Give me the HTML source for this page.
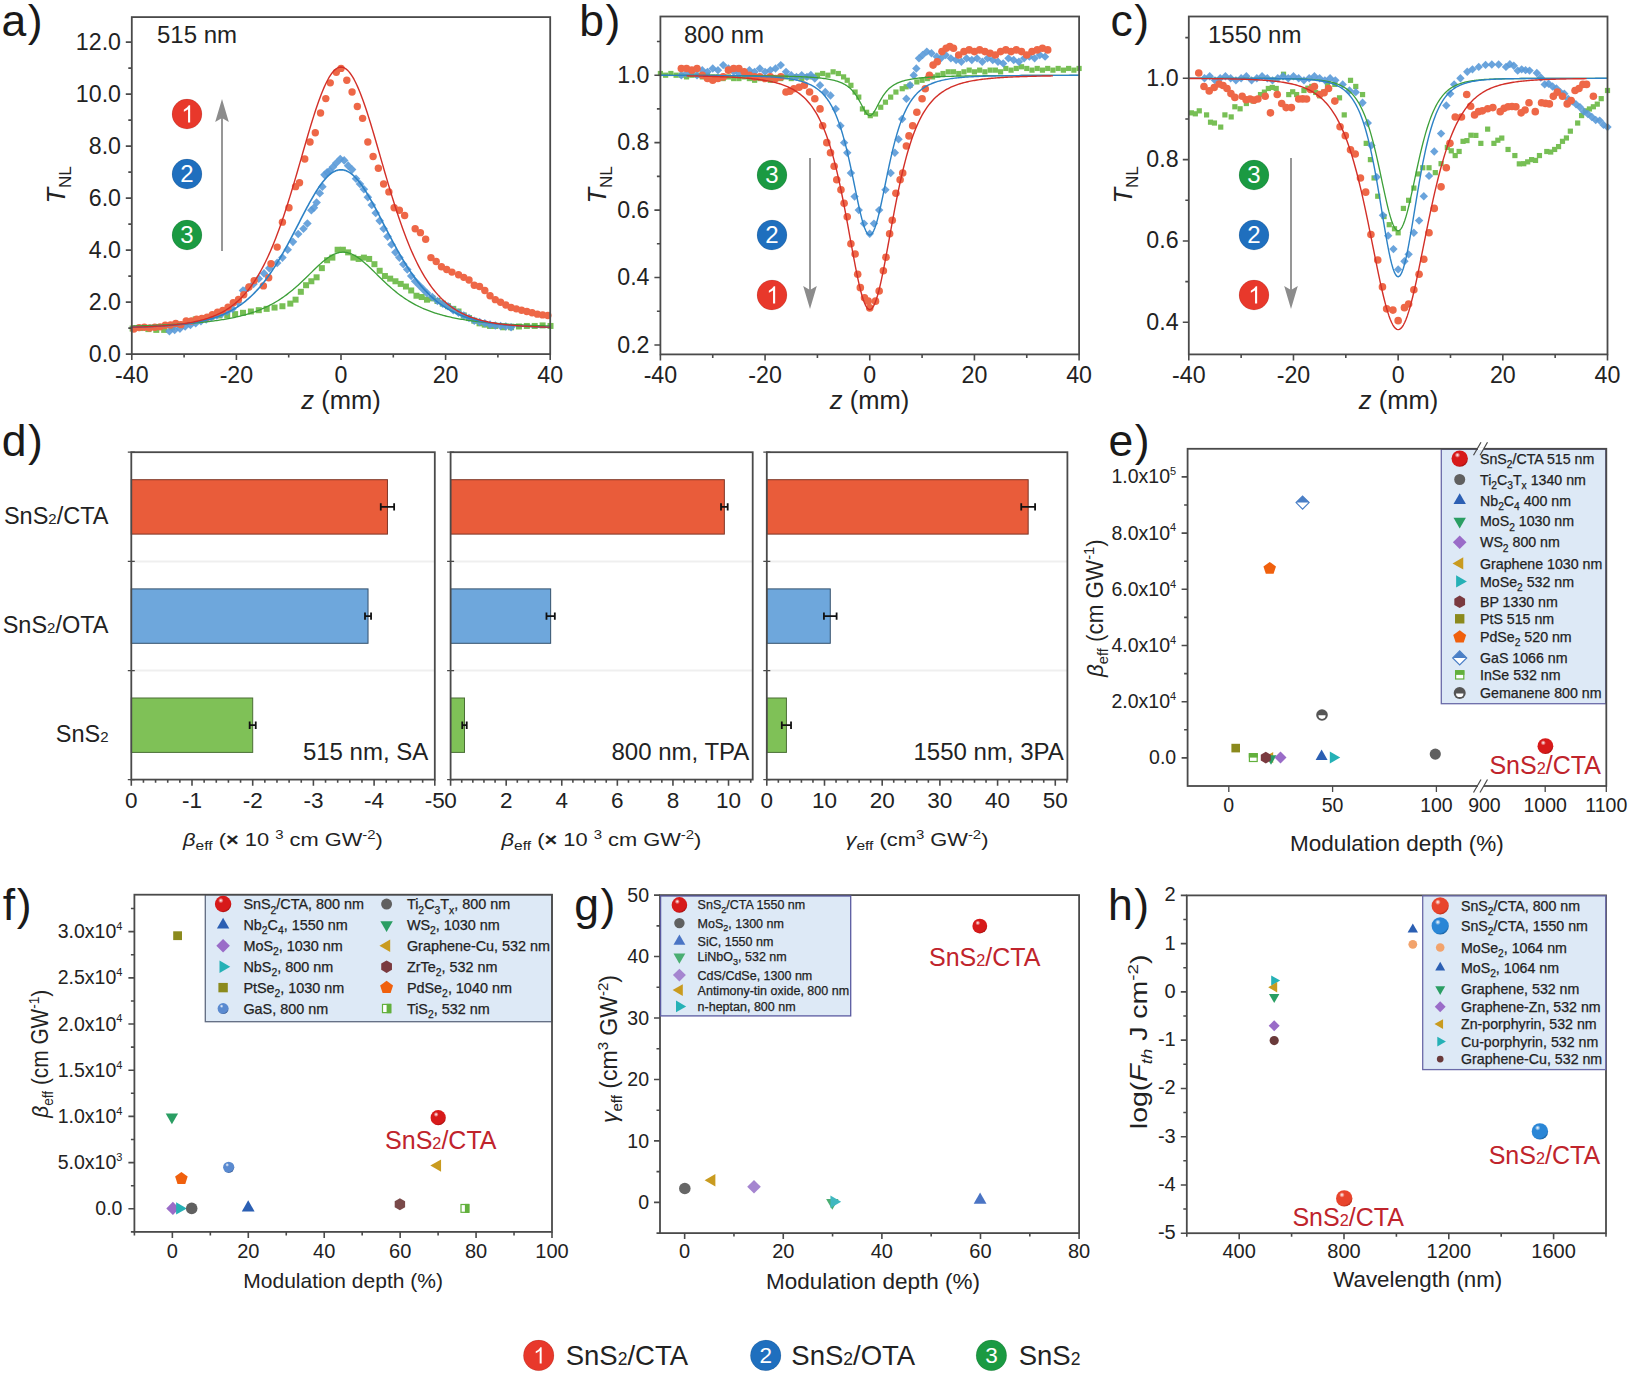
<!DOCTYPE html>
<html><head><meta charset="utf-8"><style>
html,body{margin:0;padding:0;background:#fff;}
svg{display:block;font-family:"Liberation Sans", sans-serif;}
</style></head><body>
<svg width="1636" height="1375" viewBox="0 0 1636 1375">
<defs><radialGradient id="sg1" cx="0.38" cy="0.32" r="0.75" fx="0.36" fy="0.28"><stop offset="0" stop-color="#ffffff"/><stop offset="0.22" stop-color="#d71a1a"/><stop offset="0.8" stop-color="#d71a1a"/><stop offset="1" stop-color="#8a0808"/></radialGradient>
<radialGradient id="sg2" cx="0.38" cy="0.32" r="0.75" fx="0.36" fy="0.28"><stop offset="0" stop-color="#ffffff"/><stop offset="0.22" stop-color="#d71a1a"/><stop offset="0.8" stop-color="#d71a1a"/><stop offset="1" stop-color="#8a0808"/></radialGradient>
<radialGradient id="sg3" cx="0.38" cy="0.32" r="0.75" fx="0.36" fy="0.28"><stop offset="0" stop-color="#ffffff"/><stop offset="0.22" stop-color="#d71a1a"/><stop offset="0.8" stop-color="#d71a1a"/><stop offset="1" stop-color="#8a0808"/></radialGradient>
<radialGradient id="sg4" cx="0.38" cy="0.32" r="0.75" fx="0.36" fy="0.28"><stop offset="0" stop-color="#ffffff"/><stop offset="0.22" stop-color="#5a8ad0"/><stop offset="0.8" stop-color="#5a8ad0"/><stop offset="1" stop-color="#2a4a80"/></radialGradient>
<radialGradient id="sg5" cx="0.38" cy="0.32" r="0.75" fx="0.36" fy="0.28"><stop offset="0" stop-color="#ffffff"/><stop offset="0.22" stop-color="#d71a1a"/><stop offset="0.8" stop-color="#d71a1a"/><stop offset="1" stop-color="#8a0808"/></radialGradient>
<radialGradient id="sg6" cx="0.38" cy="0.32" r="0.75" fx="0.36" fy="0.28"><stop offset="0" stop-color="#ffffff"/><stop offset="0.22" stop-color="#5a8ad0"/><stop offset="0.8" stop-color="#5a8ad0"/><stop offset="1" stop-color="#2a4a80"/></radialGradient>
<radialGradient id="sg7" cx="0.38" cy="0.32" r="0.75" fx="0.36" fy="0.28"><stop offset="0" stop-color="#ffffff"/><stop offset="0.22" stop-color="#d71a1a"/><stop offset="0.8" stop-color="#d71a1a"/><stop offset="1" stop-color="#8a0808"/></radialGradient>
<radialGradient id="sg8" cx="0.38" cy="0.32" r="0.75" fx="0.36" fy="0.28"><stop offset="0" stop-color="#ffffff"/><stop offset="0.22" stop-color="#d71a1a"/><stop offset="0.8" stop-color="#d71a1a"/><stop offset="1" stop-color="#8a0808"/></radialGradient>
<radialGradient id="sg9" cx="0.38" cy="0.32" r="0.75" fx="0.36" fy="0.28"><stop offset="0" stop-color="#ffffff"/><stop offset="0.22" stop-color="#2a86d6"/><stop offset="0.8" stop-color="#2a86d6"/><stop offset="1" stop-color="#10508a"/></radialGradient>
<radialGradient id="sg10" cx="0.38" cy="0.32" r="0.75" fx="0.36" fy="0.28"><stop offset="0" stop-color="#ffffff"/><stop offset="0.22" stop-color="#e8442c"/><stop offset="0.8" stop-color="#e8442c"/><stop offset="1" stop-color="#a02010"/></radialGradient>
<radialGradient id="sg11" cx="0.38" cy="0.32" r="0.75" fx="0.36" fy="0.28"><stop offset="0" stop-color="#ffffff"/><stop offset="0.22" stop-color="#e8442c"/><stop offset="0.8" stop-color="#e8442c"/><stop offset="1" stop-color="#a02010"/></radialGradient>
<radialGradient id="sg12" cx="0.38" cy="0.32" r="0.75" fx="0.36" fy="0.28"><stop offset="0" stop-color="#ffffff"/><stop offset="0.22" stop-color="#2a86d6"/><stop offset="0.8" stop-color="#2a86d6"/><stop offset="1" stop-color="#10508a"/></radialGradient></defs>
<rect width="1636" height="1375" fill="#fff"/>
<text x="1.5" y="35.8" font-size="44.5" letter-spacing="1.5" fill="#1a1a1a">a)</text>
<g>
<rect x="129.63" y="325.58" width="6" height="6" fill="#77bf55" fill-opacity="1"/>
<rect x="137.51" y="325.06" width="6" height="6" fill="#77bf55" fill-opacity="1"/>
<rect x="145.4" y="326.11" width="6" height="6" fill="#77bf55" fill-opacity="1"/>
<rect x="153.28" y="326.89" width="6" height="6" fill="#77bf55" fill-opacity="1"/>
<rect x="161.17" y="326.89" width="6" height="6" fill="#77bf55" fill-opacity="1"/>
<rect x="169.05" y="324.27" width="6" height="6" fill="#77bf55" fill-opacity="1"/>
<rect x="176.93" y="321.64" width="6" height="6" fill="#77bf55" fill-opacity="1"/>
<rect x="184.82" y="319.01" width="6" height="6" fill="#77bf55" fill-opacity="1"/>
<rect x="192.7" y="316.38" width="6" height="6" fill="#77bf55" fill-opacity="1"/>
<rect x="200.59" y="315.07" width="6" height="6" fill="#77bf55" fill-opacity="1"/>
<rect x="208.47" y="313.75" width="6" height="6" fill="#77bf55" fill-opacity="1"/>
<rect x="216.36" y="312.44" width="6" height="6" fill="#77bf55" fill-opacity="1"/>
<rect x="224.24" y="312.44" width="6" height="6" fill="#77bf55" fill-opacity="1"/>
<rect x="232.12" y="311.13" width="6" height="6" fill="#77bf55" fill-opacity="1"/>
<rect x="240.01" y="309.81" width="6" height="6" fill="#77bf55" fill-opacity="1"/>
<rect x="247.89" y="308.5" width="6" height="6" fill="#77bf55" fill-opacity="1"/>
<rect x="255.78" y="307.18" width="6" height="6" fill="#77bf55" fill-opacity="1"/>
<rect x="263.66" y="305.87" width="6" height="6" fill="#77bf55" fill-opacity="1"/>
<rect x="271.55" y="304.56" width="6" height="6" fill="#77bf55" fill-opacity="1"/>
<rect x="279.43" y="303.24" width="6" height="6" fill="#77bf55" fill-opacity="1"/>
<rect x="287.32" y="300.61" width="6" height="6" fill="#77bf55" fill-opacity="1"/>
<rect x="292.57" y="296.67" width="6" height="6" fill="#77bf55" fill-opacity="1"/>
<rect x="297.83" y="288.79" width="6" height="6" fill="#77bf55" fill-opacity="1"/>
<rect x="303.08" y="282.22" width="6" height="6" fill="#77bf55" fill-opacity="1"/>
<rect x="308.34" y="278.27" width="6" height="6" fill="#77bf55" fill-opacity="1"/>
<rect x="313.6" y="274.33" width="6" height="6" fill="#77bf55" fill-opacity="1"/>
<rect x="318.85" y="265.13" width="6" height="6" fill="#77bf55" fill-opacity="1"/>
<rect x="324.11" y="257.25" width="6" height="6" fill="#77bf55" fill-opacity="1"/>
<rect x="329.37" y="254.62" width="6" height="6" fill="#77bf55" fill-opacity="1"/>
<rect x="334.62" y="246.74" width="6" height="6" fill="#77bf55" fill-opacity="1"/>
<rect x="339.88" y="246.74" width="6" height="6" fill="#77bf55" fill-opacity="1"/>
<rect x="345.13" y="249.37" width="6" height="6" fill="#77bf55" fill-opacity="1"/>
<rect x="350.39" y="254.62" width="6" height="6" fill="#77bf55" fill-opacity="1"/>
<rect x="355.65" y="255.94" width="6" height="6" fill="#77bf55" fill-opacity="1"/>
<rect x="360.9" y="254.62" width="6" height="6" fill="#77bf55" fill-opacity="1"/>
<rect x="366.16" y="255.94" width="6" height="6" fill="#77bf55" fill-opacity="1"/>
<rect x="371.42" y="261.19" width="6" height="6" fill="#77bf55" fill-opacity="1"/>
<rect x="376.67" y="267.76" width="6" height="6" fill="#77bf55" fill-opacity="1"/>
<rect x="381.93" y="273.02" width="6" height="6" fill="#77bf55" fill-opacity="1"/>
<rect x="387.18" y="275.65" width="6" height="6" fill="#77bf55" fill-opacity="1"/>
<rect x="392.44" y="278.27" width="6" height="6" fill="#77bf55" fill-opacity="1"/>
<rect x="397.7" y="280.9" width="6" height="6" fill="#77bf55" fill-opacity="1"/>
<rect x="402.95" y="283.53" width="6" height="6" fill="#77bf55" fill-opacity="1"/>
<rect x="408.21" y="287.47" width="6" height="6" fill="#77bf55" fill-opacity="1"/>
<rect x="413.47" y="292.73" width="6" height="6" fill="#77bf55" fill-opacity="1"/>
<rect x="418.72" y="294.04" width="6" height="6" fill="#77bf55" fill-opacity="1"/>
<rect x="423.98" y="296.67" width="6" height="6" fill="#77bf55" fill-opacity="1"/>
<rect x="429.23" y="295.36" width="6" height="6" fill="#77bf55" fill-opacity="1"/>
<rect x="434.49" y="297.99" width="6" height="6" fill="#77bf55" fill-opacity="1"/>
<rect x="439.75" y="300.61" width="6" height="6" fill="#77bf55" fill-opacity="1"/>
<rect x="445" y="303.24" width="6" height="6" fill="#77bf55" fill-opacity="1"/>
<rect x="450.26" y="305.87" width="6" height="6" fill="#77bf55" fill-opacity="1"/>
<rect x="455.52" y="308.5" width="6" height="6" fill="#77bf55" fill-opacity="1"/>
<rect x="460.77" y="312.44" width="6" height="6" fill="#77bf55" fill-opacity="1"/>
<rect x="466.03" y="315.07" width="6" height="6" fill="#77bf55" fill-opacity="1"/>
<rect x="471.28" y="317.7" width="6" height="6" fill="#77bf55" fill-opacity="1"/>
<rect x="476.54" y="320.32" width="6" height="6" fill="#77bf55" fill-opacity="1"/>
<rect x="481.8" y="321.64" width="6" height="6" fill="#77bf55" fill-opacity="1"/>
<rect x="487.05" y="322.95" width="6" height="6" fill="#77bf55" fill-opacity="1"/>
<rect x="492.31" y="322.95" width="6" height="6" fill="#77bf55" fill-opacity="1"/>
<rect x="500.19" y="324.27" width="6" height="6" fill="#77bf55" fill-opacity="1"/>
<rect x="508.08" y="324.27" width="6" height="6" fill="#77bf55" fill-opacity="1"/>
<rect x="515.96" y="323.48" width="6" height="6" fill="#77bf55" fill-opacity="1"/>
<rect x="523.85" y="322.95" width="6" height="6" fill="#77bf55" fill-opacity="1"/>
<rect x="531.73" y="322.95" width="6" height="6" fill="#77bf55" fill-opacity="1"/>
<rect x="539.61" y="322.43" width="6" height="6" fill="#77bf55" fill-opacity="1"/>
<rect x="547.5" y="322.95" width="6" height="6" fill="#77bf55" fill-opacity="1"/>
<path d="M169.42 326.91L173.72 331.21L169.42 335.51L165.12 331.21Z" fill="#5a9ad8" fill-opacity="0.9"/>
<path d="M174.68 325.59L178.98 329.89L174.68 334.19L170.38 329.89Z" fill="#5a9ad8" fill-opacity="0.9"/>
<path d="M179.93 324.28L184.23 328.58L179.93 332.88L175.63 328.58Z" fill="#5a9ad8" fill-opacity="0.9"/>
<path d="M185.19 322.18L189.49 326.48L185.19 330.78L180.89 326.48Z" fill="#5a9ad8" fill-opacity="0.9"/>
<path d="M190.45 320.6L194.75 324.9L190.45 329.2L186.15 324.9Z" fill="#5a9ad8" fill-opacity="0.9"/>
<path d="M195.7 319.02L200 323.32L195.7 327.62L191.4 323.32Z" fill="#5a9ad8" fill-opacity="0.9"/>
<path d="M200.96 316.92L205.26 321.22L200.96 325.52L196.66 321.22Z" fill="#5a9ad8" fill-opacity="0.9"/>
<path d="M206.22 315.08L210.52 319.38L206.22 323.68L201.92 319.38Z" fill="#5a9ad8" fill-opacity="0.9"/>
<path d="M211.47 313.24L215.77 317.54L211.47 321.84L207.17 317.54Z" fill="#5a9ad8" fill-opacity="0.9"/>
<path d="M216.73 311.14L221.03 315.44L216.73 319.74L212.43 315.44Z" fill="#5a9ad8" fill-opacity="0.9"/>
<path d="M221.98 309.3L226.28 313.6L221.98 317.9L217.68 313.6Z" fill="#5a9ad8" fill-opacity="0.9"/>
<path d="M227.24 307.2L231.54 311.5L227.24 315.8L222.94 311.5Z" fill="#5a9ad8" fill-opacity="0.9"/>
<path d="M232.5 304.57L236.8 308.87L232.5 313.17L228.2 308.87Z" fill="#5a9ad8" fill-opacity="0.9"/>
<path d="M237.75 298L242.05 302.3L237.75 306.6L233.45 302.3Z" fill="#5a9ad8" fill-opacity="0.9"/>
<path d="M243.01 286.17L247.31 290.47L243.01 294.77L238.71 290.47Z" fill="#5a9ad8" fill-opacity="0.9"/>
<path d="M248.27 283.54L252.57 287.84L248.27 292.14L243.97 287.84Z" fill="#5a9ad8" fill-opacity="0.9"/>
<path d="M253.52 279.6L257.82 283.9L253.52 288.2L249.22 283.9Z" fill="#5a9ad8" fill-opacity="0.9"/>
<path d="M258.78 274.35L263.08 278.65L258.78 282.95L254.48 278.65Z" fill="#5a9ad8" fill-opacity="0.9"/>
<path d="M264.03 269.09L268.33 273.39L264.03 277.69L259.73 273.39Z" fill="#5a9ad8" fill-opacity="0.9"/>
<path d="M269.29 263.83L273.59 268.13L269.29 272.43L264.99 268.13Z" fill="#5a9ad8" fill-opacity="0.9"/>
<path d="M277.17 258.58L281.47 262.88L277.17 267.18L272.87 262.88Z" fill="#5a9ad8" fill-opacity="0.9"/>
<path d="M282.43 253.32L286.73 257.62L282.43 261.92L278.13 257.62Z" fill="#5a9ad8" fill-opacity="0.9"/>
<path d="M287.69 245.44L291.99 249.74L287.69 254.04L283.39 249.74Z" fill="#5a9ad8" fill-opacity="0.9"/>
<path d="M292.94 237.55L297.24 241.85L292.94 246.15L288.64 241.85Z" fill="#5a9ad8" fill-opacity="0.9"/>
<path d="M298.2 229.67L302.5 233.97L298.2 238.27L293.9 233.97Z" fill="#5a9ad8" fill-opacity="0.9"/>
<path d="M303.46 224.41L307.76 228.71L303.46 233.01L299.16 228.71Z" fill="#5a9ad8" fill-opacity="0.9"/>
<path d="M307.4 219.16L311.7 223.46L307.4 227.76L303.1 223.46Z" fill="#5a9ad8" fill-opacity="0.9"/>
<path d="M311.34 206.02L315.64 210.32L311.34 214.62L307.04 210.32Z" fill="#5a9ad8" fill-opacity="0.9"/>
<path d="M313.97 203.39L318.27 207.69L313.97 211.99L309.67 207.69Z" fill="#5a9ad8" fill-opacity="0.9"/>
<path d="M316.6 198.13L320.9 202.43L316.6 206.73L312.3 202.43Z" fill="#5a9ad8" fill-opacity="0.9"/>
<path d="M319.75 188.93L324.05 193.23L319.75 197.53L315.45 193.23Z" fill="#5a9ad8" fill-opacity="0.9"/>
<path d="M322.38 182.36L326.68 186.66L322.38 190.96L318.08 186.66Z" fill="#5a9ad8" fill-opacity="0.9"/>
<path d="M324.48 170.54L328.78 174.84L324.48 179.14L320.18 174.84Z" fill="#5a9ad8" fill-opacity="0.9"/>
<path d="M327.11 167.91L331.41 172.21L327.11 176.51L322.81 172.21Z" fill="#5a9ad8" fill-opacity="0.9"/>
<path d="M329.74 166.59L334.04 170.89L329.74 175.19L325.44 170.89Z" fill="#5a9ad8" fill-opacity="0.9"/>
<path d="M332.89 162.65L337.19 166.95L332.89 171.25L328.59 166.95Z" fill="#5a9ad8" fill-opacity="0.9"/>
<path d="M336.31 158.71L340.61 163.01L336.31 167.31L332.01 163.01Z" fill="#5a9ad8" fill-opacity="0.9"/>
<path d="M340.25 154.77L344.55 159.07L340.25 163.37L335.95 159.07Z" fill="#5a9ad8" fill-opacity="0.9"/>
<path d="M344.19 156.08L348.49 160.38L344.19 164.68L339.89 160.38Z" fill="#5a9ad8" fill-opacity="0.9"/>
<path d="M348.13 161.34L352.43 165.64L348.13 169.94L343.83 165.64Z" fill="#5a9ad8" fill-opacity="0.9"/>
<path d="M352.08 165.28L356.38 169.58L352.08 173.88L347.78 169.58Z" fill="#5a9ad8" fill-opacity="0.9"/>
<path d="M356.02 174.48L360.32 178.78L356.02 183.08L351.72 178.78Z" fill="#5a9ad8" fill-opacity="0.9"/>
<path d="M359.96 179.73L364.26 184.03L359.96 188.33L355.66 184.03Z" fill="#5a9ad8" fill-opacity="0.9"/>
<path d="M363.9 184.99L368.2 189.29L363.9 193.59L359.6 189.29Z" fill="#5a9ad8" fill-opacity="0.9"/>
<path d="M367.84 192.87L372.14 197.17L367.84 201.47L363.54 197.17Z" fill="#5a9ad8" fill-opacity="0.9"/>
<path d="M371.79 200.76L376.09 205.06L371.79 209.36L367.49 205.06Z" fill="#5a9ad8" fill-opacity="0.9"/>
<path d="M375.73 208.64L380.03 212.94L375.73 217.24L371.43 212.94Z" fill="#5a9ad8" fill-opacity="0.9"/>
<path d="M379.67 216.53L383.97 220.83L379.67 225.13L375.37 220.83Z" fill="#5a9ad8" fill-opacity="0.9"/>
<path d="M383.61 224.41L387.91 228.71L383.61 233.01L379.31 228.71Z" fill="#5a9ad8" fill-opacity="0.9"/>
<path d="M387.56 232.3L391.86 236.6L387.56 240.9L383.26 236.6Z" fill="#5a9ad8" fill-opacity="0.9"/>
<path d="M391.5 240.18L395.8 244.48L391.5 248.78L387.2 244.48Z" fill="#5a9ad8" fill-opacity="0.9"/>
<path d="M395.44 248.07L399.74 252.37L395.44 256.67L391.14 252.37Z" fill="#5a9ad8" fill-opacity="0.9"/>
<path d="M399.38 253.32L403.68 257.62L399.38 261.92L395.08 257.62Z" fill="#5a9ad8" fill-opacity="0.9"/>
<path d="M403.32 259.89L407.62 264.19L403.32 268.49L399.02 264.19Z" fill="#5a9ad8" fill-opacity="0.9"/>
<path d="M407.27 265.15L411.57 269.45L407.27 273.75L402.97 269.45Z" fill="#5a9ad8" fill-opacity="0.9"/>
<path d="M411.21 271.72L415.51 276.02L411.21 280.32L406.91 276.02Z" fill="#5a9ad8" fill-opacity="0.9"/>
<path d="M415.15 276.97L419.45 281.27L415.15 285.57L410.85 281.27Z" fill="#5a9ad8" fill-opacity="0.9"/>
<path d="M419.09 280.92L423.39 285.22L419.09 289.52L414.79 285.22Z" fill="#5a9ad8" fill-opacity="0.9"/>
<path d="M423.04 284.86L427.34 289.16L423.04 293.46L418.74 289.16Z" fill="#5a9ad8" fill-opacity="0.9"/>
<path d="M426.98 288.8L431.28 293.1L426.98 297.4L422.68 293.1Z" fill="#5a9ad8" fill-opacity="0.9"/>
<path d="M432.23 292.74L436.53 297.04L432.23 301.34L427.93 297.04Z" fill="#5a9ad8" fill-opacity="0.9"/>
<path d="M437.49 296.69L441.79 300.99L437.49 305.29L433.19 300.99Z" fill="#5a9ad8" fill-opacity="0.9"/>
<path d="M442.75 299.31L447.05 303.61L442.75 307.91L438.45 303.61Z" fill="#5a9ad8" fill-opacity="0.9"/>
<path d="M448 301.94L452.3 306.24L448 310.54L443.7 306.24Z" fill="#5a9ad8" fill-opacity="0.9"/>
<path d="M453.26 305.88L457.56 310.18L453.26 314.48L448.96 310.18Z" fill="#5a9ad8" fill-opacity="0.9"/>
<path d="M458.52 308.51L462.82 312.81L458.52 317.11L454.22 312.81Z" fill="#5a9ad8" fill-opacity="0.9"/>
<path d="M463.77 311.14L468.07 315.44L463.77 319.74L459.47 315.44Z" fill="#5a9ad8" fill-opacity="0.9"/>
<path d="M469.03 313.77L473.33 318.07L469.03 322.37L464.73 318.07Z" fill="#5a9ad8" fill-opacity="0.9"/>
<path d="M474.28 316.4L478.58 320.7L474.28 325L469.98 320.7Z" fill="#5a9ad8" fill-opacity="0.9"/>
<path d="M479.54 317.71L483.84 322.01L479.54 326.31L475.24 322.01Z" fill="#5a9ad8" fill-opacity="0.9"/>
<path d="M484.8 319.02L489.1 323.32L484.8 327.62L480.5 323.32Z" fill="#5a9ad8" fill-opacity="0.9"/>
<path d="M490.05 320.34L494.35 324.64L490.05 328.94L485.75 324.64Z" fill="#5a9ad8" fill-opacity="0.9"/>
<path d="M495.31 321.13L499.61 325.43L495.31 329.73L491.01 325.43Z" fill="#5a9ad8" fill-opacity="0.9"/>
<path d="M500.57 321.65L504.87 325.95L500.57 330.25L496.27 325.95Z" fill="#5a9ad8" fill-opacity="0.9"/>
<path d="M505.82 322.18L510.12 326.48L505.82 330.78L501.52 326.48Z" fill="#5a9ad8" fill-opacity="0.9"/>
<path d="M511.08 322.97L515.38 327.27L511.08 331.57L506.78 327.27Z" fill="#5a9ad8" fill-opacity="0.9"/>
<circle cx="133.89" cy="329.09" r="3.7" fill="#ee6747" fill-opacity="1"/>
<circle cx="139.12" cy="327.58" r="3.7" fill="#ee6747" fill-opacity="1"/>
<circle cx="144.35" cy="327.19" r="3.7" fill="#ee6747" fill-opacity="1"/>
<circle cx="149.58" cy="328.01" r="3.7" fill="#ee6747" fill-opacity="1"/>
<circle cx="154.81" cy="327.27" r="3.7" fill="#ee6747" fill-opacity="1"/>
<circle cx="160.04" cy="326.83" r="3.7" fill="#ee6747" fill-opacity="1"/>
<circle cx="165.27" cy="325.3" r="3.7" fill="#ee6747" fill-opacity="1"/>
<circle cx="170.5" cy="325.03" r="3.7" fill="#ee6747" fill-opacity="1"/>
<circle cx="175.73" cy="323.57" r="3.7" fill="#ee6747" fill-opacity="1"/>
<circle cx="180.96" cy="324.66" r="3.7" fill="#ee6747" fill-opacity="1"/>
<circle cx="186.19" cy="320.93" r="3.7" fill="#ee6747" fill-opacity="1"/>
<circle cx="191.42" cy="321.02" r="3.7" fill="#ee6747" fill-opacity="1"/>
<circle cx="196.65" cy="319.16" r="3.7" fill="#ee6747" fill-opacity="1"/>
<circle cx="201.88" cy="318.51" r="3.7" fill="#ee6747" fill-opacity="1"/>
<circle cx="207.11" cy="317.16" r="3.7" fill="#ee6747" fill-opacity="1"/>
<circle cx="212.34" cy="314.66" r="3.7" fill="#ee6747" fill-opacity="1"/>
<circle cx="217.57" cy="312.17" r="3.7" fill="#ee6747" fill-opacity="1"/>
<circle cx="222.8" cy="310.33" r="3.7" fill="#ee6747" fill-opacity="1"/>
<circle cx="228.03" cy="307.14" r="3.7" fill="#ee6747" fill-opacity="1"/>
<circle cx="233.26" cy="302.73" r="3.7" fill="#ee6747" fill-opacity="1"/>
<circle cx="238.49" cy="299.49" r="3.7" fill="#ee6747" fill-opacity="1"/>
<circle cx="243.72" cy="294.72" r="3.7" fill="#ee6747" fill-opacity="1"/>
<circle cx="248.95" cy="287.03" r="3.7" fill="#ee6747" fill-opacity="1"/>
<circle cx="254.18" cy="280.59" r="3.7" fill="#ee6747" fill-opacity="1"/>
<circle cx="263.4" cy="285.9" r="3.7" fill="#ee6747" fill-opacity="1"/>
<circle cx="268.71" cy="277.7" r="3.7" fill="#ee6747" fill-opacity="1"/>
<circle cx="271" cy="263.8" r="3.7" fill="#ee6747" fill-opacity="1"/>
<circle cx="277.17" cy="247.11" r="3.7" fill="#ee6747" fill-opacity="1"/>
<circle cx="282.43" cy="222.14" r="3.7" fill="#ee6747" fill-opacity="1"/>
<circle cx="289" cy="207.69" r="3.7" fill="#ee6747" fill-opacity="1"/>
<circle cx="295.57" cy="186.66" r="3.7" fill="#ee6747" fill-opacity="1"/>
<circle cx="299.51" cy="182.72" r="3.7" fill="#ee6747" fill-opacity="1"/>
<circle cx="304.77" cy="159.07" r="3.7" fill="#ee6747" fill-opacity="1"/>
<circle cx="310.03" cy="141.98" r="3.7" fill="#ee6747" fill-opacity="1"/>
<circle cx="315.28" cy="132.79" r="3.7" fill="#ee6747" fill-opacity="1"/>
<circle cx="320.54" cy="113.07" r="3.7" fill="#ee6747" fill-opacity="1"/>
<circle cx="325.8" cy="98.62" r="3.7" fill="#ee6747" fill-opacity="1"/>
<circle cx="330.26" cy="82.85" r="3.7" fill="#ee6747" fill-opacity="1"/>
<circle cx="336.31" cy="72.34" r="3.7" fill="#ee6747" fill-opacity="1"/>
<circle cx="341.04" cy="68.4" r="3.7" fill="#ee6747" fill-opacity="1"/>
<circle cx="346.82" cy="80.22" r="3.7" fill="#ee6747" fill-opacity="1"/>
<circle cx="352.08" cy="92.05" r="3.7" fill="#ee6747" fill-opacity="1"/>
<circle cx="357.33" cy="106.5" r="3.7" fill="#ee6747" fill-opacity="1"/>
<circle cx="362.59" cy="118.33" r="3.7" fill="#ee6747" fill-opacity="1"/>
<circle cx="367.84" cy="141.98" r="3.7" fill="#ee6747" fill-opacity="1"/>
<circle cx="373.1" cy="156.44" r="3.7" fill="#ee6747" fill-opacity="1"/>
<circle cx="378.36" cy="168.27" r="3.7" fill="#ee6747" fill-opacity="1"/>
<circle cx="383.61" cy="184.03" r="3.7" fill="#ee6747" fill-opacity="1"/>
<circle cx="388.87" cy="191.92" r="3.7" fill="#ee6747" fill-opacity="1"/>
<circle cx="394.13" cy="207.69" r="3.7" fill="#ee6747" fill-opacity="1"/>
<circle cx="399.38" cy="210.32" r="3.7" fill="#ee6747" fill-opacity="1"/>
<circle cx="404.64" cy="215.57" r="3.7" fill="#ee6747" fill-opacity="1"/>
<circle cx="415.15" cy="228.71" r="3.7" fill="#ee6747" fill-opacity="1"/>
<circle cx="420.41" cy="232.65" r="3.7" fill="#ee6747" fill-opacity="1"/>
<circle cx="425.66" cy="239.22" r="3.7" fill="#ee6747" fill-opacity="1"/>
<circle cx="430.92" cy="257.62" r="3.7" fill="#ee6747" fill-opacity="1"/>
<circle cx="436.18" cy="261.56" r="3.7" fill="#ee6747" fill-opacity="1"/>
<circle cx="441.43" cy="266.82" r="3.7" fill="#ee6747" fill-opacity="1"/>
<circle cx="446.69" cy="269.45" r="3.7" fill="#ee6747" fill-opacity="1"/>
<circle cx="451.94" cy="272.08" r="3.7" fill="#ee6747" fill-opacity="1"/>
<circle cx="458.52" cy="274.7" r="3.7" fill="#ee6747" fill-opacity="1"/>
<circle cx="463.77" cy="277.33" r="3.7" fill="#ee6747" fill-opacity="1"/>
<circle cx="469.03" cy="279.96" r="3.7" fill="#ee6747" fill-opacity="1"/>
<circle cx="474.28" cy="285.22" r="3.7" fill="#ee6747" fill-opacity="1"/>
<circle cx="479.54" cy="286.53" r="3.7" fill="#ee6747" fill-opacity="1"/>
<circle cx="484.8" cy="290.47" r="3.7" fill="#ee6747" fill-opacity="1"/>
<circle cx="490.05" cy="295.73" r="3.7" fill="#ee6747" fill-opacity="1"/>
<circle cx="495.31" cy="299.67" r="3.7" fill="#ee6747" fill-opacity="1"/>
<circle cx="500.57" cy="302.3" r="3.7" fill="#ee6747" fill-opacity="1"/>
<circle cx="505.82" cy="304.93" r="3.7" fill="#ee6747" fill-opacity="1"/>
<circle cx="511.08" cy="307.56" r="3.7" fill="#ee6747" fill-opacity="1"/>
<circle cx="516.33" cy="308.87" r="3.7" fill="#ee6747" fill-opacity="1"/>
<circle cx="521.59" cy="310.18" r="3.7" fill="#ee6747" fill-opacity="1"/>
<circle cx="526.85" cy="311.5" r="3.7" fill="#ee6747" fill-opacity="1"/>
<circle cx="532.1" cy="312.81" r="3.7" fill="#ee6747" fill-opacity="1"/>
<circle cx="537.36" cy="314.13" r="3.7" fill="#ee6747" fill-opacity="1"/>
<circle cx="542.61" cy="314.91" r="3.7" fill="#ee6747" fill-opacity="1"/>
<circle cx="547.87" cy="315.44" r="3.7" fill="#ee6747" fill-opacity="1"/>
<polyline points="131.8,326.07 133.11,326.04 134.42,326 135.72,325.97 137.03,325.93 138.34,325.89 139.65,325.86 140.95,325.82 142.26,325.77 143.57,325.73 144.88,325.69 146.18,325.65 147.49,325.6 148.8,325.56 150.11,325.51 151.41,325.46 152.72,325.41 154.03,325.36 155.34,325.31 156.64,325.26 157.95,325.21 159.26,325.15 160.57,325.1 161.87,325.04 163.18,324.98 164.49,324.92 165.8,324.86 167.1,324.79 168.41,324.73 169.72,324.66 171.03,324.59 172.33,324.52 173.64,324.45 174.95,324.37 176.26,324.3 177.56,324.22 178.87,324.14 180.18,324.06 181.49,323.97 182.79,323.89 184.1,323.8 185.41,323.7 186.72,323.61 188.02,323.51 189.33,323.41 190.64,323.31 191.95,323.21 193.25,323.1 194.56,322.99 195.87,322.87 197.18,322.76 198.48,322.63 199.79,322.51 201.1,322.38 202.41,322.25 203.71,322.11 205.02,321.98 206.33,321.83 207.64,321.68 208.94,321.53 210.25,321.37 211.56,321.21 212.87,321.05 214.17,320.88 215.48,320.7 216.79,320.52 218.1,320.33 219.4,320.14 220.71,319.94 222.02,319.73 223.33,319.52 224.63,319.3 225.94,319.07 227.25,318.84 228.56,318.6 229.86,318.35 231.17,318.1 232.48,317.83 233.79,317.56 235.09,317.28 236.4,316.99 237.71,316.69 239.02,316.38 240.32,316.06 241.63,315.73 242.94,315.39 244.25,315.04 245.55,314.67 246.86,314.3 248.17,313.91 249.48,313.51 250.78,313.09 252.09,312.67 253.4,312.22 254.71,311.77 256.01,311.29 257.32,310.81 258.63,310.3 259.94,309.78 261.24,309.24 262.55,308.69 263.86,308.11 265.17,307.52 266.47,306.91 267.78,306.28 269.09,305.63 270.39,304.95 271.7,304.26 273.01,303.54 274.32,302.81 275.62,302.05 276.93,301.26 278.24,300.45 279.55,299.62 280.86,298.77 282.16,297.89 283.47,296.98 284.78,296.05 286.09,295.1 287.39,294.12 288.7,293.11 290.01,292.08 291.32,291.02 292.62,289.95 293.93,288.84 295.24,287.72 296.55,286.57 297.85,285.4 299.16,284.21 300.47,283 301.78,281.78 303.08,280.53 304.39,279.28 305.7,278.01 307,276.74 308.31,275.45 309.62,274.16 310.93,272.88 312.24,271.59 313.54,270.31 314.85,269.04 316.16,267.78 317.47,266.54 318.77,265.33 320.08,264.13 321.39,262.97 322.7,261.85 324,260.76 325.31,259.72 326.62,258.73 327.93,257.8 329.23,256.92 330.54,256.1 331.85,255.36 333.16,254.68 334.46,254.08 335.77,253.55 337.08,253.11 338.39,252.75 339.69,252.48 341,252.29 342.31,252.2 343.62,252.19 344.92,252.27 346.23,252.44 347.54,252.69 348.85,253.03 350.15,253.46 351.46,253.97 352.77,254.55 354.08,255.21 355.38,255.95 356.69,256.75 358,257.61 359.31,258.54 360.61,259.52 361.92,260.55 363.23,261.63 364.54,262.75 365.84,263.9 367.15,265.09 368.46,266.3 369.76,267.53 371.07,268.79 372.38,270.06 373.69,271.33 375,272.62 376.3,273.91 377.61,275.19 378.92,276.48 380.23,277.76 381.53,279.03 382.84,280.28 384.15,281.53 385.46,282.76 386.76,283.97 388.07,285.16 389.38,286.34 390.69,287.49 391.99,288.62 393.3,289.73 394.61,290.81 395.92,291.87 397.22,292.91 398.53,293.92 399.84,294.9 401.15,295.86 402.45,296.8 403.76,297.71 405.07,298.59 406.38,299.45 407.68,300.29 408.99,301.1 410.3,301.89 411.61,302.66 412.91,303.4 414.22,304.12 415.53,304.82 416.84,305.49 418.14,306.15 419.45,306.78 420.76,307.4 422.06,308 423.37,308.57 424.68,309.13 425.99,309.67 427.3,310.2 428.6,310.71 429.91,311.2 431.22,311.67 432.53,312.13 433.83,312.58 435.14,313.01 436.45,313.43 437.75,313.83 439.06,314.22 440.37,314.6 441.68,314.97 442.99,315.32 444.29,315.66 445.6,316 446.91,316.32 448.22,316.63 449.52,316.93 450.83,317.22 452.14,317.51 453.45,317.78 454.75,318.05 456.06,318.3 457.37,318.55 458.68,318.79 459.98,319.03 461.29,319.26 462.6,319.48 463.91,319.69 465.21,319.9 466.52,320.1 467.83,320.29 469.14,320.48 470.44,320.66 471.75,320.84 473.06,321.01 474.37,321.18 475.67,321.34 476.98,321.5 478.29,321.65 479.6,321.8 480.9,321.95 482.21,322.09 483.52,322.22 484.83,322.36 486.13,322.48 487.44,322.61 488.75,322.73 490.06,322.85 491.36,322.96 492.67,323.08 493.98,323.18 495.29,323.29 496.59,323.39 497.9,323.49 499.21,323.59 500.52,323.69 501.82,323.78 503.13,323.87 504.44,323.95 505.75,324.04 507.05,324.12 508.36,324.2 509.67,324.28 510.98,324.36 512.28,324.43 513.59,324.51 514.9,324.58 516.21,324.65 517.51,324.71 518.82,324.78 520.13,324.84 521.44,324.91 522.74,324.97 524.05,325.03 525.36,325.08 526.66,325.14 527.97,325.2 529.28,325.25 530.59,325.3 531.89,325.35 533.2,325.4 534.51,325.45 535.82,325.5 537.12,325.55 538.43,325.59 539.74,325.64 541.05,325.68 542.36,325.73 543.66,325.77 544.97,325.81 546.28,325.85 547.59,325.89 548.89,325.92 550.2,325.96" fill="none" stroke="#3c9f38" stroke-width="1.3" stroke-linejoin="round"/>
<polyline points="131.8,327.22 133.11,327.19 134.42,327.16 135.72,327.12 137.03,327.09 138.34,327.05 139.65,327.01 140.95,326.97 142.26,326.92 143.57,326.88 144.88,326.83 146.18,326.79 147.49,326.73 148.8,326.68 150.11,326.63 151.41,326.57 152.72,326.51 154.03,326.45 155.34,326.39 156.64,326.32 157.95,326.25 159.26,326.18 160.57,326.1 161.87,326.02 163.18,325.94 164.49,325.86 165.8,325.77 167.1,325.67 168.41,325.58 169.72,325.48 171.03,325.37 172.33,325.26 173.64,325.15 174.95,325.03 176.26,324.91 177.56,324.78 178.87,324.64 180.18,324.5 181.49,324.36 182.79,324.21 184.1,324.05 185.41,323.88 186.72,323.71 188.02,323.53 189.33,323.34 190.64,323.15 191.95,322.94 193.25,322.73 194.56,322.51 195.87,322.28 197.18,322.03 198.48,321.78 199.79,321.52 201.1,321.25 202.41,320.96 203.71,320.67 205.02,320.36 206.33,320.04 207.64,319.7 208.94,319.35 210.25,318.99 211.56,318.61 212.87,318.21 214.17,317.8 215.48,317.37 216.79,316.92 218.1,316.46 219.4,315.97 220.71,315.47 222.02,314.94 223.33,314.4 224.63,313.83 225.94,313.24 227.25,312.62 228.56,311.98 229.86,311.32 231.17,310.63 232.48,309.91 233.79,309.16 235.09,308.38 236.4,307.58 237.71,306.74 239.02,305.87 240.32,304.97 241.63,304.04 242.94,303.07 244.25,302.07 245.55,301.03 246.86,299.95 248.17,298.83 249.48,297.68 250.78,296.48 252.09,295.25 253.4,293.97 254.71,292.65 256.01,291.29 257.32,289.88 258.63,288.43 259.94,286.93 261.24,285.39 262.55,283.8 263.86,282.17 265.17,280.49 266.47,278.76 267.78,276.99 269.09,275.16 270.39,273.3 271.7,271.38 273.01,269.42 274.32,267.41 275.62,265.36 276.93,263.27 278.24,261.13 279.55,258.95 280.86,256.72 282.16,254.46 283.47,252.16 284.78,249.83 286.09,247.46 287.39,245.06 288.7,242.63 290.01,240.18 291.32,237.7 292.62,235.2 293.93,232.69 295.24,230.16 296.55,227.62 297.85,225.08 299.16,222.53 300.47,219.99 301.78,217.46 303.08,214.94 304.39,212.43 305.7,209.95 307,207.49 308.31,205.07 309.62,202.68 310.93,200.34 312.24,198.04 313.54,195.8 314.85,193.61 316.16,191.5 317.47,189.45 318.77,187.47 320.08,185.58 321.39,183.77 322.7,182.06 324,180.44 325.31,178.91 326.62,177.5 327.93,176.19 329.23,174.99 330.54,173.91 331.85,172.95 333.16,172.11 334.46,171.4 335.77,170.81 337.08,170.35 338.39,170.02 339.69,169.83 341,169.76 342.31,169.83 343.62,170.02 344.92,170.35 346.23,170.81 347.54,171.4 348.85,172.11 350.15,172.95 351.46,173.91 352.77,174.99 354.08,176.19 355.38,177.5 356.69,178.91 358,180.44 359.31,182.06 360.61,183.77 361.92,185.58 363.23,187.47 364.54,189.45 365.84,191.5 367.15,193.61 368.46,195.8 369.76,198.04 371.07,200.34 372.38,202.68 373.69,205.07 375,207.49 376.3,209.95 377.61,212.43 378.92,214.94 380.23,217.46 381.53,219.99 382.84,222.53 384.15,225.08 385.46,227.62 386.76,230.16 388.07,232.69 389.38,235.2 390.69,237.7 391.99,240.18 393.3,242.63 394.61,245.06 395.92,247.46 397.22,249.83 398.53,252.16 399.84,254.46 401.15,256.72 402.45,258.95 403.76,261.13 405.07,263.27 406.38,265.36 407.68,267.41 408.99,269.42 410.3,271.38 411.61,273.3 412.91,275.16 414.22,276.99 415.53,278.76 416.84,280.49 418.14,282.17 419.45,283.8 420.76,285.39 422.06,286.93 423.37,288.43 424.68,289.88 425.99,291.29 427.3,292.65 428.6,293.97 429.91,295.25 431.22,296.48 432.53,297.68 433.83,298.83 435.14,299.95 436.45,301.03 437.75,302.07 439.06,303.07 440.37,304.04 441.68,304.97 442.99,305.87 444.29,306.74 445.6,307.58 446.91,308.38 448.22,309.16 449.52,309.91 450.83,310.63 452.14,311.32 453.45,311.98 454.75,312.62 456.06,313.24 457.37,313.83 458.68,314.4 459.98,314.94 461.29,315.47 462.6,315.97 463.91,316.46 465.21,316.92 466.52,317.37 467.83,317.8 469.14,318.21 470.44,318.61 471.75,318.99 473.06,319.35 474.37,319.7 475.67,320.04 476.98,320.36 478.29,320.67 479.6,320.96 480.9,321.25 482.21,321.52 483.52,321.78 484.83,322.03 486.13,322.28 487.44,322.51 488.75,322.73 490.06,322.94 491.36,323.15 492.67,323.34 493.98,323.53 495.29,323.71 496.59,323.88 497.9,324.05 499.21,324.21 500.52,324.36 501.82,324.5 503.13,324.64 504.44,324.78 505.75,324.91 507.05,325.03 508.36,325.15 509.67,325.26 510.98,325.37 512.28,325.48 513.59,325.58 514.9,325.67 516.21,325.77 517.51,325.86 518.82,325.94 520.13,326.02 521.44,326.1 522.74,326.18 524.05,326.25 525.36,326.32 526.66,326.39 527.97,326.45 529.28,326.51 530.59,326.57 531.89,326.63 533.2,326.68 534.51,326.73 535.82,326.79 537.12,326.83 538.43,326.88 539.74,326.92 541.05,326.97 542.36,327.01 543.66,327.05 544.97,327.09 546.28,327.12 547.59,327.16 548.89,327.19 550.2,327.22" fill="none" stroke="#2d82c6" stroke-width="1.6" stroke-linejoin="round"/>
<polyline points="131.8,327.21 133.11,327.17 134.42,327.14 135.72,327.1 137.03,327.06 138.34,327.02 139.65,326.98 140.95,326.93 142.26,326.89 143.57,326.84 144.88,326.79 146.18,326.74 147.49,326.68 148.8,326.63 150.11,326.57 151.41,326.5 152.72,326.44 154.03,326.37 155.34,326.3 156.64,326.23 157.95,326.15 159.26,326.07 160.57,325.99 161.87,325.9 163.18,325.81 164.49,325.71 165.8,325.61 167.1,325.51 168.41,325.4 169.72,325.28 171.03,325.17 172.33,325.04 173.64,324.91 174.95,324.77 176.26,324.63 177.56,324.48 178.87,324.33 180.18,324.17 181.49,324 182.79,323.82 184.1,323.63 185.41,323.44 186.72,323.23 188.02,323.02 189.33,322.8 190.64,322.57 191.95,322.32 193.25,322.07 194.56,321.8 195.87,321.52 197.18,321.23 198.48,320.93 199.79,320.61 201.1,320.27 202.41,319.92 203.71,319.56 205.02,319.17 206.33,318.77 207.64,318.36 208.94,317.92 210.25,317.46 211.56,316.98 212.87,316.48 214.17,315.95 215.48,315.4 216.79,314.83 218.1,314.23 219.4,313.6 220.71,312.95 222.02,312.26 223.33,311.54 224.63,310.79 225.94,310.01 227.25,309.19 228.56,308.34 229.86,307.44 231.17,306.51 232.48,305.53 233.79,304.52 235.09,303.46 236.4,302.35 237.71,301.19 239.02,299.98 240.32,298.73 241.63,297.42 242.94,296.05 244.25,294.63 245.55,293.14 246.86,291.6 248.17,289.99 249.48,288.32 250.78,286.58 252.09,284.77 253.4,282.89 254.71,280.94 256.01,278.91 257.32,276.81 258.63,274.62 259.94,272.36 261.24,270.02 262.55,267.59 263.86,265.08 265.17,262.48 266.47,259.79 267.78,257.02 269.09,254.15 270.39,251.2 271.7,248.15 273.01,245.02 274.32,241.79 275.62,238.47 276.93,235.06 278.24,231.57 279.55,227.98 280.86,224.31 282.16,220.55 283.47,216.7 284.78,212.78 286.09,208.78 287.39,204.7 288.7,200.55 290.01,196.34 291.32,192.06 292.62,187.73 293.93,183.34 295.24,178.91 296.55,174.44 297.85,169.94 299.16,165.42 300.47,160.88 301.78,156.33 303.08,151.78 304.39,147.24 305.7,142.72 307,138.24 308.31,133.79 309.62,129.39 310.93,125.06 312.24,120.8 313.54,116.62 314.85,112.54 316.16,108.56 317.47,104.71 318.77,100.98 320.08,97.4 321.39,93.97 322.7,90.7 324,87.61 325.31,84.7 326.62,81.99 327.93,79.47 329.23,77.17 330.54,75.09 331.85,73.24 333.16,71.62 334.46,70.23 335.77,69.1 337.08,68.21 338.39,67.57 339.69,67.19 341,67.06 342.31,67.19 343.62,67.57 344.92,68.21 346.23,69.1 347.54,70.23 348.85,71.62 350.15,73.24 351.46,75.09 352.77,77.17 354.08,79.47 355.38,81.99 356.69,84.7 358,87.61 359.31,90.7 360.61,93.97 361.92,97.4 363.23,100.98 364.54,104.71 365.84,108.56 367.15,112.54 368.46,116.62 369.76,120.8 371.07,125.06 372.38,129.39 373.69,133.79 375,138.24 376.3,142.72 377.61,147.24 378.92,151.78 380.23,156.33 381.53,160.88 382.84,165.42 384.15,169.94 385.46,174.44 386.76,178.91 388.07,183.34 389.38,187.73 390.69,192.06 391.99,196.34 393.3,200.55 394.61,204.7 395.92,208.78 397.22,212.78 398.53,216.7 399.84,220.55 401.15,224.31 402.45,227.98 403.76,231.57 405.07,235.06 406.38,238.47 407.68,241.79 408.99,245.02 410.3,248.15 411.61,251.2 412.91,254.15 414.22,257.02 415.53,259.79 416.84,262.48 418.14,265.08 419.45,267.59 420.76,270.02 422.06,272.36 423.37,274.62 424.68,276.81 425.99,278.91 427.3,280.94 428.6,282.89 429.91,284.77 431.22,286.58 432.53,288.32 433.83,289.99 435.14,291.6 436.45,293.14 437.75,294.63 439.06,296.05 440.37,297.42 441.68,298.73 442.99,299.98 444.29,301.19 445.6,302.35 446.91,303.46 448.22,304.52 449.52,305.53 450.83,306.51 452.14,307.44 453.45,308.34 454.75,309.19 456.06,310.01 457.37,310.79 458.68,311.54 459.98,312.26 461.29,312.95 462.6,313.6 463.91,314.23 465.21,314.83 466.52,315.4 467.83,315.95 469.14,316.48 470.44,316.98 471.75,317.46 473.06,317.92 474.37,318.36 475.67,318.77 476.98,319.17 478.29,319.56 479.6,319.92 480.9,320.27 482.21,320.61 483.52,320.93 484.83,321.23 486.13,321.52 487.44,321.8 488.75,322.07 490.06,322.32 491.36,322.57 492.67,322.8 493.98,323.02 495.29,323.23 496.59,323.44 497.9,323.63 499.21,323.82 500.52,324 501.82,324.17 503.13,324.33 504.44,324.48 505.75,324.63 507.05,324.77 508.36,324.91 509.67,325.04 510.98,325.17 512.28,325.28 513.59,325.4 514.9,325.51 516.21,325.61 517.51,325.71 518.82,325.81 520.13,325.9 521.44,325.99 522.74,326.07 524.05,326.15 525.36,326.23 526.66,326.3 527.97,326.37 529.28,326.44 530.59,326.5 531.89,326.57 533.2,326.63 534.51,326.68 535.82,326.74 537.12,326.79 538.43,326.84 539.74,326.89 541.05,326.93 542.36,326.98 543.66,327.02 544.97,327.06 546.28,327.1 547.59,327.14 548.89,327.17 550.2,327.21" fill="none" stroke="#d22f28" stroke-width="1.4" stroke-linejoin="round"/>
</g>
<rect x="131.8" y="17.1" width="418.4" height="337" fill="none" stroke="#4a4a4a" stroke-width="1.8"/>
<path d="M131.8 354.1v6 M236.4 354.1v6 M341 354.1v6 M445.6 354.1v6 M550.2 354.1v6 M184.1 354.1v3.5 M288.7 354.1v3.5 M393.3 354.1v3.5 M497.9 354.1v3.5" stroke="#4a4a4a" stroke-width="1.6" fill="none"/>
<text x="131.8" y="382.8" font-size="23.2" text-anchor="middle" fill="#222" >-40</text>
<text x="236.4" y="382.8" font-size="23.2" text-anchor="middle" fill="#222" >-20</text>
<text x="341" y="382.8" font-size="23.2" text-anchor="middle" fill="#222" >0</text>
<text x="445.6" y="382.8" font-size="23.2" text-anchor="middle" fill="#222" >20</text>
<text x="550.2" y="382.8" font-size="23.2" text-anchor="middle" fill="#222" >40</text>
<path d="M131.8 354.1h-6 M131.8 302.1h-6 M131.8 250.1h-6 M131.8 198.1h-6 M131.8 146.1h-6 M131.8 94.1h-6 M131.8 42.1h-6 M131.8 328.1h-3.5 M131.8 276.1h-3.5 M131.8 224.1h-3.5 M131.8 172.1h-3.5 M131.8 120.1h-3.5 M131.8 68.1h-3.5" stroke="#4a4a4a" stroke-width="1.6" fill="none"/>
<text x="121" y="361.6" font-size="23.2" text-anchor="end" fill="#222" >0.0</text>
<text x="121" y="309.6" font-size="23.2" text-anchor="end" fill="#222" >2.0</text>
<text x="121" y="257.6" font-size="23.2" text-anchor="end" fill="#222" >4.0</text>
<text x="121" y="205.6" font-size="23.2" text-anchor="end" fill="#222" >6.0</text>
<text x="121" y="153.6" font-size="23.2" text-anchor="end" fill="#222" >8.0</text>
<text x="121" y="101.6" font-size="23.2" text-anchor="end" fill="#222" >10.0</text>
<text x="121" y="49.6" font-size="23.2" text-anchor="end" fill="#222" >12.0</text>
<text x="157" y="43" font-size="24" text-anchor="start" fill="#222" >515 nm</text>
<text x="341" y="409" font-size="25.5" text-anchor="middle" fill="#222"><tspan font-style="italic">z</tspan> (mm)</text>
<text transform="translate(64.5,203.5) rotate(-90)" font-size="25.5" fill="#222"><tspan font-style="italic">T</tspan><tspan font-size="17" dy="6">NL</tspan></text>
<circle cx="187" cy="114" r="15" fill="#e8382b" stroke="#000" stroke-opacity="0.12" stroke-width="0.8"/>
<path d="M763 0L583 0L583 1147C540 1106 483 1065 413 1024C343 983 280 952 225 932L225 1106C326 1153 413 1211 488 1278C563 1345 616 1410 647 1472L763 1472Z" fill="#fff" transform="translate(181.21,122.59) scale(0.01172,-0.01172)"/>
<circle cx="187" cy="174" r="15" fill="#1f6fbe" stroke="#000" stroke-opacity="0.12" stroke-width="0.8"/>
<text x="187" y="182.4" font-size="24" text-anchor="middle" fill="#fff" >2</text>
<circle cx="187" cy="235" r="15" fill="#1b9a42" stroke="#000" stroke-opacity="0.12" stroke-width="0.8"/>
<text x="187" y="243.4" font-size="24" text-anchor="middle" fill="#fff" >3</text>
<line x1="222" y1="251" x2="222" y2="114" stroke="#8c8c8c" stroke-width="1.8"/>
<path d="M222 99L228.8 122L222 118L215.2 122Z" fill="#8c8c8c"/>
<text x="579.2" y="35.8" font-size="44.5" letter-spacing="1.5" fill="#1a1a1a">b)</text>
<rect x="657.8" y="70.91" width="5.2" height="5.2" fill="#77bf55" fill-opacity="1"/>
<rect x="663.03" y="72.6" width="5.2" height="5.2" fill="#77bf55" fill-opacity="1"/>
<rect x="668.27" y="70.91" width="5.2" height="5.2" fill="#77bf55" fill-opacity="1"/>
<rect x="673.5" y="72.6" width="5.2" height="5.2" fill="#77bf55" fill-opacity="1"/>
<rect x="678.73" y="72.6" width="5.2" height="5.2" fill="#77bf55" fill-opacity="1"/>
<rect x="683.97" y="74.29" width="5.2" height="5.2" fill="#77bf55" fill-opacity="1"/>
<rect x="689.2" y="72.6" width="5.2" height="5.2" fill="#77bf55" fill-opacity="1"/>
<rect x="694.44" y="72.6" width="5.2" height="5.2" fill="#77bf55" fill-opacity="1"/>
<rect x="699.67" y="74.29" width="5.2" height="5.2" fill="#77bf55" fill-opacity="1"/>
<rect x="704.9" y="72.6" width="5.2" height="5.2" fill="#77bf55" fill-opacity="1"/>
<rect x="710.14" y="74.29" width="5.2" height="5.2" fill="#77bf55" fill-opacity="1"/>
<rect x="715.37" y="74.29" width="5.2" height="5.2" fill="#77bf55" fill-opacity="1"/>
<rect x="720.6" y="75.97" width="5.2" height="5.2" fill="#77bf55" fill-opacity="1"/>
<rect x="725.84" y="74.29" width="5.2" height="5.2" fill="#77bf55" fill-opacity="1"/>
<rect x="731.07" y="75.97" width="5.2" height="5.2" fill="#77bf55" fill-opacity="1"/>
<rect x="736.31" y="75.97" width="5.2" height="5.2" fill="#77bf55" fill-opacity="1"/>
<rect x="741.54" y="74.29" width="5.2" height="5.2" fill="#77bf55" fill-opacity="1"/>
<rect x="746.77" y="75.97" width="5.2" height="5.2" fill="#77bf55" fill-opacity="1"/>
<rect x="752.01" y="77.66" width="5.2" height="5.2" fill="#77bf55" fill-opacity="1"/>
<rect x="757.24" y="75.97" width="5.2" height="5.2" fill="#77bf55" fill-opacity="1"/>
<rect x="762.47" y="75.97" width="5.2" height="5.2" fill="#77bf55" fill-opacity="1"/>
<rect x="767.71" y="77.66" width="5.2" height="5.2" fill="#77bf55" fill-opacity="1"/>
<rect x="772.94" y="75.97" width="5.2" height="5.2" fill="#77bf55" fill-opacity="1"/>
<rect x="778.18" y="75.97" width="5.2" height="5.2" fill="#77bf55" fill-opacity="1"/>
<rect x="783.41" y="74.29" width="5.2" height="5.2" fill="#77bf55" fill-opacity="1"/>
<rect x="788.64" y="75.97" width="5.2" height="5.2" fill="#77bf55" fill-opacity="1"/>
<rect x="793.88" y="74.29" width="5.2" height="5.2" fill="#77bf55" fill-opacity="1"/>
<rect x="799.11" y="75.97" width="5.2" height="5.2" fill="#77bf55" fill-opacity="1"/>
<rect x="804.34" y="74.29" width="5.2" height="5.2" fill="#77bf55" fill-opacity="1"/>
<rect x="809.58" y="74.29" width="5.2" height="5.2" fill="#77bf55" fill-opacity="1"/>
<rect x="814.81" y="72.6" width="5.2" height="5.2" fill="#77bf55" fill-opacity="1"/>
<rect x="820.05" y="70.91" width="5.2" height="5.2" fill="#77bf55" fill-opacity="1"/>
<rect x="825.28" y="72.6" width="5.2" height="5.2" fill="#77bf55" fill-opacity="1"/>
<rect x="830.51" y="69.23" width="5.2" height="5.2" fill="#77bf55" fill-opacity="1"/>
<rect x="835.75" y="70.91" width="5.2" height="5.2" fill="#77bf55" fill-opacity="1"/>
<rect x="840.98" y="74.29" width="5.2" height="5.2" fill="#77bf55" fill-opacity="1"/>
<rect x="844.64" y="77.66" width="5.2" height="5.2" fill="#77bf55" fill-opacity="1"/>
<rect x="848.31" y="82.72" width="5.2" height="5.2" fill="#77bf55" fill-opacity="1"/>
<rect x="852.5" y="89.46" width="5.2" height="5.2" fill="#77bf55" fill-opacity="1"/>
<rect x="856.16" y="94.52" width="5.2" height="5.2" fill="#77bf55" fill-opacity="1"/>
<rect x="859.82" y="106.32" width="5.2" height="5.2" fill="#77bf55" fill-opacity="1"/>
<rect x="864.01" y="109.7" width="5.2" height="5.2" fill="#77bf55" fill-opacity="1"/>
<rect x="867.67" y="113.07" width="5.2" height="5.2" fill="#77bf55" fill-opacity="1"/>
<rect x="872.91" y="111.38" width="5.2" height="5.2" fill="#77bf55" fill-opacity="1"/>
<rect x="878.14" y="104.64" width="5.2" height="5.2" fill="#77bf55" fill-opacity="1"/>
<rect x="882.85" y="99.58" width="5.2" height="5.2" fill="#77bf55" fill-opacity="1"/>
<rect x="888.08" y="94.52" width="5.2" height="5.2" fill="#77bf55" fill-opacity="1"/>
<rect x="893.32" y="89.46" width="5.2" height="5.2" fill="#77bf55" fill-opacity="1"/>
<rect x="899.6" y="86.09" width="5.2" height="5.2" fill="#77bf55" fill-opacity="1"/>
<rect x="903.52" y="84.21" width="5.2" height="5.2" fill="#77bf55" fill-opacity="1"/>
<rect x="907.45" y="82.72" width="5.2" height="5.2" fill="#77bf55" fill-opacity="1"/>
<rect x="914.25" y="79.34" width="5.2" height="5.2" fill="#77bf55" fill-opacity="1"/>
<rect x="919.49" y="77.66" width="5.2" height="5.2" fill="#77bf55" fill-opacity="1"/>
<rect x="924.72" y="75.97" width="5.2" height="5.2" fill="#77bf55" fill-opacity="1"/>
<rect x="929.95" y="74.29" width="5.2" height="5.2" fill="#77bf55" fill-opacity="1"/>
<rect x="935.19" y="72.6" width="5.2" height="5.2" fill="#77bf55" fill-opacity="1"/>
<rect x="940.42" y="70.91" width="5.2" height="5.2" fill="#77bf55" fill-opacity="1"/>
<rect x="945.66" y="69.23" width="5.2" height="5.2" fill="#77bf55" fill-opacity="1"/>
<rect x="950.89" y="69.23" width="5.2" height="5.2" fill="#77bf55" fill-opacity="1"/>
<rect x="956.12" y="70.91" width="5.2" height="5.2" fill="#77bf55" fill-opacity="1"/>
<rect x="961.36" y="69.23" width="5.2" height="5.2" fill="#77bf55" fill-opacity="1"/>
<rect x="966.59" y="67.54" width="5.2" height="5.2" fill="#77bf55" fill-opacity="1"/>
<rect x="971.82" y="69.23" width="5.2" height="5.2" fill="#77bf55" fill-opacity="1"/>
<rect x="977.06" y="67.54" width="5.2" height="5.2" fill="#77bf55" fill-opacity="1"/>
<rect x="982.29" y="69.23" width="5.2" height="5.2" fill="#77bf55" fill-opacity="1"/>
<rect x="987.53" y="67.54" width="5.2" height="5.2" fill="#77bf55" fill-opacity="1"/>
<rect x="992.76" y="67.54" width="5.2" height="5.2" fill="#77bf55" fill-opacity="1"/>
<rect x="997.99" y="69.23" width="5.2" height="5.2" fill="#77bf55" fill-opacity="1"/>
<rect x="1003.23" y="65.86" width="5.2" height="5.2" fill="#77bf55" fill-opacity="1"/>
<rect x="1008.46" y="67.54" width="5.2" height="5.2" fill="#77bf55" fill-opacity="1"/>
<rect x="1013.69" y="65.86" width="5.2" height="5.2" fill="#77bf55" fill-opacity="1"/>
<rect x="1018.93" y="64.17" width="5.2" height="5.2" fill="#77bf55" fill-opacity="1"/>
<rect x="1024.16" y="65.86" width="5.2" height="5.2" fill="#77bf55" fill-opacity="1"/>
<rect x="1029.4" y="67.54" width="5.2" height="5.2" fill="#77bf55" fill-opacity="1"/>
<rect x="1034.63" y="65.86" width="5.2" height="5.2" fill="#77bf55" fill-opacity="1"/>
<rect x="1039.86" y="67.54" width="5.2" height="5.2" fill="#77bf55" fill-opacity="1"/>
<rect x="1045.1" y="65.86" width="5.2" height="5.2" fill="#77bf55" fill-opacity="1"/>
<rect x="1050.33" y="67.54" width="5.2" height="5.2" fill="#77bf55" fill-opacity="1"/>
<rect x="1055.57" y="65.86" width="5.2" height="5.2" fill="#77bf55" fill-opacity="1"/>
<rect x="1060.8" y="67.54" width="5.2" height="5.2" fill="#77bf55" fill-opacity="1"/>
<rect x="1066.03" y="65.86" width="5.2" height="5.2" fill="#77bf55" fill-opacity="1"/>
<rect x="1071.27" y="67.54" width="5.2" height="5.2" fill="#77bf55" fill-opacity="1"/>
<rect x="1076.5" y="65.86" width="5.2" height="5.2" fill="#77bf55" fill-opacity="1"/>
<path d="M681.33 71L685.53 75.2L681.33 79.4L677.13 75.2Z" fill="#5a9ad8" fill-opacity="0.9"/>
<path d="M686.57 69.31L690.77 73.51L686.57 77.71L682.37 73.51Z" fill="#5a9ad8" fill-opacity="0.9"/>
<path d="M691.8 67.63L696 71.83L691.8 76.03L687.6 71.83Z" fill="#5a9ad8" fill-opacity="0.9"/>
<path d="M697.04 71L701.24 75.2L697.04 79.4L692.84 75.2Z" fill="#5a9ad8" fill-opacity="0.9"/>
<path d="M702.27 65.94L706.47 70.14L702.27 74.34L698.07 70.14Z" fill="#5a9ad8" fill-opacity="0.9"/>
<path d="M707.5 67.63L711.7 71.83L707.5 76.03L703.3 71.83Z" fill="#5a9ad8" fill-opacity="0.9"/>
<path d="M712.74 64.26L716.94 68.46L712.74 72.66L708.54 68.46Z" fill="#5a9ad8" fill-opacity="0.9"/>
<path d="M717.97 65.94L722.17 70.14L717.97 74.34L713.77 70.14Z" fill="#5a9ad8" fill-opacity="0.9"/>
<path d="M723.2 60.88L727.4 65.08L723.2 69.28L719 65.08Z" fill="#5a9ad8" fill-opacity="0.9"/>
<path d="M728.44 64.26L732.64 68.46L728.44 72.66L724.24 68.46Z" fill="#5a9ad8" fill-opacity="0.9"/>
<path d="M733.67 67.63L737.87 71.83L733.67 76.03L729.47 71.83Z" fill="#5a9ad8" fill-opacity="0.9"/>
<path d="M738.91 69.31L743.11 73.51L738.91 77.71L734.71 73.51Z" fill="#5a9ad8" fill-opacity="0.9"/>
<path d="M744.14 67.63L748.34 71.83L744.14 76.03L739.94 71.83Z" fill="#5a9ad8" fill-opacity="0.9"/>
<path d="M749.37 65.94L753.57 70.14L749.37 74.34L745.17 70.14Z" fill="#5a9ad8" fill-opacity="0.9"/>
<path d="M754.61 67.63L758.81 71.83L754.61 76.03L750.41 71.83Z" fill="#5a9ad8" fill-opacity="0.9"/>
<path d="M759.84 64.26L764.04 68.46L759.84 72.66L755.64 68.46Z" fill="#5a9ad8" fill-opacity="0.9"/>
<path d="M765.07 67.63L769.27 71.83L765.07 76.03L760.87 71.83Z" fill="#5a9ad8" fill-opacity="0.9"/>
<path d="M770.31 65.94L774.51 70.14L770.31 74.34L766.11 70.14Z" fill="#5a9ad8" fill-opacity="0.9"/>
<path d="M775.54 64.26L779.74 68.46L775.54 72.66L771.34 68.46Z" fill="#5a9ad8" fill-opacity="0.9"/>
<path d="M780.78 60.88L784.98 65.08L780.78 69.28L776.58 65.08Z" fill="#5a9ad8" fill-opacity="0.9"/>
<path d="M786.01 67.63L790.21 71.83L786.01 76.03L781.81 71.83Z" fill="#5a9ad8" fill-opacity="0.9"/>
<path d="M791.24 71L795.44 75.2L791.24 79.4L787.04 75.2Z" fill="#5a9ad8" fill-opacity="0.9"/>
<path d="M796.48 72.69L800.68 76.89L796.48 81.09L792.28 76.89Z" fill="#5a9ad8" fill-opacity="0.9"/>
<path d="M801.71 71L805.91 75.2L801.71 79.4L797.51 75.2Z" fill="#5a9ad8" fill-opacity="0.9"/>
<path d="M806.94 72.69L811.14 76.89L806.94 81.09L802.74 76.89Z" fill="#5a9ad8" fill-opacity="0.9"/>
<path d="M810.87 70.78L815.07 74.98L810.87 79.18L806.67 74.98Z" fill="#5a9ad8" fill-opacity="0.9"/>
<path d="M814.8 74.37L819 78.57L814.8 82.77L810.6 78.57Z" fill="#5a9ad8" fill-opacity="0.9"/>
<path d="M820.03 81.12L824.23 85.32L820.03 89.52L815.83 85.32Z" fill="#5a9ad8" fill-opacity="0.9"/>
<path d="M825.26 87.86L829.46 92.06L825.26 96.26L821.06 92.06Z" fill="#5a9ad8" fill-opacity="0.9"/>
<path d="M830.5 91.24L834.7 95.44L830.5 99.64L826.3 95.44Z" fill="#5a9ad8" fill-opacity="0.9"/>
<path d="M835.73 104.72L839.93 108.92L835.73 113.12L831.53 108.92Z" fill="#5a9ad8" fill-opacity="0.9"/>
<path d="M840.44 121.59L844.64 125.79L840.44 129.99L836.24 125.79Z" fill="#5a9ad8" fill-opacity="0.9"/>
<path d="M844.1 138.45L848.3 142.65L844.1 146.85L839.9 142.65Z" fill="#5a9ad8" fill-opacity="0.9"/>
<path d="M847.24 148.57L851.44 152.77L847.24 156.97L843.04 152.77Z" fill="#5a9ad8" fill-opacity="0.9"/>
<path d="M850.91 168.8L855.11 173L850.91 177.2L846.71 173Z" fill="#5a9ad8" fill-opacity="0.9"/>
<path d="M854.57 192.41L858.77 196.61L854.57 200.81L850.37 196.61Z" fill="#5a9ad8" fill-opacity="0.9"/>
<path d="M858.76 205.9L862.96 210.1L858.76 214.3L854.56 210.1Z" fill="#5a9ad8" fill-opacity="0.9"/>
<path d="M863.99 219.39L868.19 223.59L863.99 227.79L859.79 223.59Z" fill="#5a9ad8" fill-opacity="0.9"/>
<path d="M869.75 229.51L873.95 233.71L869.75 237.91L865.55 233.71Z" fill="#5a9ad8" fill-opacity="0.9"/>
<path d="M873.94 219.39L878.14 223.59L873.94 227.79L869.74 223.59Z" fill="#5a9ad8" fill-opacity="0.9"/>
<path d="M879.17 205.9L883.37 210.1L879.17 214.3L874.97 210.1Z" fill="#5a9ad8" fill-opacity="0.9"/>
<path d="M885.45 185.66L889.65 189.86L885.45 194.06L881.25 189.86Z" fill="#5a9ad8" fill-opacity="0.9"/>
<path d="M890.68 168.8L894.88 173L890.68 177.2L886.48 173Z" fill="#5a9ad8" fill-opacity="0.9"/>
<path d="M894.87 148.57L899.07 152.77L894.87 156.97L890.67 152.77Z" fill="#5a9ad8" fill-opacity="0.9"/>
<path d="M898.54 135.08L902.74 139.28L898.54 143.48L894.34 139.28Z" fill="#5a9ad8" fill-opacity="0.9"/>
<path d="M902.2 114.84L906.4 119.04L902.2 123.24L898 119.04Z" fill="#5a9ad8" fill-opacity="0.9"/>
<path d="M906.39 94.61L910.59 98.81L906.39 103.01L902.19 98.81Z" fill="#5a9ad8" fill-opacity="0.9"/>
<path d="M910.05 81.12L914.25 85.32L910.05 89.52L905.85 85.32Z" fill="#5a9ad8" fill-opacity="0.9"/>
<path d="M913.71 71L917.91 75.2L913.71 79.4L909.51 75.2Z" fill="#5a9ad8" fill-opacity="0.9"/>
<path d="M916.33 64.26L920.53 68.46L916.33 72.66L912.13 68.46Z" fill="#5a9ad8" fill-opacity="0.9"/>
<path d="M918.95 54.14L923.15 58.34L918.95 62.54L914.75 58.34Z" fill="#5a9ad8" fill-opacity="0.9"/>
<path d="M922.61 50.77L926.81 54.97L922.61 59.17L918.41 54.97Z" fill="#5a9ad8" fill-opacity="0.9"/>
<path d="M926.8 47.39L931 51.59L926.8 55.79L922.6 51.59Z" fill="#5a9ad8" fill-opacity="0.9"/>
<path d="M931.51 49.08L935.71 53.28L931.51 57.48L927.31 53.28Z" fill="#5a9ad8" fill-opacity="0.9"/>
<path d="M936.74 52.45L940.94 56.65L936.74 60.85L932.54 56.65Z" fill="#5a9ad8" fill-opacity="0.9"/>
<path d="M940.93 54.14L945.13 58.34L940.93 62.54L936.73 58.34Z" fill="#5a9ad8" fill-opacity="0.9"/>
<path d="M945.64 50.77L949.84 54.97L945.64 59.17L941.44 54.97Z" fill="#5a9ad8" fill-opacity="0.9"/>
<path d="M950.87 54.14L955.07 58.34L950.87 62.54L946.67 58.34Z" fill="#5a9ad8" fill-opacity="0.9"/>
<path d="M956.11 55.82L960.31 60.02L956.11 64.22L951.91 60.02Z" fill="#5a9ad8" fill-opacity="0.9"/>
<path d="M961.34 57.51L965.54 61.71L961.34 65.91L957.14 61.71Z" fill="#5a9ad8" fill-opacity="0.9"/>
<path d="M966.57 54.14L970.77 58.34L966.57 62.54L962.37 58.34Z" fill="#5a9ad8" fill-opacity="0.9"/>
<path d="M971.81 55.82L976.01 60.02L971.81 64.22L967.61 60.02Z" fill="#5a9ad8" fill-opacity="0.9"/>
<path d="M977.04 54.14L981.24 58.34L977.04 62.54L972.84 58.34Z" fill="#5a9ad8" fill-opacity="0.9"/>
<path d="M982.28 57.51L986.48 61.71L982.28 65.91L978.08 61.71Z" fill="#5a9ad8" fill-opacity="0.9"/>
<path d="M987.51 54.14L991.71 58.34L987.51 62.54L983.31 58.34Z" fill="#5a9ad8" fill-opacity="0.9"/>
<path d="M992.74 55.82L996.94 60.02L992.74 64.22L988.54 60.02Z" fill="#5a9ad8" fill-opacity="0.9"/>
<path d="M997.98 57.51L1002.18 61.71L997.98 65.91L993.78 61.71Z" fill="#5a9ad8" fill-opacity="0.9"/>
<path d="M1003.21 59.2L1007.41 63.4L1003.21 67.6L999.01 63.4Z" fill="#5a9ad8" fill-opacity="0.9"/>
<path d="M1008.44 54.14L1012.64 58.34L1008.44 62.54L1004.24 58.34Z" fill="#5a9ad8" fill-opacity="0.9"/>
<path d="M1013.68 55.82L1017.88 60.02L1013.68 64.22L1009.48 60.02Z" fill="#5a9ad8" fill-opacity="0.9"/>
<path d="M1018.91 57.51L1023.11 61.71L1018.91 65.91L1014.71 61.71Z" fill="#5a9ad8" fill-opacity="0.9"/>
<path d="M1024.15 54.14L1028.35 58.34L1024.15 62.54L1019.95 58.34Z" fill="#5a9ad8" fill-opacity="0.9"/>
<path d="M1029.38 52.45L1033.58 56.65L1029.38 60.85L1025.18 56.65Z" fill="#5a9ad8" fill-opacity="0.9"/>
<path d="M1034.61 54.14L1038.81 58.34L1034.61 62.54L1030.41 58.34Z" fill="#5a9ad8" fill-opacity="0.9"/>
<path d="M1039.85 50.77L1044.05 54.97L1039.85 59.17L1035.65 54.97Z" fill="#5a9ad8" fill-opacity="0.9"/>
<path d="M1045.08 52.45L1049.28 56.65L1045.08 60.85L1040.88 56.65Z" fill="#5a9ad8" fill-opacity="0.9"/>
<circle cx="681.33" cy="68.46" r="3.8" fill="#ee6747" fill-opacity="1"/>
<circle cx="686.57" cy="68.46" r="3.8" fill="#ee6747" fill-opacity="1"/>
<circle cx="691.8" cy="70.14" r="3.8" fill="#ee6747" fill-opacity="1"/>
<circle cx="697.04" cy="68.46" r="3.8" fill="#ee6747" fill-opacity="1"/>
<circle cx="702.27" cy="75.2" r="3.8" fill="#ee6747" fill-opacity="1"/>
<circle cx="707.5" cy="78.57" r="3.8" fill="#ee6747" fill-opacity="1"/>
<circle cx="712.74" cy="80.26" r="3.8" fill="#ee6747" fill-opacity="1"/>
<circle cx="717.97" cy="78.57" r="3.8" fill="#ee6747" fill-opacity="1"/>
<circle cx="723.2" cy="76.89" r="3.8" fill="#ee6747" fill-opacity="1"/>
<circle cx="728.44" cy="70.14" r="3.8" fill="#ee6747" fill-opacity="1"/>
<circle cx="733.67" cy="68.46" r="3.8" fill="#ee6747" fill-opacity="1"/>
<circle cx="738.91" cy="68.46" r="3.8" fill="#ee6747" fill-opacity="1"/>
<circle cx="744.14" cy="71.83" r="3.8" fill="#ee6747" fill-opacity="1"/>
<circle cx="749.37" cy="75.2" r="3.8" fill="#ee6747" fill-opacity="1"/>
<circle cx="754.61" cy="76.89" r="3.8" fill="#ee6747" fill-opacity="1"/>
<circle cx="759.84" cy="76.89" r="3.8" fill="#ee6747" fill-opacity="1"/>
<circle cx="765.07" cy="78.57" r="3.8" fill="#ee6747" fill-opacity="1"/>
<circle cx="770.31" cy="76.89" r="3.8" fill="#ee6747" fill-opacity="1"/>
<circle cx="775.54" cy="78.57" r="3.8" fill="#ee6747" fill-opacity="1"/>
<circle cx="780.78" cy="76.89" r="3.8" fill="#ee6747" fill-opacity="1"/>
<circle cx="786.01" cy="92.06" r="3.8" fill="#ee6747" fill-opacity="1"/>
<circle cx="789.94" cy="91.26" r="3.8" fill="#ee6747" fill-opacity="1"/>
<circle cx="793.86" cy="88.69" r="3.8" fill="#ee6747" fill-opacity="1"/>
<circle cx="799.09" cy="87.24" r="3.8" fill="#ee6747" fill-opacity="1"/>
<circle cx="804.33" cy="85.32" r="3.8" fill="#ee6747" fill-opacity="1"/>
<circle cx="809.56" cy="92.06" r="3.8" fill="#ee6747" fill-opacity="1"/>
<circle cx="814.8" cy="98.81" r="3.8" fill="#ee6747" fill-opacity="1"/>
<circle cx="820.03" cy="108.92" r="3.8" fill="#ee6747" fill-opacity="1"/>
<circle cx="822.65" cy="125.79" r="3.8" fill="#ee6747" fill-opacity="1"/>
<circle cx="826.83" cy="142.65" r="3.8" fill="#ee6747" fill-opacity="1"/>
<circle cx="830.5" cy="152.77" r="3.8" fill="#ee6747" fill-opacity="1"/>
<circle cx="834.16" cy="166.26" r="3.8" fill="#ee6747" fill-opacity="1"/>
<circle cx="836.78" cy="179.75" r="3.8" fill="#ee6747" fill-opacity="1"/>
<circle cx="840.96" cy="189.86" r="3.8" fill="#ee6747" fill-opacity="1"/>
<circle cx="844.1" cy="203.35" r="3.8" fill="#ee6747" fill-opacity="1"/>
<circle cx="847.24" cy="216.84" r="3.8" fill="#ee6747" fill-opacity="1"/>
<circle cx="850.91" cy="243.82" r="3.8" fill="#ee6747" fill-opacity="1"/>
<circle cx="855.1" cy="253.94" r="3.8" fill="#ee6747" fill-opacity="1"/>
<circle cx="857.71" cy="274.18" r="3.8" fill="#ee6747" fill-opacity="1"/>
<circle cx="860.33" cy="287.67" r="3.8" fill="#ee6747" fill-opacity="1"/>
<circle cx="864.52" cy="297.78" r="3.8" fill="#ee6747" fill-opacity="1"/>
<circle cx="868.18" cy="301.16" r="3.8" fill="#ee6747" fill-opacity="1"/>
<circle cx="869.75" cy="307.9" r="3.8" fill="#ee6747" fill-opacity="1"/>
<circle cx="875.51" cy="301.16" r="3.8" fill="#ee6747" fill-opacity="1"/>
<circle cx="879.17" cy="291.04" r="3.8" fill="#ee6747" fill-opacity="1"/>
<circle cx="883.36" cy="270.81" r="3.8" fill="#ee6747" fill-opacity="1"/>
<circle cx="885.97" cy="257.31" r="3.8" fill="#ee6747" fill-opacity="1"/>
<circle cx="889.64" cy="233.71" r="3.8" fill="#ee6747" fill-opacity="1"/>
<circle cx="892.26" cy="220.22" r="3.8" fill="#ee6747" fill-opacity="1"/>
<circle cx="895.92" cy="193.24" r="3.8" fill="#ee6747" fill-opacity="1"/>
<circle cx="900.11" cy="179.75" r="3.8" fill="#ee6747" fill-opacity="1"/>
<circle cx="902.72" cy="173" r="3.8" fill="#ee6747" fill-opacity="1"/>
<circle cx="906.39" cy="146.02" r="3.8" fill="#ee6747" fill-opacity="1"/>
<circle cx="909" cy="135.9" r="3.8" fill="#ee6747" fill-opacity="1"/>
<circle cx="912.67" cy="125.79" r="3.8" fill="#ee6747" fill-opacity="1"/>
<circle cx="916.85" cy="112.3" r="3.8" fill="#ee6747" fill-opacity="1"/>
<circle cx="922.09" cy="98.81" r="3.8" fill="#ee6747" fill-opacity="1"/>
<circle cx="925.23" cy="88.69" r="3.8" fill="#ee6747" fill-opacity="1"/>
<circle cx="929.41" cy="75.2" r="3.8" fill="#ee6747" fill-opacity="1"/>
<circle cx="933.08" cy="65.08" r="3.8" fill="#ee6747" fill-opacity="1"/>
<circle cx="937.27" cy="61.71" r="3.8" fill="#ee6747" fill-opacity="1"/>
<circle cx="941.98" cy="51.59" r="3.8" fill="#ee6747" fill-opacity="1"/>
<circle cx="946.16" cy="48.22" r="3.8" fill="#ee6747" fill-opacity="1"/>
<circle cx="949.83" cy="46.53" r="3.8" fill="#ee6747" fill-opacity="1"/>
<circle cx="953.49" cy="48.22" r="3.8" fill="#ee6747" fill-opacity="1"/>
<circle cx="958.72" cy="54.97" r="3.8" fill="#ee6747" fill-opacity="1"/>
<circle cx="963.96" cy="51.59" r="3.8" fill="#ee6747" fill-opacity="1"/>
<circle cx="969.19" cy="49.91" r="3.8" fill="#ee6747" fill-opacity="1"/>
<circle cx="974.42" cy="51.59" r="3.8" fill="#ee6747" fill-opacity="1"/>
<circle cx="979.66" cy="49.91" r="3.8" fill="#ee6747" fill-opacity="1"/>
<circle cx="984.89" cy="51.59" r="3.8" fill="#ee6747" fill-opacity="1"/>
<circle cx="990.13" cy="53.28" r="3.8" fill="#ee6747" fill-opacity="1"/>
<circle cx="995.36" cy="54.97" r="3.8" fill="#ee6747" fill-opacity="1"/>
<circle cx="1000.59" cy="51.59" r="3.8" fill="#ee6747" fill-opacity="1"/>
<circle cx="1005.83" cy="49.91" r="3.8" fill="#ee6747" fill-opacity="1"/>
<circle cx="1011.06" cy="51.59" r="3.8" fill="#ee6747" fill-opacity="1"/>
<circle cx="1016.29" cy="49.91" r="3.8" fill="#ee6747" fill-opacity="1"/>
<circle cx="1021.53" cy="51.59" r="3.8" fill="#ee6747" fill-opacity="1"/>
<circle cx="1026.76" cy="54.97" r="3.8" fill="#ee6747" fill-opacity="1"/>
<circle cx="1032" cy="51.59" r="3.8" fill="#ee6747" fill-opacity="1"/>
<circle cx="1037.23" cy="49.91" r="3.8" fill="#ee6747" fill-opacity="1"/>
<circle cx="1042.46" cy="48.22" r="3.8" fill="#ee6747" fill-opacity="1"/>
<circle cx="1047.7" cy="49.91" r="3.8" fill="#ee6747" fill-opacity="1"/>
<polyline points="660.4,75.37 661.71,75.37 663.02,75.37 664.33,75.38 665.63,75.38 666.94,75.38 668.25,75.38 669.56,75.39 670.87,75.39 672.18,75.39 673.48,75.39 674.79,75.4 676.1,75.4 677.41,75.4 678.72,75.4 680.03,75.41 681.33,75.41 682.64,75.41 683.95,75.42 685.26,75.42 686.57,75.42 687.88,75.43 689.19,75.43 690.49,75.43 691.8,75.44 693.11,75.44 694.42,75.44 695.73,75.45 697.04,75.45 698.34,75.45 699.65,75.46 700.96,75.46 702.27,75.47 703.58,75.47 704.89,75.47 706.2,75.48 707.5,75.48 708.81,75.49 710.12,75.49 711.43,75.5 712.74,75.5 714.05,75.51 715.35,75.51 716.66,75.52 717.97,75.52 719.28,75.53 720.59,75.53 721.9,75.54 723.2,75.55 724.51,75.55 725.82,75.56 727.13,75.57 728.44,75.57 729.75,75.58 731.06,75.59 732.36,75.59 733.67,75.6 734.98,75.61 736.29,75.62 737.6,75.62 738.91,75.63 740.21,75.64 741.52,75.65 742.83,75.66 744.14,75.67 745.45,75.68 746.76,75.69 748.07,75.7 749.37,75.71 750.68,75.72 751.99,75.73 753.3,75.75 754.61,75.76 755.92,75.77 757.22,75.78 758.53,75.8 759.84,75.81 761.15,75.83 762.46,75.84 763.77,75.86 765.07,75.87 766.38,75.89 767.69,75.91 769,75.93 770.31,75.94 771.62,75.96 772.93,75.98 774.23,76.01 775.54,76.03 776.85,76.05 778.16,76.07 779.47,76.1 780.78,76.12 782.08,76.15 783.39,76.18 784.7,76.21 786.01,76.24 787.32,76.27 788.63,76.31 789.94,76.34 791.24,76.38 792.55,76.42 793.86,76.46 795.17,76.5 796.48,76.55 797.79,76.6 799.09,76.65 800.4,76.7 801.71,76.76 803.02,76.82 804.33,76.88 805.64,76.94 806.94,77.01 808.25,77.09 809.56,77.17 810.87,77.25 812.18,77.34 813.49,77.44 814.8,77.54 816.1,77.65 817.41,77.76 818.72,77.89 820.03,78.02 821.34,78.16 822.65,78.32 823.95,78.48 825.26,78.66 826.57,78.86 827.88,79.07 829.19,79.29 830.5,79.54 831.81,79.81 833.11,80.11 834.42,80.43 835.73,80.78 837.04,81.17 838.35,81.6 839.66,82.07 840.96,82.59 842.27,83.17 843.58,83.81 844.89,84.53 846.2,85.33 847.51,86.22 848.81,87.22 850.12,88.34 851.43,89.59 852.74,90.99 854.05,92.56 855.36,94.3 856.67,96.23 857.97,98.34 859.28,100.63 860.59,103.05 861.9,105.56 863.21,108.07 864.52,110.45 865.82,112.56 867.13,114.23 868.44,115.3 869.75,115.67 871.06,115.3 872.37,114.23 873.68,112.56 874.98,110.45 876.29,108.07 877.6,105.56 878.91,103.05 880.22,100.63 881.53,98.34 882.83,96.23 884.14,94.3 885.45,92.56 886.76,90.99 888.07,89.59 889.38,88.34 890.68,87.22 891.99,86.22 893.3,85.33 894.61,84.53 895.92,83.81 897.23,83.17 898.54,82.59 899.84,82.07 901.15,81.6 902.46,81.17 903.77,80.78 905.08,80.43 906.39,80.11 907.69,79.81 909,79.54 910.31,79.29 911.62,79.07 912.93,78.86 914.24,78.66 915.55,78.48 916.85,78.32 918.16,78.16 919.47,78.02 920.78,77.89 922.09,77.76 923.4,77.65 924.7,77.54 926.01,77.44 927.32,77.34 928.63,77.25 929.94,77.17 931.25,77.09 932.55,77.01 933.86,76.94 935.17,76.88 936.48,76.82 937.79,76.76 939.1,76.7 940.41,76.65 941.71,76.6 943.02,76.55 944.33,76.5 945.64,76.46 946.95,76.42 948.26,76.38 949.56,76.34 950.87,76.31 952.18,76.27 953.49,76.24 954.8,76.21 956.11,76.18 957.42,76.15 958.72,76.12 960.03,76.1 961.34,76.07 962.65,76.05 963.96,76.03 965.27,76.01 966.57,75.98 967.88,75.96 969.19,75.94 970.5,75.93 971.81,75.91 973.12,75.89 974.42,75.87 975.73,75.86 977.04,75.84 978.35,75.83 979.66,75.81 980.97,75.8 982.28,75.78 983.58,75.77 984.89,75.76 986.2,75.75 987.51,75.73 988.82,75.72 990.13,75.71 991.43,75.7 992.74,75.69 994.05,75.68 995.36,75.67 996.67,75.66 997.98,75.65 999.29,75.64 1000.59,75.63 1001.9,75.62 1003.21,75.62 1004.52,75.61 1005.83,75.6 1007.14,75.59 1008.44,75.59 1009.75,75.58 1011.06,75.57 1012.37,75.57 1013.68,75.56 1014.99,75.55 1016.29,75.55 1017.6,75.54 1018.91,75.53 1020.22,75.53 1021.53,75.52 1022.84,75.52 1024.15,75.51 1025.45,75.51 1026.76,75.5 1028.07,75.5 1029.38,75.49 1030.69,75.49 1032,75.48 1033.3,75.48 1034.61,75.47 1035.92,75.47 1037.23,75.47 1038.54,75.46 1039.85,75.46 1041.16,75.45 1042.46,75.45 1043.77,75.45 1045.08,75.44 1046.39,75.44 1047.7,75.44 1049.01,75.43 1050.31,75.43 1051.62,75.43 1052.93,75.42 1054.24,75.42 1055.55,75.42 1056.86,75.41 1058.16,75.41 1059.47,75.41 1060.78,75.4 1062.09,75.4 1063.4,75.4 1064.71,75.4 1066.02,75.39 1067.32,75.39 1068.63,75.39 1069.94,75.39 1071.25,75.38 1072.56,75.38 1073.87,75.38 1075.17,75.38 1076.48,75.37 1077.79,75.37 1079.1,75.37" fill="none" stroke="#3c9f38" stroke-width="1.3" stroke-linejoin="round"/>
<polyline points="660.4,75.3 661.71,75.31 663.02,75.31 664.33,75.31 665.63,75.31 666.94,75.32 668.25,75.32 669.56,75.32 670.87,75.33 672.18,75.33 673.48,75.33 674.79,75.34 676.1,75.34 677.41,75.34 678.72,75.35 680.03,75.35 681.33,75.35 682.64,75.36 683.95,75.36 685.26,75.37 686.57,75.37 687.88,75.38 689.19,75.38 690.49,75.39 691.8,75.39 693.11,75.4 694.42,75.4 695.73,75.41 697.04,75.42 698.34,75.42 699.65,75.43 700.96,75.44 702.27,75.44 703.58,75.45 704.89,75.46 706.2,75.47 707.5,75.48 708.81,75.48 710.12,75.49 711.43,75.5 712.74,75.51 714.05,75.52 715.35,75.53 716.66,75.54 717.97,75.56 719.28,75.57 720.59,75.58 721.9,75.59 723.2,75.61 724.51,75.62 725.82,75.63 727.13,75.65 728.44,75.67 729.75,75.68 731.06,75.7 732.36,75.72 733.67,75.74 734.98,75.76 736.29,75.78 737.6,75.8 738.91,75.82 740.21,75.85 741.52,75.87 742.83,75.9 744.14,75.93 745.45,75.95 746.76,75.98 748.07,76.02 749.37,76.05 750.68,76.08 751.99,76.12 753.3,76.16 754.61,76.2 755.92,76.24 757.22,76.29 758.53,76.34 759.84,76.39 761.15,76.44 762.46,76.5 763.77,76.56 765.07,76.62 766.38,76.68 767.69,76.75 769,76.83 770.31,76.91 771.62,76.99 772.93,77.08 774.23,77.17 775.54,77.27 776.85,77.37 778.16,77.49 779.47,77.61 780.78,77.73 782.08,77.87 783.39,78.01 784.7,78.16 786.01,78.32 787.32,78.5 788.63,78.68 789.94,78.88 791.24,79.09 792.55,79.32 793.86,79.56 795.17,79.82 796.48,80.1 797.79,80.4 799.09,80.72 800.4,81.07 801.71,81.44 803.02,81.84 804.33,82.27 805.64,82.73 806.94,83.23 808.25,83.77 809.56,84.35 810.87,84.98 812.18,85.66 813.49,86.4 814.8,87.2 816.1,88.06 817.41,89 818.72,90.01 820.03,91.11 821.34,92.31 822.65,93.61 823.95,95.01 825.26,96.54 826.57,98.21 827.88,100.01 829.19,101.97 830.5,104.1 831.81,106.4 833.11,108.9 834.42,111.62 835.73,114.55 837.04,117.72 838.35,121.14 839.66,124.83 840.96,128.79 842.27,133.04 843.58,137.57 844.89,142.4 846.2,147.52 847.51,152.92 848.81,158.58 850.12,164.49 851.43,170.6 852.74,176.87 854.05,183.25 855.36,189.66 856.67,196.03 857.97,202.25 859.28,208.24 860.59,213.89 861.9,219.07 863.21,223.69 864.52,227.64 865.82,230.82 867.13,233.15 868.44,234.58 869.75,235.06 871.06,234.58 872.37,233.15 873.68,230.82 874.98,227.64 876.29,223.69 877.6,219.07 878.91,213.89 880.22,208.24 881.53,202.25 882.83,196.03 884.14,189.66 885.45,183.25 886.76,176.87 888.07,170.6 889.38,164.49 890.68,158.58 891.99,152.92 893.3,147.52 894.61,142.4 895.92,137.57 897.23,133.04 898.54,128.79 899.84,124.83 901.15,121.14 902.46,117.72 903.77,114.55 905.08,111.62 906.39,108.9 907.69,106.4 909,104.1 910.31,101.97 911.62,100.01 912.93,98.21 914.24,96.54 915.55,95.01 916.85,93.61 918.16,92.31 919.47,91.11 920.78,90.01 922.09,89 923.4,88.06 924.7,87.2 926.01,86.4 927.32,85.66 928.63,84.98 929.94,84.35 931.25,83.77 932.55,83.23 933.86,82.73 935.17,82.27 936.48,81.84 937.79,81.44 939.1,81.07 940.41,80.72 941.71,80.4 943.02,80.1 944.33,79.82 945.64,79.56 946.95,79.32 948.26,79.09 949.56,78.88 950.87,78.68 952.18,78.5 953.49,78.32 954.8,78.16 956.11,78.01 957.42,77.87 958.72,77.73 960.03,77.61 961.34,77.49 962.65,77.37 963.96,77.27 965.27,77.17 966.57,77.08 967.88,76.99 969.19,76.91 970.5,76.83 971.81,76.75 973.12,76.68 974.42,76.62 975.73,76.56 977.04,76.5 978.35,76.44 979.66,76.39 980.97,76.34 982.28,76.29 983.58,76.24 984.89,76.2 986.2,76.16 987.51,76.12 988.82,76.08 990.13,76.05 991.43,76.02 992.74,75.98 994.05,75.95 995.36,75.93 996.67,75.9 997.98,75.87 999.29,75.85 1000.59,75.82 1001.9,75.8 1003.21,75.78 1004.52,75.76 1005.83,75.74 1007.14,75.72 1008.44,75.7 1009.75,75.68 1011.06,75.67 1012.37,75.65 1013.68,75.63 1014.99,75.62 1016.29,75.61 1017.6,75.59 1018.91,75.58 1020.22,75.57 1021.53,75.56 1022.84,75.54 1024.15,75.53 1025.45,75.52 1026.76,75.51 1028.07,75.5 1029.38,75.49 1030.69,75.48 1032,75.48 1033.3,75.47 1034.61,75.46 1035.92,75.45 1037.23,75.44 1038.54,75.44 1039.85,75.43 1041.16,75.42 1042.46,75.42 1043.77,75.41 1045.08,75.4 1046.39,75.4 1047.7,75.39 1049.01,75.39 1050.31,75.38 1051.62,75.38 1052.93,75.37 1054.24,75.37 1055.55,75.36 1056.86,75.36 1058.16,75.35 1059.47,75.35 1060.78,75.35 1062.09,75.34 1063.4,75.34 1064.71,75.34 1066.02,75.33 1067.32,75.33 1068.63,75.33 1069.94,75.32 1071.25,75.32 1072.56,75.32 1073.87,75.31 1075.17,75.31 1076.48,75.31 1077.79,75.31 1079.1,75.3" fill="none" stroke="#2d82c6" stroke-width="1.4" stroke-linejoin="round"/>
<polyline points="686.57,75.89 687.88,75.91 689.19,75.93 690.49,75.95 691.8,75.97 693.11,75.99 694.42,76.02 695.73,76.04 697.04,76.06 698.34,76.09 699.65,76.11 700.96,76.14 702.27,76.17 703.58,76.2 704.89,76.23 706.2,76.26 707.5,76.29 708.81,76.33 710.12,76.36 711.43,76.4 712.74,76.43 714.05,76.47 715.35,76.51 716.66,76.55 717.97,76.6 719.28,76.64 720.59,76.69 721.9,76.74 723.2,76.79 724.51,76.84 725.82,76.9 727.13,76.96 728.44,77.02 729.75,77.08 731.06,77.15 732.36,77.21 733.67,77.28 734.98,77.36 736.29,77.44 737.6,77.52 738.91,77.6 740.21,77.69 741.52,77.78 742.83,77.88 744.14,77.98 745.45,78.09 746.76,78.2 748.07,78.31 749.37,78.43 750.68,78.56 751.99,78.69 753.3,78.83 754.61,78.98 755.92,79.13 757.22,79.29 758.53,79.46 759.84,79.64 761.15,79.83 762.46,80.02 763.77,80.23 765.07,80.45 766.38,80.68 767.69,80.92 769,81.17 770.31,81.44 771.62,81.72 772.93,82.02 774.23,82.34 775.54,82.67 776.85,83.02 778.16,83.39 779.47,83.78 780.78,84.19 782.08,84.63 783.39,85.09 784.7,85.58 786.01,86.1 787.32,86.65 788.63,87.24 789.94,87.85 791.24,88.51 792.55,89.21 793.86,89.95 795.17,90.73 796.48,91.57 797.79,92.45 799.09,93.4 800.4,94.4 801.71,95.47 803.02,96.6 804.33,97.81 805.64,99.1 806.94,100.47 808.25,101.93 809.56,103.48 810.87,105.14 812.18,106.91 813.49,108.79 814.8,110.79 816.1,112.93 817.41,115.2 818.72,117.63 820.03,120.21 821.34,122.95 822.65,125.87 823.95,128.98 825.26,132.28 826.57,135.79 827.88,139.5 829.19,143.44 830.5,147.61 831.81,152.02 833.11,156.68 834.42,161.58 835.73,166.73 837.04,172.14 838.35,177.8 839.66,183.71 840.96,189.86 842.27,196.24 843.58,202.83 844.89,209.61 846.2,216.56 847.51,223.64 848.81,230.81 850.12,238.03 851.43,245.25 852.74,252.42 854.05,259.46 855.36,266.32 856.67,272.92 857.97,279.19 859.28,285.06 860.59,290.45 861.9,295.29 863.21,299.52 864.52,303.07 865.82,305.89 867.13,307.93 868.44,309.17 869.75,309.59 871.06,309.17 872.37,307.93 873.68,305.89 874.98,303.07 876.29,299.52 877.6,295.29 878.91,290.45 880.22,285.06 881.53,279.19 882.83,272.92 884.14,266.32 885.45,259.46 886.76,252.42 888.07,245.25 889.38,238.03 890.68,230.81 891.99,223.64 893.3,216.56 894.61,209.61 895.92,202.83 897.23,196.24 898.54,189.86 899.84,183.71 901.15,177.8 902.46,172.14 903.77,166.73 905.08,161.58 906.39,156.68 907.69,152.02 909,147.61 910.31,143.44 911.62,139.5 912.93,135.79 914.24,132.28 915.55,128.98 916.85,125.87 918.16,122.95 919.47,120.21 920.78,117.63 922.09,115.2 923.4,112.93 924.7,110.79 926.01,108.79 927.32,106.91 928.63,105.14 929.94,103.48 931.25,101.93 932.55,100.47 933.86,99.1 935.17,97.81 936.48,96.6 937.79,95.47 939.1,94.4 940.41,93.4 941.71,92.45 943.02,91.57 944.33,90.73 945.64,89.95 946.95,89.21 948.26,88.51 949.56,87.85 950.87,87.24 952.18,86.65 953.49,86.1 954.8,85.58 956.11,85.09 957.42,84.63 958.72,84.19 960.03,83.78 961.34,83.39 962.65,83.02 963.96,82.67 965.27,82.34 966.57,82.02 967.88,81.72 969.19,81.44 970.5,81.17 971.81,80.92 973.12,80.68 974.42,80.45 975.73,80.23 977.04,80.02 978.35,79.83 979.66,79.64 980.97,79.46 982.28,79.29 983.58,79.13 984.89,78.98 986.2,78.83 987.51,78.69 988.82,78.56 990.13,78.43 991.43,78.31 992.74,78.2 994.05,78.09 995.36,77.98 996.67,77.88 997.98,77.78 999.29,77.69 1000.59,77.6 1001.9,77.52 1003.21,77.44 1004.52,77.36 1005.83,77.28 1007.14,77.21 1008.44,77.15 1009.75,77.08 1011.06,77.02 1012.37,76.96 1013.68,76.9 1014.99,76.84 1016.29,76.79 1017.6,76.74 1018.91,76.69 1020.22,76.64 1021.53,76.6 1022.84,76.55 1024.15,76.51 1025.45,76.47 1026.76,76.43 1028.07,76.4 1029.38,76.36 1030.69,76.33 1032,76.29 1033.3,76.26 1034.61,76.23 1035.92,76.2 1037.23,76.17 1038.54,76.14 1039.85,76.11 1041.16,76.09 1042.46,76.06 1043.77,76.04 1045.08,76.02 1046.39,75.99 1047.7,75.97 1049.01,75.95 1050.31,75.93 1051.62,75.91 1052.93,75.89" fill="none" stroke="#d22f28" stroke-width="1.4" stroke-linejoin="round"/>
<rect x="660.4" y="16.5" width="418.7" height="337.9" fill="none" stroke="#4a4a4a" stroke-width="1.8"/>
<path d="M660.4 354.4v6 M765.07 354.4v6 M869.75 354.4v6 M974.42 354.4v6 M1079.1 354.4v6 M712.74 354.4v3.5 M817.41 354.4v3.5 M922.09 354.4v3.5 M1026.76 354.4v3.5" stroke="#4a4a4a" stroke-width="1.6" fill="none"/>
<text x="660.4" y="382.8" font-size="23.2" text-anchor="middle" fill="#222" >-40</text>
<text x="765.07" y="382.8" font-size="23.2" text-anchor="middle" fill="#222" >-20</text>
<text x="869.75" y="382.8" font-size="23.2" text-anchor="middle" fill="#222" >0</text>
<text x="974.42" y="382.8" font-size="23.2" text-anchor="middle" fill="#222" >20</text>
<text x="1079.1" y="382.8" font-size="23.2" text-anchor="middle" fill="#222" >40</text>
<path d="M660.4 345h-6 M660.4 277.55h-6 M660.4 210.1h-6 M660.4 142.65h-6 M660.4 75.2h-6 M660.4 311.27h-3.5 M660.4 243.82h-3.5 M660.4 176.38h-3.5 M660.4 108.92h-3.5 M660.4 41.47h-3.5" stroke="#4a4a4a" stroke-width="1.6" fill="none"/>
<text x="649.5" y="352.5" font-size="23.2" text-anchor="end" fill="#222" >0.2</text>
<text x="649.5" y="285.05" font-size="23.2" text-anchor="end" fill="#222" >0.4</text>
<text x="649.5" y="217.6" font-size="23.2" text-anchor="end" fill="#222" >0.6</text>
<text x="649.5" y="150.15" font-size="23.2" text-anchor="end" fill="#222" >0.8</text>
<text x="649.5" y="82.7" font-size="23.2" text-anchor="end" fill="#222" >1.0</text>
<text x="684" y="43" font-size="24" text-anchor="start" fill="#222" >800 nm</text>
<text x="869.5" y="409" font-size="25.5" text-anchor="middle" fill="#222"><tspan font-style="italic">z</tspan> (mm)</text>
<text transform="translate(605.7,203.5) rotate(-90)" font-size="25.5" fill="#222"><tspan font-style="italic">T</tspan><tspan font-size="17" dy="6">NL</tspan></text>
<circle cx="772" cy="175" r="15" fill="#1b9a42" stroke="#000" stroke-opacity="0.12" stroke-width="0.8"/>
<text x="772" y="183.4" font-size="24" text-anchor="middle" fill="#fff" >3</text>
<circle cx="772" cy="235" r="15" fill="#1f6fbe" stroke="#000" stroke-opacity="0.12" stroke-width="0.8"/>
<text x="772" y="243.4" font-size="24" text-anchor="middle" fill="#fff" >2</text>
<circle cx="772" cy="295" r="15" fill="#e8382b" stroke="#000" stroke-opacity="0.12" stroke-width="0.8"/>
<path d="M763 0L583 0L583 1147C540 1106 483 1065 413 1024C343 983 280 952 225 932L225 1106C326 1153 413 1211 488 1278C563 1345 616 1410 647 1472L763 1472Z" fill="#fff" transform="translate(766.21,303.59) scale(0.01172,-0.01172)"/>
<line x1="810" y1="158" x2="810" y2="294" stroke="#8c8c8c" stroke-width="1.8"/>
<path d="M810 309L816.8 286L810 290L803.2 286Z" fill="#8c8c8c"/>
<text x="1110.5" y="35.5" font-size="44.5" letter-spacing="1.5" fill="#1a1a1a">c)</text>
<rect x="1188.82" y="110.27" width="5.2" height="5.2" fill="#77bf55" fill-opacity="1"/>
<rect x="1192.74" y="111.21" width="5.2" height="5.2" fill="#77bf55" fill-opacity="1"/>
<rect x="1196.67" y="108.24" width="5.2" height="5.2" fill="#77bf55" fill-opacity="1"/>
<rect x="1203.99" y="112.3" width="5.2" height="5.2" fill="#77bf55" fill-opacity="1"/>
<rect x="1207.92" y="119.6" width="5.2" height="5.2" fill="#77bf55" fill-opacity="1"/>
<rect x="1211.85" y="120.43" width="5.2" height="5.2" fill="#77bf55" fill-opacity="1"/>
<rect x="1218.13" y="124.5" width="5.2" height="5.2" fill="#77bf55" fill-opacity="1"/>
<rect x="1222.31" y="112.3" width="5.2" height="5.2" fill="#77bf55" fill-opacity="1"/>
<rect x="1228.59" y="114.33" width="5.2" height="5.2" fill="#77bf55" fill-opacity="1"/>
<rect x="1232.26" y="104.17" width="5.2" height="5.2" fill="#77bf55" fill-opacity="1"/>
<rect x="1237.49" y="106.2" width="5.2" height="5.2" fill="#77bf55" fill-opacity="1"/>
<rect x="1243.77" y="100.92" width="5.2" height="5.2" fill="#77bf55" fill-opacity="1"/>
<rect x="1250.58" y="98.48" width="5.2" height="5.2" fill="#77bf55" fill-opacity="1"/>
<rect x="1257.9" y="91.97" width="5.2" height="5.2" fill="#77bf55" fill-opacity="1"/>
<rect x="1261.83" y="89.53" width="5.2" height="5.2" fill="#77bf55" fill-opacity="1"/>
<rect x="1265.75" y="85.87" width="5.2" height="5.2" fill="#77bf55" fill-opacity="1"/>
<rect x="1269.68" y="84.85" width="5.2" height="5.2" fill="#77bf55" fill-opacity="1"/>
<rect x="1273.6" y="85.87" width="5.2" height="5.2" fill="#77bf55" fill-opacity="1"/>
<rect x="1280.93" y="71.64" width="5.2" height="5.2" fill="#77bf55" fill-opacity="1"/>
<rect x="1286.16" y="91.97" width="5.2" height="5.2" fill="#77bf55" fill-opacity="1"/>
<rect x="1290.09" y="89.2" width="5.2" height="5.2" fill="#77bf55" fill-opacity="1"/>
<rect x="1294.02" y="91.97" width="5.2" height="5.2" fill="#77bf55" fill-opacity="1"/>
<rect x="1301.34" y="87.9" width="5.2" height="5.2" fill="#77bf55" fill-opacity="1"/>
<rect x="1305.27" y="85.6" width="5.2" height="5.2" fill="#77bf55" fill-opacity="1"/>
<rect x="1309.19" y="83.84" width="5.2" height="5.2" fill="#77bf55" fill-opacity="1"/>
<rect x="1313.12" y="89.86" width="5.2" height="5.2" fill="#77bf55" fill-opacity="1"/>
<rect x="1317.04" y="93.19" width="5.2" height="5.2" fill="#77bf55" fill-opacity="1"/>
<rect x="1320.97" y="89.41" width="5.2" height="5.2" fill="#77bf55" fill-opacity="1"/>
<rect x="1324.89" y="81.81" width="5.2" height="5.2" fill="#77bf55" fill-opacity="1"/>
<rect x="1332.22" y="81.81" width="5.2" height="5.2" fill="#77bf55" fill-opacity="1"/>
<rect x="1336.93" y="95.23" width="5.2" height="5.2" fill="#77bf55" fill-opacity="1"/>
<rect x="1341.64" y="112.3" width="5.2" height="5.2" fill="#77bf55" fill-opacity="1"/>
<rect x="1347.92" y="77.74" width="5.2" height="5.2" fill="#77bf55" fill-opacity="1"/>
<rect x="1353.16" y="83.84" width="5.2" height="5.2" fill="#77bf55" fill-opacity="1"/>
<rect x="1359.96" y="91.97" width="5.2" height="5.2" fill="#77bf55" fill-opacity="1"/>
<rect x="1363.62" y="140.76" width="5.2" height="5.2" fill="#77bf55" fill-opacity="1"/>
<rect x="1367.81" y="157.03" width="5.2" height="5.2" fill="#77bf55" fill-opacity="1"/>
<rect x="1371.47" y="175.33" width="5.2" height="5.2" fill="#77bf55" fill-opacity="1"/>
<rect x="1375.14" y="193.63" width="5.2" height="5.2" fill="#77bf55" fill-opacity="1"/>
<rect x="1381.42" y="213.96" width="5.2" height="5.2" fill="#77bf55" fill-opacity="1"/>
<rect x="1386.65" y="222.09" width="5.2" height="5.2" fill="#77bf55" fill-opacity="1"/>
<rect x="1391.89" y="226.15" width="5.2" height="5.2" fill="#77bf55" fill-opacity="1"/>
<rect x="1395.55" y="230.22" width="5.2" height="5.2" fill="#77bf55" fill-opacity="1"/>
<rect x="1400.78" y="205.82" width="5.2" height="5.2" fill="#77bf55" fill-opacity="1"/>
<rect x="1406.02" y="197.69" width="5.2" height="5.2" fill="#77bf55" fill-opacity="1"/>
<rect x="1411.25" y="185.49" width="5.2" height="5.2" fill="#77bf55" fill-opacity="1"/>
<rect x="1415.7" y="171.34" width="5.2" height="5.2" fill="#77bf55" fill-opacity="1"/>
<rect x="1420.15" y="165.16" width="5.2" height="5.2" fill="#77bf55" fill-opacity="1"/>
<rect x="1426.43" y="165.16" width="5.2" height="5.2" fill="#77bf55" fill-opacity="1"/>
<rect x="1432.71" y="170.04" width="5.2" height="5.2" fill="#77bf55" fill-opacity="1"/>
<rect x="1438.47" y="161.1" width="5.2" height="5.2" fill="#77bf55" fill-opacity="1"/>
<rect x="1444.75" y="144.83" width="5.2" height="5.2" fill="#77bf55" fill-opacity="1"/>
<rect x="1448.67" y="148.23" width="5.2" height="5.2" fill="#77bf55" fill-opacity="1"/>
<rect x="1452.6" y="152.96" width="5.2" height="5.2" fill="#77bf55" fill-opacity="1"/>
<rect x="1456.52" y="148.86" width="5.2" height="5.2" fill="#77bf55" fill-opacity="1"/>
<rect x="1460.45" y="138.73" width="5.2" height="5.2" fill="#77bf55" fill-opacity="1"/>
<rect x="1464.37" y="138.02" width="5.2" height="5.2" fill="#77bf55" fill-opacity="1"/>
<rect x="1468.3" y="132.63" width="5.2" height="5.2" fill="#77bf55" fill-opacity="1"/>
<rect x="1473.27" y="132.8" width="5.2" height="5.2" fill="#77bf55" fill-opacity="1"/>
<rect x="1478.24" y="140.76" width="5.2" height="5.2" fill="#77bf55" fill-opacity="1"/>
<rect x="1485.05" y="126.53" width="5.2" height="5.2" fill="#77bf55" fill-opacity="1"/>
<rect x="1491.33" y="140.76" width="5.2" height="5.2" fill="#77bf55" fill-opacity="1"/>
<rect x="1495.25" y="137.63" width="5.2" height="5.2" fill="#77bf55" fill-opacity="1"/>
<rect x="1499.18" y="135.48" width="5.2" height="5.2" fill="#77bf55" fill-opacity="1"/>
<rect x="1505.46" y="146.86" width="5.2" height="5.2" fill="#77bf55" fill-opacity="1"/>
<rect x="1512.26" y="152.96" width="5.2" height="5.2" fill="#77bf55" fill-opacity="1"/>
<rect x="1516.71" y="161.26" width="5.2" height="5.2" fill="#77bf55" fill-opacity="1"/>
<rect x="1521.16" y="161.1" width="5.2" height="5.2" fill="#77bf55" fill-opacity="1"/>
<rect x="1525.09" y="159.27" width="5.2" height="5.2" fill="#77bf55" fill-opacity="1"/>
<rect x="1529.01" y="157.03" width="5.2" height="5.2" fill="#77bf55" fill-opacity="1"/>
<rect x="1532.94" y="157.83" width="5.2" height="5.2" fill="#77bf55" fill-opacity="1"/>
<rect x="1536.86" y="152.96" width="5.2" height="5.2" fill="#77bf55" fill-opacity="1"/>
<rect x="1544.19" y="148.9" width="5.2" height="5.2" fill="#77bf55" fill-opacity="1"/>
<rect x="1548.11" y="149.42" width="5.2" height="5.2" fill="#77bf55" fill-opacity="1"/>
<rect x="1552.04" y="146.86" width="5.2" height="5.2" fill="#77bf55" fill-opacity="1"/>
<rect x="1555.96" y="143.99" width="5.2" height="5.2" fill="#77bf55" fill-opacity="1"/>
<rect x="1559.89" y="138.73" width="5.2" height="5.2" fill="#77bf55" fill-opacity="1"/>
<rect x="1563.82" y="135.39" width="5.2" height="5.2" fill="#77bf55" fill-opacity="1"/>
<rect x="1567.74" y="128.57" width="5.2" height="5.2" fill="#77bf55" fill-opacity="1"/>
<rect x="1575.07" y="120.43" width="5.2" height="5.2" fill="#77bf55" fill-opacity="1"/>
<rect x="1578.99" y="112.98" width="5.2" height="5.2" fill="#77bf55" fill-opacity="1"/>
<rect x="1582.92" y="108.24" width="5.2" height="5.2" fill="#77bf55" fill-opacity="1"/>
<rect x="1586.84" y="106.36" width="5.2" height="5.2" fill="#77bf55" fill-opacity="1"/>
<rect x="1590.77" y="104.17" width="5.2" height="5.2" fill="#77bf55" fill-opacity="1"/>
<rect x="1594.69" y="101.54" width="5.2" height="5.2" fill="#77bf55" fill-opacity="1"/>
<rect x="1598.62" y="96.04" width="5.2" height="5.2" fill="#77bf55" fill-opacity="1"/>
<rect x="1604.9" y="87.9" width="5.2" height="5.2" fill="#77bf55" fill-opacity="1"/>
<path d="M1204.5 74.11L1208.7 78.31L1204.5 82.51L1200.3 78.31Z" fill="#5a9ad8" fill-opacity="0.9"/>
<path d="M1209.73 72.07L1213.93 76.27L1209.73 80.47L1205.53 76.27Z" fill="#5a9ad8" fill-opacity="0.9"/>
<path d="M1214.97 76.14L1219.17 80.34L1214.97 84.54L1210.77 80.34Z" fill="#5a9ad8" fill-opacity="0.9"/>
<path d="M1220.2 74.11L1224.4 78.31L1220.2 82.51L1216 78.31Z" fill="#5a9ad8" fill-opacity="0.9"/>
<path d="M1225.44 72.07L1229.64 76.27L1225.44 80.47L1221.24 76.27Z" fill="#5a9ad8" fill-opacity="0.9"/>
<path d="M1230.67 74.11L1234.87 78.31L1230.67 82.51L1226.47 78.31Z" fill="#5a9ad8" fill-opacity="0.9"/>
<path d="M1235.9 76.14L1240.1 80.34L1235.9 84.54L1231.7 80.34Z" fill="#5a9ad8" fill-opacity="0.9"/>
<path d="M1241.14 74.11L1245.34 78.31L1241.14 82.51L1236.94 78.31Z" fill="#5a9ad8" fill-opacity="0.9"/>
<path d="M1246.37 72.07L1250.57 76.27L1246.37 80.47L1242.17 76.27Z" fill="#5a9ad8" fill-opacity="0.9"/>
<path d="M1251.61 76.14L1255.81 80.34L1251.61 84.54L1247.4 80.34Z" fill="#5a9ad8" fill-opacity="0.9"/>
<path d="M1256.84 74.11L1261.04 78.31L1256.84 82.51L1252.64 78.31Z" fill="#5a9ad8" fill-opacity="0.9"/>
<path d="M1262.07 72.07L1266.27 76.27L1262.07 80.47L1257.87 76.27Z" fill="#5a9ad8" fill-opacity="0.9"/>
<path d="M1267.31 74.11L1271.51 78.31L1267.31 82.51L1263.11 78.31Z" fill="#5a9ad8" fill-opacity="0.9"/>
<path d="M1272.54 76.14L1276.74 80.34L1272.54 84.54L1268.34 80.34Z" fill="#5a9ad8" fill-opacity="0.9"/>
<path d="M1277.77 74.11L1281.97 78.31L1277.77 82.51L1273.57 78.31Z" fill="#5a9ad8" fill-opacity="0.9"/>
<path d="M1283.01 72.07L1287.21 76.27L1283.01 80.47L1278.81 76.27Z" fill="#5a9ad8" fill-opacity="0.9"/>
<path d="M1288.24 74.11L1292.44 78.31L1288.24 82.51L1284.04 78.31Z" fill="#5a9ad8" fill-opacity="0.9"/>
<path d="M1293.47 72.07L1297.67 76.27L1293.47 80.47L1289.27 76.27Z" fill="#5a9ad8" fill-opacity="0.9"/>
<path d="M1298.71 74.11L1302.91 78.31L1298.71 82.51L1294.51 78.31Z" fill="#5a9ad8" fill-opacity="0.9"/>
<path d="M1303.94 76.14L1308.14 80.34L1303.94 84.54L1299.74 80.34Z" fill="#5a9ad8" fill-opacity="0.9"/>
<path d="M1309.18 74.11L1313.38 78.31L1309.18 82.51L1304.98 78.31Z" fill="#5a9ad8" fill-opacity="0.9"/>
<path d="M1314.41 72.07L1318.61 76.27L1314.41 80.47L1310.21 76.27Z" fill="#5a9ad8" fill-opacity="0.9"/>
<path d="M1319.64 74.11L1323.84 78.31L1319.64 82.51L1315.44 78.31Z" fill="#5a9ad8" fill-opacity="0.9"/>
<path d="M1324.88 76.14L1329.08 80.34L1324.88 84.54L1320.68 80.34Z" fill="#5a9ad8" fill-opacity="0.9"/>
<path d="M1330.11 74.11L1334.31 78.31L1330.11 82.51L1325.91 78.31Z" fill="#5a9ad8" fill-opacity="0.9"/>
<path d="M1335.35 76.14L1339.55 80.34L1335.35 84.54L1331.14 80.34Z" fill="#5a9ad8" fill-opacity="0.9"/>
<path d="M1342.67 80.21L1346.87 84.41L1342.67 88.61L1338.47 84.41Z" fill="#5a9ad8" fill-opacity="0.9"/>
<path d="M1349.48 86.3L1353.68 90.5L1349.48 94.7L1345.28 90.5Z" fill="#5a9ad8" fill-opacity="0.9"/>
<path d="M1355.76 87.93L1359.96 92.13L1355.76 96.33L1351.56 92.13Z" fill="#5a9ad8" fill-opacity="0.9"/>
<path d="M1362.56 98.5L1366.76 102.7L1362.56 106.9L1358.36 102.7Z" fill="#5a9ad8" fill-opacity="0.9"/>
<path d="M1367.79 118.83L1371.99 123.03L1367.79 127.23L1363.59 123.03Z" fill="#5a9ad8" fill-opacity="0.9"/>
<path d="M1371.46 141.2L1375.66 145.4L1371.46 149.6L1367.26 145.4Z" fill="#5a9ad8" fill-opacity="0.9"/>
<path d="M1376.69 172.91L1380.89 177.11L1376.69 181.31L1372.49 177.11Z" fill="#5a9ad8" fill-opacity="0.9"/>
<path d="M1382.97 211.14L1387.17 215.34L1382.97 219.54L1378.77 215.34Z" fill="#5a9ad8" fill-opacity="0.9"/>
<path d="M1388.21 231.47L1392.41 235.67L1388.21 239.87L1384.01 235.67Z" fill="#5a9ad8" fill-opacity="0.9"/>
<path d="M1393.44 244.89L1397.64 249.09L1393.44 253.29L1389.24 249.09Z" fill="#5a9ad8" fill-opacity="0.9"/>
<path d="M1398.15 265.22L1402.35 269.42L1398.15 273.62L1393.95 269.42Z" fill="#5a9ad8" fill-opacity="0.9"/>
<path d="M1404.43 257.08L1408.63 261.28L1404.43 265.48L1400.23 261.28Z" fill="#5a9ad8" fill-opacity="0.9"/>
<path d="M1408.62 250.17L1412.82 254.37L1408.62 258.57L1404.42 254.37Z" fill="#5a9ad8" fill-opacity="0.9"/>
<path d="M1413.85 228.62L1418.05 232.82L1413.85 237.02L1409.65 232.82Z" fill="#5a9ad8" fill-opacity="0.9"/>
<path d="M1419.09 216.42L1423.29 220.62L1419.09 224.82L1414.88 220.62Z" fill="#5a9ad8" fill-opacity="0.9"/>
<path d="M1423.8 192.03L1428 196.23L1423.8 200.43L1419.6 196.23Z" fill="#5a9ad8" fill-opacity="0.9"/>
<path d="M1429.03 171.69L1433.23 175.89L1429.03 180.09L1424.83 175.89Z" fill="#5a9ad8" fill-opacity="0.9"/>
<path d="M1434.26 147.3L1438.46 151.5L1434.26 155.7L1430.06 151.5Z" fill="#5a9ad8" fill-opacity="0.9"/>
<path d="M1441.07 129.41L1445.27 133.61L1441.07 137.81L1436.87 133.61Z" fill="#5a9ad8" fill-opacity="0.9"/>
<path d="M1446.3 101.35L1450.5 105.55L1446.3 109.75L1442.1 105.55Z" fill="#5a9ad8" fill-opacity="0.9"/>
<path d="M1450.23 89.49L1454.43 93.69L1450.23 97.89L1446.03 93.69Z" fill="#5a9ad8" fill-opacity="0.9"/>
<path d="M1454.15 80.21L1458.35 84.41L1454.15 88.61L1449.95 84.41Z" fill="#5a9ad8" fill-opacity="0.9"/>
<path d="M1460.43 74.11L1464.63 78.31L1460.43 82.51L1456.23 78.31Z" fill="#5a9ad8" fill-opacity="0.9"/>
<path d="M1467.24 67.6L1471.44 71.8L1467.24 76L1463.04 71.8Z" fill="#5a9ad8" fill-opacity="0.9"/>
<path d="M1472.47 65.16L1476.67 69.36L1472.47 73.56L1468.27 69.36Z" fill="#5a9ad8" fill-opacity="0.9"/>
<path d="M1478.75 62.72L1482.95 66.92L1478.75 71.12L1474.55 66.92Z" fill="#5a9ad8" fill-opacity="0.9"/>
<path d="M1485.55 60.69L1489.75 64.89L1485.55 69.09L1481.35 64.89Z" fill="#5a9ad8" fill-opacity="0.9"/>
<path d="M1491.83 60.28L1496.03 64.48L1491.83 68.68L1487.63 64.48Z" fill="#5a9ad8" fill-opacity="0.9"/>
<path d="M1498.64 60.28L1502.84 64.48L1498.64 68.68L1494.44 64.48Z" fill="#5a9ad8" fill-opacity="0.9"/>
<path d="M1505.97 62.72L1510.17 66.92L1505.97 71.12L1501.77 66.92Z" fill="#5a9ad8" fill-opacity="0.9"/>
<path d="M1509.89 59.94L1514.09 64.14L1509.89 68.34L1505.69 64.14Z" fill="#5a9ad8" fill-opacity="0.9"/>
<path d="M1513.82 61.5L1518.02 65.7L1513.82 69.9L1509.62 65.7Z" fill="#5a9ad8" fill-opacity="0.9"/>
<path d="M1517.74 66.45L1521.94 70.65L1517.74 74.85L1513.54 70.65Z" fill="#5a9ad8" fill-opacity="0.9"/>
<path d="M1521.67 65.16L1525.87 69.36L1521.67 73.56L1517.47 69.36Z" fill="#5a9ad8" fill-opacity="0.9"/>
<path d="M1525.59 65.94L1529.79 70.14L1525.59 74.34L1521.39 70.14Z" fill="#5a9ad8" fill-opacity="0.9"/>
<path d="M1529.52 66.38L1533.72 70.58L1529.52 74.78L1525.32 70.58Z" fill="#5a9ad8" fill-opacity="0.9"/>
<path d="M1536.84 68.82L1541.04 73.02L1536.84 77.22L1532.64 73.02Z" fill="#5a9ad8" fill-opacity="0.9"/>
<path d="M1540.77 73.28L1544.97 77.48L1540.77 81.68L1536.57 77.48Z" fill="#5a9ad8" fill-opacity="0.9"/>
<path d="M1544.69 80.21L1548.89 84.41L1544.69 88.61L1540.49 84.41Z" fill="#5a9ad8" fill-opacity="0.9"/>
<path d="M1548.62 79.57L1552.82 83.77L1548.62 87.97L1544.42 83.77Z" fill="#5a9ad8" fill-opacity="0.9"/>
<path d="M1552.55 82.24L1556.75 86.44L1552.55 90.64L1548.35 86.44Z" fill="#5a9ad8" fill-opacity="0.9"/>
<path d="M1556.47 84.29L1560.67 88.49L1556.47 92.69L1552.27 88.49Z" fill="#5a9ad8" fill-opacity="0.9"/>
<path d="M1560.4 87.93L1564.6 92.13L1560.4 96.33L1556.2 92.13Z" fill="#5a9ad8" fill-opacity="0.9"/>
<path d="M1564.32 89.56L1568.52 93.76L1564.32 97.96L1560.12 93.76Z" fill="#5a9ad8" fill-opacity="0.9"/>
<path d="M1568.25 94.84L1572.45 99.04L1568.25 103.24L1564.05 99.04Z" fill="#5a9ad8" fill-opacity="0.9"/>
<path d="M1572.17 97.13L1576.37 101.33L1572.17 105.53L1567.97 101.33Z" fill="#5a9ad8" fill-opacity="0.9"/>
<path d="M1576.1 100.13L1580.3 104.33L1576.1 108.53L1571.9 104.33Z" fill="#5a9ad8" fill-opacity="0.9"/>
<path d="M1580.02 103.12L1584.22 107.32L1580.02 111.52L1575.82 107.32Z" fill="#5a9ad8" fill-opacity="0.9"/>
<path d="M1583.95 107.45L1588.15 111.65L1583.95 115.85L1579.75 111.65Z" fill="#5a9ad8" fill-opacity="0.9"/>
<path d="M1587.87 109.87L1592.07 114.07L1587.87 118.27L1583.67 114.07Z" fill="#5a9ad8" fill-opacity="0.9"/>
<path d="M1591.8 112.73L1596 116.93L1591.8 121.13L1587.6 116.93Z" fill="#5a9ad8" fill-opacity="0.9"/>
<path d="M1595.72 115.87L1599.92 120.07L1595.72 124.27L1591.52 120.07Z" fill="#5a9ad8" fill-opacity="0.9"/>
<path d="M1599.65 116.39L1603.85 120.59L1599.65 124.79L1595.45 120.59Z" fill="#5a9ad8" fill-opacity="0.9"/>
<path d="M1603.57 120.68L1607.77 124.88L1603.57 129.08L1599.37 124.88Z" fill="#5a9ad8" fill-opacity="0.9"/>
<path d="M1607.5 122.9L1611.7 127.1L1607.5 131.3L1603.3 127.1Z" fill="#5a9ad8" fill-opacity="0.9"/>
<circle cx="1198.74" cy="73.02" r="3.8" fill="#ee6747" fill-opacity="1"/>
<circle cx="1203.98" cy="86.44" r="3.8" fill="#ee6747" fill-opacity="1"/>
<circle cx="1209.21" cy="90.91" r="3.8" fill="#ee6747" fill-opacity="1"/>
<circle cx="1214.18" cy="87.45" r="3.8" fill="#ee6747" fill-opacity="1"/>
<circle cx="1219.16" cy="84" r="3.8" fill="#ee6747" fill-opacity="1"/>
<circle cx="1223.08" cy="85.51" r="3.8" fill="#ee6747" fill-opacity="1"/>
<circle cx="1227.01" cy="88.47" r="3.8" fill="#ee6747" fill-opacity="1"/>
<circle cx="1230.93" cy="93.61" r="3.8" fill="#ee6747" fill-opacity="1"/>
<circle cx="1234.86" cy="97.42" r="3.8" fill="#ee6747" fill-opacity="1"/>
<circle cx="1242.18" cy="96.2" r="3.8" fill="#ee6747" fill-opacity="1"/>
<circle cx="1246.11" cy="99.79" r="3.8" fill="#ee6747" fill-opacity="1"/>
<circle cx="1250.03" cy="99.04" r="3.8" fill="#ee6747" fill-opacity="1"/>
<circle cx="1253.96" cy="100.15" r="3.8" fill="#ee6747" fill-opacity="1"/>
<circle cx="1257.89" cy="99.04" r="3.8" fill="#ee6747" fill-opacity="1"/>
<circle cx="1265.21" cy="96.2" r="3.8" fill="#ee6747" fill-opacity="1"/>
<circle cx="1270.45" cy="112.87" r="3.8" fill="#ee6747" fill-opacity="1"/>
<circle cx="1277.25" cy="94.57" r="3.8" fill="#ee6747" fill-opacity="1"/>
<circle cx="1281.7" cy="103.5" r="3.8" fill="#ee6747" fill-opacity="1"/>
<circle cx="1286.15" cy="107.58" r="3.8" fill="#ee6747" fill-opacity="1"/>
<circle cx="1291.38" cy="107.58" r="3.8" fill="#ee6747" fill-opacity="1"/>
<circle cx="1298.71" cy="99.04" r="3.8" fill="#ee6747" fill-opacity="1"/>
<circle cx="1302.63" cy="98.9" r="3.8" fill="#ee6747" fill-opacity="1"/>
<circle cx="1306.56" cy="99.04" r="3.8" fill="#ee6747" fill-opacity="1"/>
<circle cx="1310.48" cy="89.47" r="3.8" fill="#ee6747" fill-opacity="1"/>
<circle cx="1314.41" cy="86.44" r="3.8" fill="#ee6747" fill-opacity="1"/>
<circle cx="1319.64" cy="94.57" r="3.8" fill="#ee6747" fill-opacity="1"/>
<circle cx="1324.09" cy="92.72" r="3.8" fill="#ee6747" fill-opacity="1"/>
<circle cx="1328.54" cy="88.47" r="3.8" fill="#ee6747" fill-opacity="1"/>
<circle cx="1334.82" cy="101.08" r="3.8" fill="#ee6747" fill-opacity="1"/>
<circle cx="1340.06" cy="126.69" r="3.8" fill="#ee6747" fill-opacity="1"/>
<circle cx="1345.29" cy="135.64" r="3.8" fill="#ee6747" fill-opacity="1"/>
<circle cx="1350.52" cy="149.87" r="3.8" fill="#ee6747" fill-opacity="1"/>
<circle cx="1355.23" cy="153.94" r="3.8" fill="#ee6747" fill-opacity="1"/>
<circle cx="1360.47" cy="177.93" r="3.8" fill="#ee6747" fill-opacity="1"/>
<circle cx="1365.7" cy="192.16" r="3.8" fill="#ee6747" fill-opacity="1"/>
<circle cx="1370.93" cy="234.45" r="3.8" fill="#ee6747" fill-opacity="1"/>
<circle cx="1377.74" cy="260.06" r="3.8" fill="#ee6747" fill-opacity="1"/>
<circle cx="1382.45" cy="286.9" r="3.8" fill="#ee6747" fill-opacity="1"/>
<circle cx="1386.64" cy="308.86" r="3.8" fill="#ee6747" fill-opacity="1"/>
<circle cx="1392.92" cy="310.08" r="3.8" fill="#ee6747" fill-opacity="1"/>
<circle cx="1398.15" cy="320.65" r="3.8" fill="#ee6747" fill-opacity="1"/>
<circle cx="1404.43" cy="307.64" r="3.8" fill="#ee6747" fill-opacity="1"/>
<circle cx="1408.62" cy="303.98" r="3.8" fill="#ee6747" fill-opacity="1"/>
<circle cx="1413.85" cy="289.75" r="3.8" fill="#ee6747" fill-opacity="1"/>
<circle cx="1419.09" cy="274.3" r="3.8" fill="#ee6747" fill-opacity="1"/>
<circle cx="1423.8" cy="259.25" r="3.8" fill="#ee6747" fill-opacity="1"/>
<circle cx="1429.03" cy="232.82" r="3.8" fill="#ee6747" fill-opacity="1"/>
<circle cx="1434.26" cy="208.42" r="3.8" fill="#ee6747" fill-opacity="1"/>
<circle cx="1441.07" cy="186.87" r="3.8" fill="#ee6747" fill-opacity="1"/>
<circle cx="1446.3" cy="167.76" r="3.8" fill="#ee6747" fill-opacity="1"/>
<circle cx="1449.96" cy="143.36" r="3.8" fill="#ee6747" fill-opacity="1"/>
<circle cx="1455.2" cy="116.93" r="3.8" fill="#ee6747" fill-opacity="1"/>
<circle cx="1461.48" cy="116.93" r="3.8" fill="#ee6747" fill-opacity="1"/>
<circle cx="1466.71" cy="94.57" r="3.8" fill="#ee6747" fill-opacity="1"/>
<circle cx="1470.64" cy="106.25" r="3.8" fill="#ee6747" fill-opacity="1"/>
<circle cx="1474.56" cy="114.9" r="3.8" fill="#ee6747" fill-opacity="1"/>
<circle cx="1478.49" cy="111.67" r="3.8" fill="#ee6747" fill-opacity="1"/>
<circle cx="1482.41" cy="110.84" r="3.8" fill="#ee6747" fill-opacity="1"/>
<circle cx="1487.65" cy="108.8" r="3.8" fill="#ee6747" fill-opacity="1"/>
<circle cx="1492.88" cy="107.58" r="3.8" fill="#ee6747" fill-opacity="1"/>
<circle cx="1500.21" cy="111.65" r="3.8" fill="#ee6747" fill-opacity="1"/>
<circle cx="1504.13" cy="108.34" r="3.8" fill="#ee6747" fill-opacity="1"/>
<circle cx="1508.06" cy="106.77" r="3.8" fill="#ee6747" fill-opacity="1"/>
<circle cx="1511.98" cy="106.51" r="3.8" fill="#ee6747" fill-opacity="1"/>
<circle cx="1515.91" cy="106.77" r="3.8" fill="#ee6747" fill-opacity="1"/>
<circle cx="1521.14" cy="112.87" r="3.8" fill="#ee6747" fill-opacity="1"/>
<circle cx="1525.07" cy="110.06" r="3.8" fill="#ee6747" fill-opacity="1"/>
<circle cx="1528.99" cy="102.7" r="3.8" fill="#ee6747" fill-opacity="1"/>
<circle cx="1535.27" cy="111.65" r="3.8" fill="#ee6747" fill-opacity="1"/>
<circle cx="1541.55" cy="102.7" r="3.8" fill="#ee6747" fill-opacity="1"/>
<circle cx="1545.48" cy="103.38" r="3.8" fill="#ee6747" fill-opacity="1"/>
<circle cx="1549.41" cy="103.92" r="3.8" fill="#ee6747" fill-opacity="1"/>
<circle cx="1553.33" cy="96.33" r="3.8" fill="#ee6747" fill-opacity="1"/>
<circle cx="1557.26" cy="92.13" r="3.8" fill="#ee6747" fill-opacity="1"/>
<circle cx="1562.49" cy="96.2" r="3.8" fill="#ee6747" fill-opacity="1"/>
<circle cx="1567.2" cy="103.92" r="3.8" fill="#ee6747" fill-opacity="1"/>
<circle cx="1571.13" cy="100.49" r="3.8" fill="#ee6747" fill-opacity="1"/>
<circle cx="1575.05" cy="90.5" r="3.8" fill="#ee6747" fill-opacity="1"/>
<circle cx="1578.98" cy="88.57" r="3.8" fill="#ee6747" fill-opacity="1"/>
<circle cx="1582.9" cy="84.41" r="3.8" fill="#ee6747" fill-opacity="1"/>
<circle cx="1586.57" cy="84.41" r="3.8" fill="#ee6747" fill-opacity="1"/>
<circle cx="1593.37" cy="96.2" r="3.8" fill="#ee6747" fill-opacity="1"/>
<polyline points="1188.8,78.32 1190.11,78.32 1191.42,78.32 1192.73,78.32 1194.03,78.32 1195.34,78.32 1196.65,78.32 1197.96,78.32 1199.27,78.32 1200.58,78.32 1201.88,78.32 1203.19,78.32 1204.5,78.32 1205.81,78.32 1207.12,78.32 1208.43,78.32 1209.73,78.32 1211.04,78.33 1212.35,78.33 1213.66,78.33 1214.97,78.33 1216.28,78.33 1217.59,78.33 1218.89,78.33 1220.2,78.33 1221.51,78.33 1222.82,78.33 1224.13,78.34 1225.44,78.34 1226.74,78.34 1228.05,78.34 1229.36,78.34 1230.67,78.34 1231.98,78.34 1233.29,78.35 1234.6,78.35 1235.9,78.35 1237.21,78.35 1238.52,78.35 1239.83,78.36 1241.14,78.36 1242.45,78.36 1243.75,78.36 1245.06,78.37 1246.37,78.37 1247.68,78.37 1248.99,78.38 1250.3,78.38 1251.61,78.38 1252.91,78.39 1254.22,78.39 1255.53,78.4 1256.84,78.4 1258.15,78.41 1259.46,78.41 1260.76,78.42 1262.07,78.42 1263.38,78.43 1264.69,78.43 1266,78.44 1267.31,78.45 1268.61,78.46 1269.92,78.47 1271.23,78.48 1272.54,78.48 1273.85,78.5 1275.16,78.51 1276.47,78.52 1277.77,78.53 1279.08,78.54 1280.39,78.56 1281.7,78.57 1283.01,78.59 1284.32,78.61 1285.62,78.63 1286.93,78.65 1288.24,78.67 1289.55,78.69 1290.86,78.72 1292.17,78.74 1293.47,78.77 1294.78,78.8 1296.09,78.84 1297.4,78.87 1298.71,78.91 1300.02,78.95 1301.33,79 1302.63,79.05 1303.94,79.1 1305.25,79.16 1306.56,79.22 1307.87,79.28 1309.18,79.36 1310.48,79.43 1311.79,79.52 1313.1,79.61 1314.41,79.71 1315.72,79.82 1317.03,79.94 1318.34,80.07 1319.64,80.21 1320.95,80.36 1322.26,80.52 1323.57,80.71 1324.88,80.9 1326.19,81.12 1327.49,81.36 1328.8,81.61 1330.11,81.9 1331.42,82.21 1332.73,82.54 1334.04,82.92 1335.35,83.32 1336.65,83.77 1337.96,84.26 1339.27,84.8 1340.58,85.39 1341.89,86.04 1343.2,86.75 1344.5,87.53 1345.81,88.39 1347.12,89.34 1348.43,90.37 1349.74,91.51 1351.05,92.76 1352.35,94.14 1353.66,95.65 1354.97,97.3 1356.28,99.11 1357.59,101.09 1358.9,103.25 1360.21,105.61 1361.51,108.18 1362.82,110.98 1364.13,114.02 1365.44,117.31 1366.75,120.86 1368.06,124.69 1369.36,128.79 1370.67,133.17 1371.98,137.84 1373.29,142.78 1374.6,147.99 1375.91,153.45 1377.21,159.13 1378.52,165 1379.83,171.01 1381.14,177.12 1382.45,183.27 1383.76,189.38 1385.07,195.39 1386.37,201.2 1387.68,206.73 1388.99,211.89 1390.3,216.58 1391.61,220.73 1392.92,224.24 1394.22,227.06 1395.53,229.12 1396.84,230.37 1398.15,230.79 1399.46,230.37 1400.77,229.12 1402.08,227.06 1403.38,224.24 1404.69,220.73 1406,216.58 1407.31,211.89 1408.62,206.73 1409.93,201.2 1411.23,195.39 1412.54,189.38 1413.85,183.27 1415.16,177.12 1416.47,171.01 1417.78,165 1419.09,159.13 1420.39,153.45 1421.7,147.99 1423.01,142.78 1424.32,137.84 1425.63,133.17 1426.94,128.79 1428.24,124.69 1429.55,120.86 1430.86,117.31 1432.17,114.02 1433.48,110.98 1434.79,108.18 1436.09,105.61 1437.4,103.25 1438.71,101.09 1440.02,99.11 1441.33,97.3 1442.64,95.65 1443.95,94.14 1445.25,92.76 1446.56,91.51 1447.87,90.37 1449.18,89.34 1450.49,88.39 1451.8,87.53 1453.1,86.75 1454.41,86.04 1455.72,85.39 1457.03,84.8 1458.34,84.26 1459.65,83.77 1460.95,83.32 1462.26,82.92 1463.57,82.54 1464.88,82.21 1466.19,81.9 1467.5,81.61 1468.81,81.36 1470.11,81.12 1471.42,80.9 1472.73,80.71 1474.04,80.52 1475.35,80.36 1476.66,80.21 1477.96,80.07 1479.27,79.94 1480.58,79.82 1481.89,79.71 1483.2,79.61 1484.51,79.52 1485.82,79.43 1487.12,79.36 1488.43,79.28 1489.74,79.22 1491.05,79.16 1492.36,79.1 1493.67,79.05 1494.97,79 1496.28,78.95 1497.59,78.91 1498.9,78.87 1500.21,78.84 1501.52,78.8 1502.83,78.77 1504.13,78.74 1505.44,78.72 1506.75,78.69 1508.06,78.67 1509.37,78.65 1510.68,78.63 1511.98,78.61 1513.29,78.59 1514.6,78.57 1515.91,78.56 1517.22,78.54 1518.53,78.53 1519.83,78.52 1521.14,78.51 1522.45,78.5 1523.76,78.48 1525.07,78.48 1526.38,78.47 1527.69,78.46 1528.99,78.45 1530.3,78.44 1531.61,78.43 1532.92,78.43 1534.23,78.42 1535.54,78.42 1536.84,78.41 1538.15,78.41 1539.46,78.4 1540.77,78.4 1542.08,78.39 1543.39,78.39 1544.69,78.38 1546,78.38 1547.31,78.38 1548.62,78.37 1549.93,78.37 1551.24,78.37 1552.55,78.36 1553.85,78.36 1555.16,78.36 1556.47,78.36 1557.78,78.35 1559.09,78.35 1560.4,78.35 1561.7,78.35 1563.01,78.35 1564.32,78.34 1565.63,78.34 1566.94,78.34 1568.25,78.34 1569.56,78.34 1570.86,78.34 1572.17,78.34 1573.48,78.33 1574.79,78.33 1576.1,78.33 1577.41,78.33 1578.71,78.33 1580.02,78.33 1581.33,78.33 1582.64,78.33 1583.95,78.33 1585.26,78.33 1586.57,78.32 1587.87,78.32 1589.18,78.32 1590.49,78.32 1591.8,78.32 1593.11,78.32 1594.42,78.32 1595.72,78.32 1597.03,78.32 1598.34,78.32 1599.65,78.32 1600.96,78.32 1602.27,78.32 1603.57,78.32 1604.88,78.32 1606.19,78.32 1607.5,78.32" fill="none" stroke="#3c9f38" stroke-width="1.3" stroke-linejoin="round"/>
<polyline points="1188.8,78.32 1190.11,78.32 1191.42,78.32 1192.73,78.32 1194.03,78.32 1195.34,78.32 1196.65,78.32 1197.96,78.32 1199.27,78.32 1200.58,78.32 1201.88,78.33 1203.19,78.33 1204.5,78.33 1205.81,78.33 1207.12,78.33 1208.43,78.33 1209.73,78.33 1211.04,78.33 1212.35,78.33 1213.66,78.33 1214.97,78.33 1216.28,78.34 1217.59,78.34 1218.89,78.34 1220.2,78.34 1221.51,78.34 1222.82,78.34 1224.13,78.34 1225.44,78.35 1226.74,78.35 1228.05,78.35 1229.36,78.35 1230.67,78.35 1231.98,78.36 1233.29,78.36 1234.6,78.36 1235.9,78.36 1237.21,78.37 1238.52,78.37 1239.83,78.37 1241.14,78.37 1242.45,78.38 1243.75,78.38 1245.06,78.38 1246.37,78.39 1247.68,78.39 1248.99,78.4 1250.3,78.4 1251.61,78.41 1252.91,78.41 1254.22,78.42 1255.53,78.42 1256.84,78.43 1258.15,78.44 1259.46,78.44 1260.76,78.45 1262.07,78.46 1263.38,78.47 1264.69,78.47 1266,78.48 1267.31,78.49 1268.61,78.5 1269.92,78.51 1271.23,78.53 1272.54,78.54 1273.85,78.55 1275.16,78.57 1276.47,78.58 1277.77,78.6 1279.08,78.62 1280.39,78.63 1281.7,78.65 1283.01,78.68 1284.32,78.7 1285.62,78.72 1286.93,78.75 1288.24,78.78 1289.55,78.81 1290.86,78.84 1292.17,78.87 1293.47,78.91 1294.78,78.95 1296.09,79 1297.4,79.04 1298.71,79.09 1300.02,79.15 1301.33,79.21 1302.63,79.27 1303.94,79.34 1305.25,79.41 1306.56,79.49 1307.87,79.58 1309.18,79.67 1310.48,79.77 1311.79,79.88 1313.1,80 1314.41,80.13 1315.72,80.28 1317.03,80.43 1318.34,80.6 1319.64,80.78 1320.95,80.98 1322.26,81.19 1323.57,81.43 1324.88,81.69 1326.19,81.97 1327.49,82.27 1328.8,82.61 1330.11,82.98 1331.42,83.38 1332.73,83.82 1334.04,84.3 1335.35,84.83 1336.65,85.42 1337.96,86.05 1339.27,86.75 1340.58,87.52 1341.89,88.36 1343.2,89.29 1344.5,90.31 1345.81,91.43 1347.12,92.66 1348.43,94.01 1349.74,95.49 1351.05,97.12 1352.35,98.91 1353.66,100.87 1354.97,103.02 1356.28,105.37 1357.59,107.95 1358.9,110.77 1360.21,113.84 1361.51,117.19 1362.82,120.83 1364.13,124.78 1365.44,129.06 1366.75,133.69 1368.06,138.66 1369.36,144 1370.67,149.71 1371.98,155.78 1373.29,162.21 1374.6,168.99 1375.91,176.09 1377.21,183.48 1378.52,191.12 1379.83,198.95 1381.14,206.9 1382.45,214.9 1383.76,222.86 1385.07,230.67 1386.37,238.23 1387.68,245.43 1388.99,252.14 1390.3,258.25 1391.61,263.64 1392.92,268.22 1394.22,271.88 1395.53,274.56 1396.84,276.19 1398.15,276.74 1399.46,276.19 1400.77,274.56 1402.08,271.88 1403.38,268.22 1404.69,263.64 1406,258.25 1407.31,252.14 1408.62,245.43 1409.93,238.23 1411.23,230.67 1412.54,222.86 1413.85,214.9 1415.16,206.9 1416.47,198.95 1417.78,191.12 1419.09,183.48 1420.39,176.09 1421.7,168.99 1423.01,162.21 1424.32,155.78 1425.63,149.71 1426.94,144 1428.24,138.66 1429.55,133.69 1430.86,129.06 1432.17,124.78 1433.48,120.83 1434.79,117.19 1436.09,113.84 1437.4,110.77 1438.71,107.95 1440.02,105.37 1441.33,103.02 1442.64,100.87 1443.95,98.91 1445.25,97.12 1446.56,95.49 1447.87,94.01 1449.18,92.66 1450.49,91.43 1451.8,90.31 1453.1,89.29 1454.41,88.36 1455.72,87.52 1457.03,86.75 1458.34,86.05 1459.65,85.42 1460.95,84.83 1462.26,84.3 1463.57,83.82 1464.88,83.38 1466.19,82.98 1467.5,82.61 1468.81,82.27 1470.11,81.97 1471.42,81.69 1472.73,81.43 1474.04,81.19 1475.35,80.98 1476.66,80.78 1477.96,80.6 1479.27,80.43 1480.58,80.28 1481.89,80.13 1483.2,80 1484.51,79.88 1485.82,79.77 1487.12,79.67 1488.43,79.58 1489.74,79.49 1491.05,79.41 1492.36,79.34 1493.67,79.27 1494.97,79.21 1496.28,79.15 1497.59,79.09 1498.9,79.04 1500.21,79 1501.52,78.95 1502.83,78.91 1504.13,78.87 1505.44,78.84 1506.75,78.81 1508.06,78.78 1509.37,78.75 1510.68,78.72 1511.98,78.7 1513.29,78.68 1514.6,78.65 1515.91,78.63 1517.22,78.62 1518.53,78.6 1519.83,78.58 1521.14,78.57 1522.45,78.55 1523.76,78.54 1525.07,78.53 1526.38,78.51 1527.69,78.5 1528.99,78.49 1530.3,78.48 1531.61,78.47 1532.92,78.47 1534.23,78.46 1535.54,78.45 1536.84,78.44 1538.15,78.44 1539.46,78.43 1540.77,78.42 1542.08,78.42 1543.39,78.41 1544.69,78.41 1546,78.4 1547.31,78.4 1548.62,78.39 1549.93,78.39 1551.24,78.38 1552.55,78.38 1553.85,78.38 1555.16,78.37 1556.47,78.37 1557.78,78.37 1559.09,78.37 1560.4,78.36 1561.7,78.36 1563.01,78.36 1564.32,78.36 1565.63,78.35 1566.94,78.35 1568.25,78.35 1569.56,78.35 1570.86,78.35 1572.17,78.34 1573.48,78.34 1574.79,78.34 1576.1,78.34 1577.41,78.34 1578.71,78.34 1580.02,78.34 1581.33,78.33 1582.64,78.33 1583.95,78.33 1585.26,78.33 1586.57,78.33 1587.87,78.33 1589.18,78.33 1590.49,78.33 1591.8,78.33 1593.11,78.33 1594.42,78.33 1595.72,78.32 1597.03,78.32 1598.34,78.32 1599.65,78.32 1600.96,78.32 1602.27,78.32 1603.57,78.32 1604.88,78.32 1606.19,78.32 1607.5,78.32" fill="none" stroke="#2d82c6" stroke-width="1.4" stroke-linejoin="round"/>
<polyline points="1188.8,78.5 1190.11,78.51 1191.42,78.52 1192.73,78.52 1194.03,78.53 1195.34,78.54 1196.65,78.55 1197.96,78.56 1199.27,78.57 1200.58,78.57 1201.88,78.58 1203.19,78.59 1204.5,78.61 1205.81,78.62 1207.12,78.63 1208.43,78.64 1209.73,78.65 1211.04,78.67 1212.35,78.68 1213.66,78.69 1214.97,78.71 1216.28,78.72 1217.59,78.74 1218.89,78.76 1220.2,78.77 1221.51,78.79 1222.82,78.81 1224.13,78.83 1225.44,78.85 1226.74,78.88 1228.05,78.9 1229.36,78.92 1230.67,78.95 1231.98,78.98 1233.29,79 1234.6,79.03 1235.9,79.06 1237.21,79.1 1238.52,79.13 1239.83,79.17 1241.14,79.2 1242.45,79.24 1243.75,79.28 1245.06,79.32 1246.37,79.37 1247.68,79.42 1248.99,79.47 1250.3,79.52 1251.61,79.57 1252.91,79.63 1254.22,79.69 1255.53,79.76 1256.84,79.82 1258.15,79.89 1259.46,79.97 1260.76,80.05 1262.07,80.13 1263.38,80.22 1264.69,80.31 1266,80.41 1267.31,80.51 1268.61,80.62 1269.92,80.73 1271.23,80.85 1272.54,80.98 1273.85,81.11 1275.16,81.25 1276.47,81.4 1277.77,81.56 1279.08,81.73 1280.39,81.9 1281.7,82.09 1283.01,82.29 1284.32,82.5 1285.62,82.72 1286.93,82.95 1288.24,83.2 1289.55,83.46 1290.86,83.74 1292.17,84.04 1293.47,84.35 1294.78,84.68 1296.09,85.03 1297.4,85.41 1298.71,85.8 1300.02,86.22 1301.33,86.67 1302.63,87.15 1303.94,87.65 1305.25,88.18 1306.56,88.75 1307.87,89.35 1309.18,89.99 1310.48,90.68 1311.79,91.4 1313.1,92.17 1314.41,92.99 1315.72,93.85 1317.03,94.78 1318.34,95.76 1319.64,96.8 1320.95,97.91 1322.26,99.08 1323.57,100.33 1324.88,101.66 1326.19,103.07 1327.49,104.57 1328.8,106.16 1330.11,107.85 1331.42,109.64 1332.73,111.54 1334.04,113.56 1335.35,115.69 1336.65,117.95 1337.96,120.35 1339.27,122.88 1340.58,125.56 1341.89,128.39 1343.2,131.37 1344.5,134.52 1345.81,137.84 1347.12,141.33 1348.43,145 1349.74,148.86 1351.05,152.9 1352.35,157.14 1353.66,161.57 1354.97,166.19 1356.28,171.01 1357.59,176.02 1358.9,181.22 1360.21,186.61 1361.51,192.19 1362.82,197.93 1364.13,203.84 1365.44,209.89 1366.75,216.08 1368.06,222.39 1369.36,228.8 1370.67,235.28 1371.98,241.81 1373.29,248.36 1374.6,254.91 1375.91,261.41 1377.21,267.84 1378.52,274.15 1379.83,280.32 1381.14,286.29 1382.45,292.03 1383.76,297.51 1385.07,302.67 1386.37,307.48 1387.68,311.9 1388.99,315.89 1390.3,319.43 1391.61,322.48 1392.92,325.01 1394.22,327 1395.53,328.44 1396.84,329.31 1398.15,329.6 1399.46,329.31 1400.77,328.44 1402.08,327 1403.38,325.01 1404.69,322.48 1406,319.43 1407.31,315.89 1408.62,311.9 1409.93,307.48 1411.23,302.67 1412.54,297.51 1413.85,292.03 1415.16,286.29 1416.47,280.32 1417.78,274.15 1419.09,267.84 1420.39,261.41 1421.7,254.91 1423.01,248.36 1424.32,241.81 1425.63,235.28 1426.94,228.8 1428.24,222.39 1429.55,216.08 1430.86,209.89 1432.17,203.84 1433.48,197.93 1434.79,192.19 1436.09,186.61 1437.4,181.22 1438.71,176.02 1440.02,171.01 1441.33,166.19 1442.64,161.57 1443.95,157.14 1445.25,152.9 1446.56,148.86 1447.87,145 1449.18,141.33 1450.49,137.84 1451.8,134.52 1453.1,131.37 1454.41,128.39 1455.72,125.56 1457.03,122.88 1458.34,120.35 1459.65,117.95 1460.95,115.69 1462.26,113.56 1463.57,111.54 1464.88,109.64 1466.19,107.85 1467.5,106.16 1468.81,104.57 1470.11,103.07 1471.42,101.66 1472.73,100.33 1474.04,99.08 1475.35,97.91 1476.66,96.8 1477.96,95.76 1479.27,94.78 1480.58,93.85 1481.89,92.99 1483.2,92.17 1484.51,91.4 1485.82,90.68 1487.12,89.99 1488.43,89.35 1489.74,88.75 1491.05,88.18 1492.36,87.65 1493.67,87.15 1494.97,86.67 1496.28,86.22 1497.59,85.8 1498.9,85.41 1500.21,85.03 1501.52,84.68 1502.83,84.35 1504.13,84.04 1505.44,83.74 1506.75,83.46 1508.06,83.2 1509.37,82.95 1510.68,82.72 1511.98,82.5 1513.29,82.29 1514.6,82.09 1515.91,81.9 1517.22,81.73 1518.53,81.56 1519.83,81.4 1521.14,81.25 1522.45,81.11 1523.76,80.98 1525.07,80.85 1526.38,80.73 1527.69,80.62 1528.99,80.51 1530.3,80.41 1531.61,80.31 1532.92,80.22 1534.23,80.13 1535.54,80.05 1536.84,79.97 1538.15,79.89 1539.46,79.82 1540.77,79.76 1542.08,79.69 1543.39,79.63 1544.69,79.57 1546,79.52 1547.31,79.47 1548.62,79.42 1549.93,79.37 1551.24,79.32 1552.55,79.28 1553.85,79.24 1555.16,79.2 1556.47,79.17 1557.78,79.13 1559.09,79.1 1560.4,79.06 1561.7,79.03 1563.01,79 1564.32,78.98 1565.63,78.95 1566.94,78.92 1568.25,78.9 1569.56,78.88 1570.86,78.85 1572.17,78.83 1573.48,78.81 1574.79,78.79 1576.1,78.77 1577.41,78.76 1578.71,78.74 1580.02,78.72 1581.33,78.71 1582.64,78.69 1583.95,78.68 1585.26,78.67 1586.57,78.65" fill="none" stroke="#d22f28" stroke-width="1.4" stroke-linejoin="round"/>
<rect x="1188.8" y="16.5" width="418.7" height="337.9" fill="none" stroke="#4a4a4a" stroke-width="1.8"/>
<path d="M1188.8 354.4v6 M1293.47 354.4v6 M1398.15 354.4v6 M1502.83 354.4v6 M1607.5 354.4v6 M1241.14 354.4v3.5 M1345.81 354.4v3.5 M1450.49 354.4v3.5 M1555.16 354.4v3.5" stroke="#4a4a4a" stroke-width="1.6" fill="none"/>
<text x="1188.8" y="382.8" font-size="23.2" text-anchor="middle" fill="#222" >-40</text>
<text x="1293.47" y="382.8" font-size="23.2" text-anchor="middle" fill="#222" >-20</text>
<text x="1398.15" y="382.8" font-size="23.2" text-anchor="middle" fill="#222" >0</text>
<text x="1502.83" y="382.8" font-size="23.2" text-anchor="middle" fill="#222" >20</text>
<text x="1607.5" y="382.8" font-size="23.2" text-anchor="middle" fill="#222" >40</text>
<path d="M1188.8 322.28h-6 M1188.8 240.95h-6 M1188.8 159.63h-6 M1188.8 78.31h-6 M1188.8 281.62h-3.5 M1188.8 200.29h-3.5 M1188.8 118.97h-3.5 M1188.8 37.64h-3.5" stroke="#4a4a4a" stroke-width="1.6" fill="none"/>
<text x="1178.6" y="329.78" font-size="23.2" text-anchor="end" fill="#222" >0.4</text>
<text x="1178.6" y="248.45" font-size="23.2" text-anchor="end" fill="#222" >0.6</text>
<text x="1178.6" y="167.13" font-size="23.2" text-anchor="end" fill="#222" >0.8</text>
<text x="1178.6" y="85.81" font-size="23.2" text-anchor="end" fill="#222" >1.0</text>
<text x="1208" y="43" font-size="24" text-anchor="start" fill="#222" >1550 nm</text>
<text x="1398.5" y="409" font-size="25.5" text-anchor="middle" fill="#222"><tspan font-style="italic">z</tspan> (mm)</text>
<text transform="translate(1131.7,203.5) rotate(-90)" font-size="25.5" fill="#222"><tspan font-style="italic">T</tspan><tspan font-size="17" dy="6">NL</tspan></text>
<circle cx="1254" cy="175" r="15" fill="#1b9a42" stroke="#000" stroke-opacity="0.12" stroke-width="0.8"/>
<text x="1254" y="183.4" font-size="24" text-anchor="middle" fill="#fff" >3</text>
<circle cx="1254" cy="235" r="15" fill="#1f6fbe" stroke="#000" stroke-opacity="0.12" stroke-width="0.8"/>
<text x="1254" y="243.4" font-size="24" text-anchor="middle" fill="#fff" >2</text>
<circle cx="1254" cy="295" r="15" fill="#e8382b" stroke="#000" stroke-opacity="0.12" stroke-width="0.8"/>
<path d="M763 0L583 0L583 1147C540 1106 483 1065 413 1024C343 983 280 952 225 932L225 1106C326 1153 413 1211 488 1278C563 1345 616 1410 647 1472L763 1472Z" fill="#fff" transform="translate(1248.21,303.59) scale(0.01172,-0.01172)"/>
<line x1="1291" y1="158" x2="1291" y2="294" stroke="#8c8c8c" stroke-width="1.8"/>
<path d="M1291 309L1297.8 286L1291 290L1284.2 286Z" fill="#8c8c8c"/>
<text x="1.8" y="455.7" font-size="44.5" letter-spacing="1.5" fill="#1a1a1a">d)</text>
<line x1="131.3" y1="561.4" x2="434.8" y2="561.4" stroke="#efefef" stroke-width="2"/>
<line x1="131.3" y1="670.6" x2="434.8" y2="670.6" stroke="#efefef" stroke-width="2"/>
<rect x="131.3" y="479.7" width="256.15" height="54.4" fill="#e95c3a" stroke="#7e3526" stroke-width="1"/>
<path d="M394.13 506.9H380.78M394.13 503.2v7.4M380.78 503.2v7.4" stroke="#111" stroke-width="1.8" fill="none"/>
<rect x="131.3" y="588.9" width="236.73" height="54.4" fill="#6ea7dc" stroke="#34506c" stroke-width="1"/>
<path d="M371.06 616.1H365M371.06 612.4v7.4M365 612.4v7.4" stroke="#111" stroke-width="1.8" fill="none"/>
<rect x="131.3" y="698" width="121.4" height="54.4" fill="#7fc157" stroke="#4a6e35" stroke-width="1"/>
<path d="M255.74 725.2H249.67M255.74 721.5v7.4M249.67 721.5v7.4" stroke="#111" stroke-width="1.8" fill="none"/>
<rect x="131.3" y="452.2" width="303.5" height="327.4" fill="none" stroke="#4a4a4a" stroke-width="1.8"/>
<path d="M127.8 452.2h7 M127.8 561.4h7 M127.8 670.6h7 M127.8 779.6h7" stroke="#4a4a4a" stroke-width="1.3"/>
<path d="M131.3 779.6v6.2 M192 779.6v6.2 M252.7 779.6v6.2 M313.4 779.6v6.2 M374.1 779.6v6.2 M434.8 779.6v6.2 M422.66 779.6v3.2 M410.52 779.6v3.2 M398.38 779.6v3.2 M386.24 779.6v3.2 M361.96 779.6v3.2 M349.82 779.6v3.2 M337.68 779.6v3.2 M325.54 779.6v3.2 M301.26 779.6v3.2 M289.12 779.6v3.2 M276.98 779.6v3.2 M264.84 779.6v3.2 M240.56 779.6v3.2 M228.42 779.6v3.2 M216.28 779.6v3.2 M204.14 779.6v3.2 M179.86 779.6v3.2 M167.72 779.6v3.2 M155.58 779.6v3.2 M143.44 779.6v3.2" stroke="#4a4a4a" stroke-width="1.6" fill="none"/>
<text x="131.3" y="808.3" font-size="22.5" text-anchor="middle" fill="#222" >0</text>
<text x="192" y="808.3" font-size="22.5" text-anchor="middle" fill="#222" >-1</text>
<text x="252.7" y="808.3" font-size="22.5" text-anchor="middle" fill="#222" >-2</text>
<text x="313.4" y="808.3" font-size="22.5" text-anchor="middle" fill="#222" >-3</text>
<text x="374.1" y="808.3" font-size="22.5" text-anchor="middle" fill="#222" >-4</text>
<text x="434.8" y="808.3" font-size="22.5" text-anchor="middle" fill="#222" >-5</text>
<text x="428.3" y="760" font-size="24" text-anchor="end" fill="#222" >515 nm, SA</text>
<text transform="translate(283,845.8) scale(1.15,1)" font-size="19" text-anchor="middle" fill="#222"><tspan font-style="italic">β</tspan><tspan font-size="13.5" dy="4.5">eff</tspan><tspan dy="-4.5"> (</tspan><tspan font-weight="bold">×</tspan> 10 <tspan font-size="13" dy="-7">3</tspan><tspan dy="7"> cm GW</tspan><tspan font-size="13" dy="-7">-2</tspan><tspan dy="7">)</tspan></text>
<line x1="450.6" y1="561.4" x2="752.7" y2="561.4" stroke="#efefef" stroke-width="2"/>
<line x1="450.6" y1="670.6" x2="752.7" y2="670.6" stroke="#efefef" stroke-width="2"/>
<rect x="450.6" y="479.7" width="273.75" height="54.4" fill="#e95c3a" stroke="#7e3526" stroke-width="1"/>
<path d="M721.02 506.9H727.69M721.02 503.2v7.4M727.69 503.2v7.4" stroke="#111" stroke-width="1.8" fill="none"/>
<rect x="450.6" y="588.9" width="100.05" height="54.4" fill="#6ea7dc" stroke="#34506c" stroke-width="1"/>
<path d="M546.48 616.1H554.82M546.48 612.4v7.4M554.82 612.4v7.4" stroke="#111" stroke-width="1.8" fill="none"/>
<rect x="450.6" y="698" width="13.9" height="54.4" fill="#7fc157" stroke="#4a6e35" stroke-width="1"/>
<path d="M462.27 725.2H466.72M462.27 721.5v7.4M466.72 721.5v7.4" stroke="#111" stroke-width="1.8" fill="none"/>
<rect x="450.6" y="452.2" width="302.1" height="327.4" fill="none" stroke="#4a4a4a" stroke-width="1.8"/>
<path d="M447.1 452.2h7 M447.1 561.4h7 M447.1 670.6h7 M447.1 779.6h7" stroke="#4a4a4a" stroke-width="1.3"/>
<path d="M450.6 779.6v6.2 M506.18 779.6v6.2 M561.77 779.6v6.2 M617.35 779.6v6.2 M672.94 779.6v6.2 M728.52 779.6v6.2 M461.72 779.6v3.2 M472.83 779.6v3.2 M483.95 779.6v3.2 M495.07 779.6v3.2 M517.3 779.6v3.2 M528.42 779.6v3.2 M539.53 779.6v3.2 M550.65 779.6v3.2 M572.89 779.6v3.2 M584 779.6v3.2 M595.12 779.6v3.2 M606.24 779.6v3.2 M628.47 779.6v3.2 M639.59 779.6v3.2 M650.7 779.6v3.2 M661.82 779.6v3.2 M684.05 779.6v3.2 M695.17 779.6v3.2 M706.29 779.6v3.2 M717.4 779.6v3.2 M739.64 779.6v3.2 M750.75 779.6v3.2" stroke="#4a4a4a" stroke-width="1.6" fill="none"/>
<text x="450.6" y="808.3" font-size="22.5" text-anchor="middle" fill="#222" >0</text>
<text x="506.18" y="808.3" font-size="22.5" text-anchor="middle" fill="#222" >2</text>
<text x="561.77" y="808.3" font-size="22.5" text-anchor="middle" fill="#222" >4</text>
<text x="617.35" y="808.3" font-size="22.5" text-anchor="middle" fill="#222" >6</text>
<text x="672.94" y="808.3" font-size="22.5" text-anchor="middle" fill="#222" >8</text>
<text x="728.52" y="808.3" font-size="22.5" text-anchor="middle" fill="#222" >10</text>
<text x="749.3" y="760" font-size="24" text-anchor="end" fill="#222" >800 nm, TPA</text>
<text transform="translate(601.5,845.8) scale(1.15,1)" font-size="19" text-anchor="middle" fill="#222"><tspan font-style="italic">β</tspan><tspan font-size="13.5" dy="4.5">eff</tspan><tspan dy="-4.5"> (</tspan><tspan font-weight="bold">×</tspan> 10 <tspan font-size="13" dy="-7">3</tspan><tspan dy="7"> cm GW</tspan><tspan font-size="13" dy="-7">-2</tspan><tspan dy="7">)</tspan></text>
<line x1="766.8" y1="561.4" x2="1067.4" y2="561.4" stroke="#efefef" stroke-width="2"/>
<line x1="766.8" y1="670.6" x2="1067.4" y2="670.6" stroke="#efefef" stroke-width="2"/>
<rect x="766.8" y="479.7" width="261.37" height="54.4" fill="#e95c3a" stroke="#7e3526" stroke-width="1"/>
<path d="M1021.24 506.9H1035.09M1021.24 503.2v7.4M1035.09 503.2v7.4" stroke="#111" stroke-width="1.8" fill="none"/>
<rect x="766.8" y="588.9" width="63.47" height="54.4" fill="#6ea7dc" stroke="#34506c" stroke-width="1"/>
<path d="M823.92 616.1H836.61M823.92 612.4v7.4M836.61 612.4v7.4" stroke="#111" stroke-width="1.8" fill="none"/>
<rect x="766.8" y="698" width="19.62" height="54.4" fill="#7fc157" stroke="#4a6e35" stroke-width="1"/>
<path d="M781.8 725.2H791.03M781.8 721.5v7.4M791.03 721.5v7.4" stroke="#111" stroke-width="1.8" fill="none"/>
<rect x="766.8" y="452.2" width="300.6" height="327.4" fill="none" stroke="#4a4a4a" stroke-width="1.8"/>
<path d="M763.3 452.2h7 M763.3 561.4h7 M763.3 670.6h7 M763.3 779.6h7" stroke="#4a4a4a" stroke-width="1.3"/>
<path d="M766.8 779.6v6.2 M824.5 779.6v6.2 M882.19 779.6v6.2 M939.89 779.6v6.2 M997.59 779.6v6.2 M1055.28 779.6v6.2 M778.34 779.6v3.2 M789.88 779.6v3.2 M801.42 779.6v3.2 M812.96 779.6v3.2 M836.04 779.6v3.2 M847.58 779.6v3.2 M859.11 779.6v3.2 M870.65 779.6v3.2 M893.73 779.6v3.2 M905.27 779.6v3.2 M916.81 779.6v3.2 M928.35 779.6v3.2 M951.43 779.6v3.2 M962.97 779.6v3.2 M974.51 779.6v3.2 M986.05 779.6v3.2 M1009.13 779.6v3.2 M1020.67 779.6v3.2 M1032.2 779.6v3.2 M1043.74 779.6v3.2 M1066.82 779.6v3.2" stroke="#4a4a4a" stroke-width="1.6" fill="none"/>
<text x="766.8" y="808.3" font-size="22.5" text-anchor="middle" fill="#222" >0</text>
<text x="824.5" y="808.3" font-size="22.5" text-anchor="middle" fill="#222" >10</text>
<text x="882.19" y="808.3" font-size="22.5" text-anchor="middle" fill="#222" >20</text>
<text x="939.89" y="808.3" font-size="22.5" text-anchor="middle" fill="#222" >30</text>
<text x="997.59" y="808.3" font-size="22.5" text-anchor="middle" fill="#222" >40</text>
<text x="1055.28" y="808.3" font-size="22.5" text-anchor="middle" fill="#222" >50</text>
<text x="1063.8" y="760" font-size="24" text-anchor="end" fill="#222" >1550 nm, 3PA</text>
<text transform="translate(917,845.8) scale(1.15,1)" font-size="19" text-anchor="middle" fill="#222"><tspan font-style="italic">γ</tspan><tspan font-size="13.5" dy="4.5">eff</tspan><tspan dy="-4.5"> (cm</tspan><tspan font-size="13" dy="-7">3</tspan><tspan dy="7"> GW</tspan><tspan font-size="13" dy="-7">-2</tspan><tspan dy="7">)</tspan></text>
<text x="108.5" y="523.7" font-size="23.5" text-anchor="end" fill="#222">SnS<tspan font-size="15">2</tspan>/CTA</text>
<text x="108.5" y="632.9" font-size="23.5" text-anchor="end" fill="#222">SnS<tspan font-size="15">2</tspan>/OTA</text>
<text x="108.5" y="742.1" font-size="23.5" text-anchor="end" fill="#222">SnS<tspan font-size="15">2</tspan></text>
<text x="1108.6" y="456" font-size="44.5" letter-spacing="1.5" fill="#1a1a1a">e)</text>
<rect x="1441.3" y="449.3" width="164.5" height="254.4" fill="#dde9f6" stroke="#6a6aa8" stroke-width="1.3"/>
<rect x="1187.6" y="448.8" width="418.7" height="337.2" fill="none" stroke="#4a4a4a" stroke-width="1.8"/>
<rect x="1478" y="447.6" width="6" height="2.4" fill="#fff"/>
<path d="M1473.5 455.3L1481 442.3M1480 455.3L1487.5 442.3" stroke="#4a4a4a" stroke-width="1.2"/>
<rect x="1478" y="784.8" width="6" height="2.4" fill="#fff"/>
<path d="M1473.5 792.5L1481 779.5M1480 792.5L1487.5 779.5" stroke="#4a4a4a" stroke-width="1.2"/>
<path d="M1187.6 757.9h-6 M1187.6 701.7h-6 M1187.6 645.5h-6 M1187.6 589.3h-6 M1187.6 533.1h-6 M1187.6 476.9h-6 M1187.6 729.8h-3.5 M1187.6 673.6h-3.5 M1187.6 617.4h-3.5 M1187.6 561.2h-3.5 M1187.6 505h-3.5" stroke="#4a4a4a" stroke-width="1.6" fill="none"/>
<text x="1176.2" y="764.4" font-size="19.5" text-anchor="end" fill="#222">0.0</text>
<text x="1176.2" y="708.2" font-size="19.5" text-anchor="end" fill="#222">2.0x10<tspan font-size="11" dy="-8.2">4</tspan></text>
<text x="1176.2" y="652" font-size="19.5" text-anchor="end" fill="#222">4.0x10<tspan font-size="11" dy="-8.2">4</tspan></text>
<text x="1176.2" y="595.8" font-size="19.5" text-anchor="end" fill="#222">6.0x10<tspan font-size="11" dy="-8.2">4</tspan></text>
<text x="1176.2" y="539.6" font-size="19.5" text-anchor="end" fill="#222">8.0x10<tspan font-size="11" dy="-8.2">4</tspan></text>
<text x="1176.2" y="483.4" font-size="19.5" text-anchor="end" fill="#222">1.0x10<tspan font-size="11" dy="-8.2">5</tspan></text>
<path d="M1228.8 786.0v6 M1332.6 786.0v6 M1436.4 786.0v6 M1545.2 786.0v6 M1606.3 786.0v6" stroke="#4a4a4a" stroke-width="1.3"/>
<text x="1228.8" y="811.7" font-size="19.5" text-anchor="middle" fill="#222" >0</text>
<text x="1332.6" y="811.7" font-size="19.5" text-anchor="middle" fill="#222" >50</text>
<text x="1436.4" y="811.7" font-size="19.5" text-anchor="middle" fill="#222" >100</text>
<text x="1545.2" y="811.7" font-size="19.5" text-anchor="middle" fill="#222" >1000</text>
<text x="1606.3" y="811.7" font-size="19.5" text-anchor="middle" fill="#222" >1100</text>
<text x="1484.4" y="811.7" font-size="19.5" text-anchor="middle" fill="#222" >900</text>
<text x="1396.9" y="851" font-size="22.5" text-anchor="middle" fill="#222" >Modulation depth (%)</text>
<text transform="translate(1103,608.2) rotate(-90) scale(0.975,1)" font-size="23" text-anchor="middle" fill="#222"><tspan font-style="italic">β</tspan><tspan font-size="15" dy="5">eff</tspan><tspan dy="-5"> (cm GW</tspan><tspan font-size="15" dy="-9">-1</tspan><tspan dy="9">)</tspan></text>
<rect x="1231.4" y="743.8" width="8.6" height="8.6" fill="#8b8a1d"/>
<rect x="1249.4" y="753.7" width="7.8" height="7.8" fill="#fff" stroke="#62b03c" stroke-width="1.2"/>
<rect x="1248.8" y="753.1" width="9" height="4.5" fill="#62b03c"/>
<path d="M1263.65 757.6L1273.18 752.1L1273.18 763.1Z" fill="#c99b1f" />
<path d="M1271 764.85L1276.5 755.32L1265.5 755.32Z" fill="#2a9e63" />
<path d="M1265.8 763.4L1260.78 760.5L1260.78 754.7L1265.8 751.8L1270.82 754.7L1270.82 760.5Z" fill="#7a3a3f" />
<path d="M1280.5 751.6L1286.5 757.6L1280.5 763.6L1274.5 757.6Z" fill="#9a6cc8" />
<path d="M1321.6 749.57L1327.6 759.96L1315.6 759.96Z" fill="#2b5fb3" />
<path d="M1340.23 757.6L1329.84 751.6L1329.84 763.6Z" fill="#25b1b6" />
<circle cx="1435.3" cy="754.1" r="5.6" fill="#606060"/>
<circle cx="1322" cy="715" r="5.8" fill="#555555"/>
<path d="M1318.4 715.3A3.6 3.6 0 0 0 1325.6 715.3Z" fill="#fff"/>
<path d="M1269.7 561.9L1275.98 566.46L1273.58 573.84L1265.82 573.84L1263.42 566.46Z" fill="#f0600d" />
<path d="M1302.6 496.1L1309.1 502.6L1302.6 509.1L1296.1 502.6Z" fill="#fff" stroke="#4a7fc6" stroke-width="1.2"/>
<path d="M1302.6 496.1L1309.1 502.6L1296.1 502.6Z" fill="#4a7fc6" />
<circle cx="1545.4" cy="746.2" r="7.9" fill="url(#sg1)"/>
<text x="1489.4" y="774.3" font-size="25" fill="#c0242c">SnS<tspan font-size="16.3">2</tspan>/CTA</text>
<circle cx="1459.7" cy="458.59" r="8.2" fill="url(#sg2)"/>
<text x="1480" y="463.7" font-size="14.2" fill="#222" stroke="#222" stroke-width="0.25">SnS<tspan font-size="10.22" dy="4.26">2</tspan><tspan dy="-4.26">/CTA 515 nm</tspan></text>
<circle cx="1459.7" cy="479.49" r="5.5" fill="#606060"/>
<text x="1480" y="484.6" font-size="14.2" fill="#222" stroke="#222" stroke-width="0.25">Ti<tspan font-size="10.22" dy="4.26">2</tspan><tspan dy="-4.26">C</tspan><tspan font-size="10.22" dy="4.26">3</tspan><tspan dy="-4.26">T</tspan><tspan font-size="10.22" dy="4.26">x</tspan><tspan dy="-4.26"> 1340 nm</tspan></text>
<path d="M1459.7 493.23L1465.9 503.97L1453.5 503.97Z" fill="#2b5fb3" />
<text x="1480" y="505.5" font-size="14.2" fill="#222" stroke="#222" stroke-width="0.25">Nb<tspan font-size="10.22" dy="4.26">2</tspan><tspan dy="-4.26">C</tspan><tspan font-size="10.22" dy="4.26">4</tspan><tspan dy="-4.26"> 400 nm</tspan></text>
<path d="M1459.7 528.45L1465.9 517.71L1453.5 517.71Z" fill="#2a9e63" />
<text x="1480" y="526.4" font-size="14.2" fill="#222" stroke="#222" stroke-width="0.25">MoS<tspan font-size="10.22" dy="4.26">2</tspan><tspan dy="-4.26"> 1030 nm</tspan></text>
<path d="M1459.7 535.49L1466.5 542.29L1459.7 549.09L1452.9 542.29Z" fill="#9a6cc8" />
<text x="1480" y="547.4" font-size="14.2" fill="#222" stroke="#222" stroke-width="0.25">WS<tspan font-size="10.22" dy="4.26">2</tspan><tspan dy="-4.26"> 800 nm</tspan></text>
<path d="M1452.54 563.39L1463.28 557.19L1463.28 569.59Z" fill="#c99b1f" />
<text x="1480" y="568.5" font-size="14.2" fill="#222" stroke="#222" stroke-width="0.25">Graphene 1030 nm</text>
<path d="M1466.86 581.39L1456.12 575.19L1456.12 587.59Z" fill="#25b1b6" />
<text x="1480" y="586.5" font-size="14.2" fill="#222" stroke="#222" stroke-width="0.25">MoSe<tspan font-size="10.22" dy="4.26">2</tspan><tspan dy="-4.26"> 532 nm</tspan></text>
<path d="M1459.7 607.99L1454.33 604.89L1454.33 598.69L1459.7 595.59L1465.07 598.69L1465.07 604.89Z" fill="#7a3a3f" />
<text x="1480" y="606.9" font-size="14.2" fill="#222" stroke="#222" stroke-width="0.25">BP 1330 nm</text>
<rect x="1455" y="614.09" width="9.4" height="9.4" fill="#8b8a1d"/>
<text x="1480" y="623.9" font-size="14.2" fill="#222" stroke="#222" stroke-width="0.25">PtS 515 nm</text>
<path d="M1459.7 630.19L1466.17 634.89L1463.7 642.49L1455.7 642.49L1453.23 634.89Z" fill="#f0600d" />
<text x="1480" y="642.1" font-size="14.2" fill="#222" stroke="#222" stroke-width="0.25">PdSe<tspan font-size="10.22" dy="4.26">2</tspan><tspan dy="-4.26"> 520 nm</tspan></text>
<path d="M1459.7 650.89L1466.7 657.89L1459.7 664.89L1452.7 657.89Z" fill="#fff" stroke="#4a7fc6" stroke-width="1.2"/>
<path d="M1459.7 650.89L1466.7 657.89L1452.7 657.89Z" fill="#4a7fc6" />
<text x="1480" y="663" font-size="14.2" fill="#222" stroke="#222" stroke-width="0.25">GaS 1066 nm</text>
<rect x="1455.6" y="670.79" width="8.2" height="8.2" fill="#fff" stroke="#62b03c" stroke-width="1.2"/>
<rect x="1455" y="670.19" width="9.4" height="4.7" fill="#62b03c"/>
<text x="1480" y="680" font-size="14.2" fill="#222" stroke="#222" stroke-width="0.25">InSe 532 nm</text>
<circle cx="1459.7" cy="693.09" r="6.0" fill="#555555"/>
<path d="M1455.98 693.39A3.72 3.72 0 0 0 1463.42 693.39Z" fill="#fff"/>
<text x="1480" y="698.2" font-size="14.2" fill="#222" stroke="#222" stroke-width="0.25">Gemanene 800 nm</text>
<text x="2.8" y="919.7" font-size="44.5" letter-spacing="1.5" fill="#1a1a1a">f)</text>
<rect x="205.3" y="894.7" width="346.7" height="127.0" fill="#dde9f6" stroke="#606a80" stroke-width="1.3"/>
<rect x="134.4" y="894.7" width="417.6" height="337.2" fill="none" stroke="#4a4a4a" stroke-width="1.8"/>
<path d="M134.4 1208.8h-6 M134.4 1162.61h-6 M134.4 1116.42h-6 M134.4 1070.23h-6 M134.4 1024.04h-6 M134.4 977.85h-6 M134.4 931.65h-6 M134.4 1231.9h-3.5 M134.4 1185.71h-3.5 M134.4 1139.52h-3.5 M134.4 1093.32h-3.5 M134.4 1047.13h-3.5 M134.4 1000.94h-3.5 M134.4 954.75h-3.5 M134.4 908.56h-3.5" stroke="#4a4a4a" stroke-width="1.6" fill="none"/>
<text x="122.4" y="1215.3" font-size="19.5" text-anchor="end" fill="#222">0.0</text>
<text x="122.4" y="1169.11" font-size="19.5" text-anchor="end" fill="#222">5.0x10<tspan font-size="11" dy="-8.2">3</tspan></text>
<text x="122.4" y="1122.92" font-size="19.5" text-anchor="end" fill="#222">1.0x10<tspan font-size="11" dy="-8.2">4</tspan></text>
<text x="122.4" y="1076.73" font-size="19.5" text-anchor="end" fill="#222">1.5x10<tspan font-size="11" dy="-8.2">4</tspan></text>
<text x="122.4" y="1030.54" font-size="19.5" text-anchor="end" fill="#222">2.0x10<tspan font-size="11" dy="-8.2">4</tspan></text>
<text x="122.4" y="984.35" font-size="19.5" text-anchor="end" fill="#222">2.5x10<tspan font-size="11" dy="-8.2">4</tspan></text>
<text x="122.4" y="938.15" font-size="19.5" text-anchor="end" fill="#222">3.0x10<tspan font-size="11" dy="-8.2">4</tspan></text>
<path d="M172.36 1231.9v6 M248.29 1231.9v6 M324.22 1231.9v6 M400.15 1231.9v6 M476.07 1231.9v6 M552 1231.9v6 M134.4 1231.9v3.5 M210.33 1231.9v3.5 M286.25 1231.9v3.5 M362.18 1231.9v3.5 M438.11 1231.9v3.5 M514.04 1231.9v3.5" stroke="#4a4a4a" stroke-width="1.6" fill="none"/>
<text x="172.36" y="1258.3" font-size="20" text-anchor="middle" fill="#222" >0</text>
<text x="248.29" y="1258.3" font-size="20" text-anchor="middle" fill="#222" >20</text>
<text x="324.22" y="1258.3" font-size="20" text-anchor="middle" fill="#222" >40</text>
<text x="400.15" y="1258.3" font-size="20" text-anchor="middle" fill="#222" >60</text>
<text x="476.07" y="1258.3" font-size="20" text-anchor="middle" fill="#222" >80</text>
<text x="552" y="1258.3" font-size="20" text-anchor="middle" fill="#222" >100</text>
<text x="343.1" y="1288.3" font-size="21" text-anchor="middle" fill="#222" >Modulation depth (%)</text>
<text transform="translate(48,1053.7) rotate(-90) scale(0.906,1)" font-size="23" text-anchor="middle" fill="#222"><tspan font-style="italic">β</tspan><tspan font-size="15" dy="5">eff</tspan><tspan dy="-5"> (cm GW</tspan><tspan font-size="15" dy="-9">-1</tspan><tspan dy="9">)</tspan></text>
<rect x="173.2" y="931.3" width="8.8" height="8.8" fill="#8b8a1d"/>
<path d="M171.9 1124.16L178.1 1113.42L165.7 1113.42Z" fill="#2a9e63" />
<circle cx="438.2" cy="1117.7" r="7.6" fill="url(#sg3)"/>
<text x="385.1" y="1148.5" font-size="25" fill="#c0242c">SnS<tspan font-size="16.3">2</tspan>/CTA</text>
<circle cx="228.7" cy="1167.3" r="5.6" fill="url(#sg4)"/>
<path d="M181.4 1172L187.68 1176.56L185.28 1183.94L177.52 1183.94L175.12 1176.56Z" fill="#f0600d" />
<path d="M430.34 1165.6L441.08 1159.4L441.08 1171.8Z" fill="#c99b1f" />
<path d="M399.9 1210.3L394.7 1207.3L394.7 1201.3L399.9 1198.3L405.1 1201.3L405.1 1207.3Z" fill="#7a4a4a" />
<rect x="461" y="1204.5" width="7.8" height="7.8" fill="#fff" stroke="#62b03c" stroke-width="1.2"/>
<rect x="464.9" y="1203.9" width="4.5" height="9" fill="#62b03c"/>
<path d="M172.9 1201.8L179.5 1208.4L172.9 1215L166.3 1208.4Z" fill="#9a6cc8" />
<path d="M186.86 1208.4L176.12 1202.2L176.12 1214.6Z" fill="#25b1b6" />
<circle cx="191.7" cy="1208.4" r="5.8" fill="#606060"/>
<path d="M248.2 1200.31L254.6 1211.39L241.8 1211.39Z" fill="#2b5fb3" />
<circle cx="223.1" cy="904.02" r="8.2" fill="url(#sg5)"/>
<text x="243.4" y="909.2" font-size="14.4" fill="#222" stroke="#222" stroke-width="0.25">SnS<tspan font-size="10.37" dy="4.32">2</tspan><tspan dy="-4.32">/CTA, 800 nm</tspan></text>
<path d="M223.1 917.76L229.3 928.5L216.9 928.5Z" fill="#2b5fb3" />
<text x="243.4" y="930.1" font-size="14.4" fill="#222" stroke="#222" stroke-width="0.25">Nb<tspan font-size="10.37" dy="4.32">2</tspan><tspan dy="-4.32">C</tspan><tspan font-size="10.37" dy="4.32">4</tspan><tspan dy="-4.32">, 1550 nm</tspan></text>
<path d="M223.1 939.02L229.9 945.82L223.1 952.62L216.3 945.82Z" fill="#9a6cc8" />
<text x="243.4" y="951" font-size="14.4" fill="#222" stroke="#222" stroke-width="0.25">MoS<tspan font-size="10.37" dy="4.32">2</tspan><tspan dy="-4.32">, 1030 nm</tspan></text>
<path d="M230.26 966.72L219.52 960.52L219.52 972.92Z" fill="#25b1b6" />
<text x="243.4" y="971.9" font-size="14.4" fill="#222" stroke="#222" stroke-width="0.25">NbS<tspan font-size="10.37" dy="4.32">2</tspan><tspan dy="-4.32">, 800 nm</tspan></text>
<rect x="218.4" y="982.92" width="9.4" height="9.4" fill="#8b8a1d"/>
<text x="243.4" y="992.8" font-size="14.4" fill="#222" stroke="#222" stroke-width="0.25">PtSe<tspan font-size="10.37" dy="4.32">2</tspan><tspan dy="-4.32">, 1030 nm</tspan></text>
<circle cx="223.1" cy="1008.52" r="5.5" fill="url(#sg6)"/>
<text x="243.4" y="1013.7" font-size="14.4" fill="#222" stroke="#222" stroke-width="0.25">GaS, 800 nm</text>
<circle cx="386.6" cy="904.02" r="5.5" fill="#606060"/>
<text x="406.9" y="909.2" font-size="14.4" fill="#222" stroke="#222" stroke-width="0.25">Ti<tspan font-size="10.37" dy="4.32">2</tspan><tspan dy="-4.32">C</tspan><tspan font-size="10.37" dy="4.32">3</tspan><tspan dy="-4.32">T</tspan><tspan font-size="10.37" dy="4.32">x</tspan><tspan dy="-4.32">, 800 nm</tspan></text>
<path d="M386.6 932.07L392.8 921.34L380.4 921.34Z" fill="#2a9e63" />
<text x="406.9" y="930.1" font-size="14.4" fill="#222" stroke="#222" stroke-width="0.25">WS<tspan font-size="10.37" dy="4.32">2</tspan><tspan dy="-4.32">, 1030 nm</tspan></text>
<path d="M379.44 945.82L390.18 939.62L390.18 952.02Z" fill="#c99b1f" />
<text x="406.9" y="951" font-size="14.4" fill="#222" stroke="#222" stroke-width="0.25">Graphene-Cu, 532 nm</text>
<path d="M386.6 972.92L381.23 969.82L381.23 963.62L386.6 960.52L391.97 963.62L391.97 969.82Z" fill="#7a3a3f" />
<text x="406.9" y="971.9" font-size="14.4" fill="#222" stroke="#222" stroke-width="0.25">ZrTe<tspan font-size="10.37" dy="4.32">2</tspan><tspan dy="-4.32">, 532 nm</tspan></text>
<path d="M386.6 980.82L393.07 985.51L390.6 993.12L382.6 993.12L380.13 985.51Z" fill="#f0600d" />
<text x="406.9" y="992.8" font-size="14.4" fill="#222" stroke="#222" stroke-width="0.25">PdSe<tspan font-size="10.37" dy="4.32">2</tspan><tspan dy="-4.32">, 1040 nm</tspan></text>
<rect x="382.5" y="1004.42" width="8.2" height="8.2" fill="#fff" stroke="#62b03c" stroke-width="1.2"/>
<rect x="386.6" y="1003.82" width="4.7" height="9.4" fill="#62b03c"/>
<text x="406.9" y="1013.7" font-size="14.4" fill="#222" stroke="#222" stroke-width="0.25">TiS<tspan font-size="10.37" dy="4.32">2</tspan><tspan dy="-4.32">, 532 nm</tspan></text>
<text x="574.2" y="920.2" font-size="44.5" letter-spacing="1.5" fill="#1a1a1a">g)</text>
<rect x="660" y="895.1" width="419.1" height="338" fill="none" stroke="#4a4a4a" stroke-width="1.8"/>
<rect x="660.6" y="896.0" width="190.1" height="119.9" fill="#dde9f6" stroke="#5a5aa0" stroke-width="1.3"/>
<path d="M660 1202.37h-6 M660 1140.92h-6 M660 1079.46h-6 M660 1018.01h-6 M660 956.55h-6 M660 895.1h-6 M660 1233.1h-3.5 M660 1171.65h-3.5 M660 1110.19h-3.5 M660 1048.74h-3.5 M660 987.28h-3.5 M660 925.83h-3.5" stroke="#4a4a4a" stroke-width="1.6" fill="none"/>
<text x="649" y="1209.17" font-size="19.5" text-anchor="end" fill="#222" >0</text>
<text x="649" y="1147.72" font-size="19.5" text-anchor="end" fill="#222" >10</text>
<text x="649" y="1086.26" font-size="19.5" text-anchor="end" fill="#222" >20</text>
<text x="649" y="1024.81" font-size="19.5" text-anchor="end" fill="#222" >30</text>
<text x="649" y="963.35" font-size="19.5" text-anchor="end" fill="#222" >40</text>
<text x="649" y="901.9" font-size="19.5" text-anchor="end" fill="#222" >50</text>
<path d="M684.65 1233.1v6 M783.26 1233.1v6 M881.88 1233.1v6 M980.49 1233.1v6 M1079.1 1233.1v6 M733.96 1233.1v3.5 M832.57 1233.1v3.5 M931.18 1233.1v3.5 M1029.79 1233.1v3.5" stroke="#4a4a4a" stroke-width="1.6" fill="none"/>
<text x="684.65" y="1258.3" font-size="20" text-anchor="middle" fill="#222" >0</text>
<text x="783.26" y="1258.3" font-size="20" text-anchor="middle" fill="#222" >20</text>
<text x="881.88" y="1258.3" font-size="20" text-anchor="middle" fill="#222" >40</text>
<text x="980.49" y="1258.3" font-size="20" text-anchor="middle" fill="#222" >60</text>
<text x="1079.1" y="1258.3" font-size="20" text-anchor="middle" fill="#222" >80</text>
<text x="873" y="1289" font-size="22.5" text-anchor="middle" fill="#222" >Modulation depth (%)</text>
<text transform="translate(617,1049) rotate(-90)" font-size="23" text-anchor="middle" fill="#222"><tspan font-style="italic">γ</tspan><tspan font-size="15" dy="5">eff</tspan><tspan dy="-5"> (cm</tspan><tspan font-size="15" dy="-9">3</tspan><tspan dy="9"> GW</tspan><tspan font-size="15" dy="-9">-2</tspan><tspan dy="9">)</tspan></text>
<circle cx="979.8" cy="926.1" r="7.4" fill="url(#sg7)"/>
<text x="929" y="965.7" font-size="25" fill="#c0242c">SnS<tspan font-size="16.3">2</tspan>/CTA</text>
<circle cx="684.8" cy="1188.5" r="5.8" fill="#666666"/>
<path d="M704.64 1180.2L715.38 1174L715.38 1186.4Z" fill="#c99b1f" />
<path d="M754 1180L760.8 1186.8L754 1193.6L747.2 1186.8Z" fill="#a585d0" />
<path d="M832.3 1209.66L838.5 1198.92L826.1 1198.92Z" fill="#4aae72" />
<path d="M841.16 1201.7L830.42 1195.5L830.42 1207.9Z" fill="#40b8c0" />
<path d="M980.1 1192.61L986.5 1203.69L973.7 1203.69Z" fill="#4a74c4" />
<circle cx="679.4" cy="904.9" r="7.789999999999999" fill="url(#sg8)"/>
<text x="697.6" y="909.4" font-size="12.5" fill="#222" stroke="#222" stroke-width="0.25">SnS<tspan font-size="9" dy="3.75">2</tspan><tspan dy="-3.75">/CTA 1550 nm</tspan></text>
<circle cx="679.4" cy="923.1" r="5.225" fill="#606060"/>
<text x="697.6" y="927.6" font-size="12.5" fill="#222" stroke="#222" stroke-width="0.25">MoS<tspan font-size="9" dy="3.75">2</tspan><tspan dy="-3.75">, 1300 nm</tspan></text>
<path d="M679.4 934.5L685.29 944.7L673.51 944.7Z" fill="#4a74c4" />
<text x="697.6" y="945.8" font-size="12.5" fill="#222" stroke="#222" stroke-width="0.25">SiC, 1550 nm</text>
<path d="M679.4 963.7L685.29 953.5L673.51 953.5Z" fill="#4aae72" />
<text x="697.6" y="961.4" font-size="12.5" fill="#222" stroke="#222" stroke-width="0.25">LiNbO<tspan font-size="9" dy="3.75">3</tspan><tspan dy="-3.75">, 532 nm</tspan></text>
<path d="M679.4 968.64L685.86 975.1L679.4 981.56L672.94 975.1Z" fill="#a585d0" />
<text x="697.6" y="979.6" font-size="12.5" fill="#222" stroke="#222" stroke-width="0.25">CdS/CdSe, 1300 nm</text>
<path d="M672.6 990.1L682.8 984.21L682.8 995.99Z" fill="#c99b1f" />
<text x="697.6" y="994.6" font-size="12.5" fill="#222" stroke="#222" stroke-width="0.25">Antimony-tin oxide, 800 nm</text>
<path d="M686.2 1006.4L676 1000.51L676 1012.29Z" fill="#25b1b6" />
<text x="697.6" y="1010.9" font-size="12.5" fill="#222" stroke="#222" stroke-width="0.25">n-heptan, 800 nm</text>
<text x="1108" y="919.8" font-size="44.5" letter-spacing="1.5" fill="#1a1a1a">h)</text>
<rect x="1186.8" y="895.4" width="419.2" height="337.8" fill="none" stroke="#4a4a4a" stroke-width="1.8"/>
<rect x="1422.7" y="895.9" width="183.0" height="173.7" fill="#dde9f6" stroke="#6a6aa8" stroke-width="1.3"/>
<path d="M1186.8 895.4h-6 M1186.8 943.66h-6 M1186.8 991.91h-6 M1186.8 1040.17h-6 M1186.8 1088.43h-6 M1186.8 1136.69h-6 M1186.8 1184.94h-6 M1186.8 1233.2h-6 M1186.8 919.53h-3.5 M1186.8 967.79h-3.5 M1186.8 1016.04h-3.5 M1186.8 1064.3h-3.5 M1186.8 1112.56h-3.5 M1186.8 1160.81h-3.5 M1186.8 1209.07h-3.5" stroke="#4a4a4a" stroke-width="1.6" fill="none"/>
<text x="1175.7" y="901.4" font-size="20" text-anchor="end" fill="#222" >2</text>
<text x="1175.7" y="949.66" font-size="20" text-anchor="end" fill="#222" >1</text>
<text x="1175.7" y="997.91" font-size="20" text-anchor="end" fill="#222" >0</text>
<text x="1175.7" y="1046.17" font-size="20" text-anchor="end" fill="#222" >-1</text>
<text x="1175.7" y="1094.43" font-size="20" text-anchor="end" fill="#222" >-2</text>
<text x="1175.7" y="1142.69" font-size="20" text-anchor="end" fill="#222" >-3</text>
<text x="1175.7" y="1190.94" font-size="20" text-anchor="end" fill="#222" >-4</text>
<text x="1175.7" y="1239.2" font-size="20" text-anchor="end" fill="#222" >-5</text>
<path d="M1239.2 1233.2v6 M1344 1233.2v6 M1448.8 1233.2v6 M1553.6 1233.2v6 M1186.8 1233.2v3.5 M1291.6 1233.2v3.5 M1396.4 1233.2v3.5 M1501.2 1233.2v3.5 M1606 1233.2v3.5" stroke="#4a4a4a" stroke-width="1.6" fill="none"/>
<text x="1239.2" y="1258.3" font-size="20" text-anchor="middle" fill="#222" >400</text>
<text x="1344" y="1258.3" font-size="20" text-anchor="middle" fill="#222" >800</text>
<text x="1448.8" y="1258.3" font-size="20" text-anchor="middle" fill="#222" >1200</text>
<text x="1553.6" y="1258.3" font-size="20" text-anchor="middle" fill="#222" >1600</text>
<text x="1417.8" y="1287" font-size="22.3" text-anchor="middle" fill="#222" >Wavelength (nm)</text>
<text transform="translate(1147,1041.9) rotate(-90) scale(1.24,1)" font-size="23" text-anchor="middle" fill="#222">log(<tspan font-style="italic">F</tspan><tspan font-size="15" dy="5" font-style="italic">th</tspan><tspan dy="-5"> J cm</tspan><tspan font-size="15" dy="-9">-2</tspan><tspan dy="9">)</tspan></text>
<path d="M1412.8 923.4L1418 932.4L1407.6 932.4Z" fill="#2b5fb3" />
<circle cx="1412.8" cy="944.3" r="4.4" fill="#f2a36c"/>
<path d="M1280.2 980.6L1271.2 975.4L1271.2 985.8Z" fill="#25b1b6" />
<path d="M1268.2 987.2L1277.2 982L1277.2 992.4Z" fill="#c99b1f" />
<path d="M1274.2 1003.1L1279.4 994.1L1269 994.1Z" fill="#2a9e63" />
<path d="M1274.2 1020.3L1279.7 1025.8L1274.2 1031.3L1268.7 1025.8Z" fill="#9a6cc8" />
<circle cx="1274.2" cy="1040.6" r="4.6" fill="#6a3a3a"/>
<circle cx="1539.9" cy="1131.4" r="8.2" fill="url(#sg9)"/>
<circle cx="1344.2" cy="1198.4" r="8.2" fill="url(#sg10)"/>
<text x="1488.7" y="1163.7" font-size="25" fill="#c0242c">SnS<tspan font-size="16.3">2</tspan>/CTA</text>
<text x="1292.4" y="1226.4" font-size="25" fill="#c0242c">SnS<tspan font-size="16.3">2</tspan>/CTA</text>
<circle cx="1440.2" cy="905.79" r="8.6" fill="url(#sg11)"/>
<text x="1461" y="910.9" font-size="14.2" fill="#222" stroke="#222" stroke-width="0.25">SnS<tspan font-size="10.22" dy="4.26">2</tspan><tspan dy="-4.26">/CTA, 800 nm</tspan></text>
<circle cx="1440.2" cy="925.89" r="8.6" fill="url(#sg12)"/>
<text x="1461" y="931" font-size="14.2" fill="#222" stroke="#222" stroke-width="0.25">SnS<tspan font-size="10.22" dy="4.26">2</tspan><tspan dy="-4.26">/CTA, 1550 nm</tspan></text>
<circle cx="1440.2" cy="947.49" r="4.3" fill="#f2a36c"/>
<text x="1461" y="952.6" font-size="14.2" fill="#222" stroke="#222" stroke-width="0.25">MoSe<tspan font-size="10.22" dy="4.26">2</tspan><tspan dy="-4.26">, 1064 nm</tspan></text>
<path d="M1440.2 961.86L1445.16 970.45L1435.24 970.45Z" fill="#2b5fb3" />
<text x="1461" y="972.7" font-size="14.2" fill="#222" stroke="#222" stroke-width="0.25">MoS<tspan font-size="10.22" dy="4.26">2</tspan><tspan dy="-4.26">, 1064 nm</tspan></text>
<path d="M1440.2 994.92L1445.16 986.32L1435.24 986.32Z" fill="#2a9e63" />
<text x="1461" y="994.3" font-size="14.2" fill="#222" stroke="#222" stroke-width="0.25">Graphene, 532 nm</text>
<path d="M1440.2 1001.25L1445.64 1006.69L1440.2 1012.13L1434.76 1006.69Z" fill="#9a6cc8" />
<text x="1461" y="1011.8" font-size="14.2" fill="#222" stroke="#222" stroke-width="0.25">Graphene-Zn, 532 nm</text>
<path d="M1434.47 1024.09L1443.06 1019.13L1443.06 1029.05Z" fill="#c99b1f" />
<text x="1461" y="1029.2" font-size="14.2" fill="#222" stroke="#222" stroke-width="0.25">Zn-porphyrin, 532 nm</text>
<path d="M1445.93 1041.59L1437.34 1036.63L1437.34 1046.55Z" fill="#25b1b6" />
<text x="1461" y="1046.7" font-size="14.2" fill="#222" stroke="#222" stroke-width="0.25">Cu-porphyrin, 532 nm</text>
<circle cx="1440.2" cy="1059.09" r="3.3600000000000003" fill="#6a3a3a"/>
<text x="1461" y="1064.2" font-size="14.2" fill="#222" stroke="#222" stroke-width="0.25">Graphene-Cu, 532 nm</text>
<circle cx="538.7" cy="1355.4" r="15.3" fill="#e8382b" stroke="#000" stroke-opacity="0.12" stroke-width="0.8"/>
<path d="M763 0L583 0L583 1147C540 1106 483 1065 413 1024C343 983 280 952 225 932L225 1106C326 1153 413 1211 488 1278C563 1345 616 1410 647 1472L763 1472Z" fill="#fff" transform="translate(533.27,1363.46) scale(0.01099,-0.01099)"/>
<text x="565.7" y="1365.1" font-size="27.5" fill="#222">SnS<tspan font-size="17.5">2</tspan>/CTA</text>
<circle cx="765.7" cy="1355.4" r="15.3" fill="#1f6fbe" stroke="#000" stroke-opacity="0.12" stroke-width="0.8"/>
<text x="765.7" y="1363.28" font-size="22.5" text-anchor="middle" fill="#fff" >2</text>
<text x="791.3" y="1365.1" font-size="27.5" fill="#222">SnS<tspan font-size="17.5">2</tspan>/OTA</text>
<circle cx="991.4" cy="1355.4" r="15.3" fill="#1b9a42" stroke="#000" stroke-opacity="0.12" stroke-width="0.8"/>
<text x="991.4" y="1363.28" font-size="22.5" text-anchor="middle" fill="#fff" >3</text>
<text x="1018.7" y="1365.1" font-size="27.5" fill="#222">SnS<tspan font-size="17.5">2</tspan></text>
</svg></body></html>
